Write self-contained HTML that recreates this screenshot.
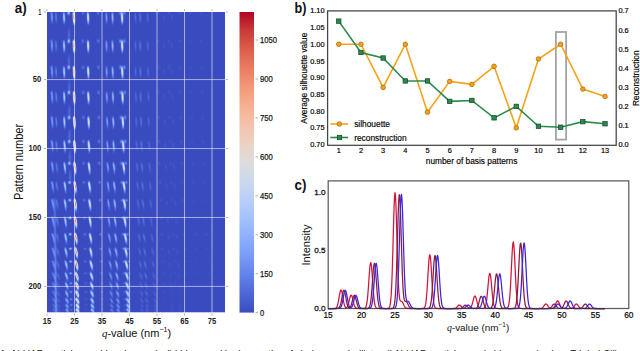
<!DOCTYPE html>
<html><head><meta charset="utf-8"><style>
html,body{margin:0;padding:0;background:#fff;width:640px;height:351px;overflow:hidden}
</style></head><body>
<svg width="640" height="351" viewBox="0 0 640 351" style="position:absolute;left:0;top:0;font-family:'Liberation Sans', sans-serif">
<rect width="640" height="351" fill="#fff"/>
<defs><filter id="cm" x="0" y="0" width="1" height="1" filterUnits="objectBoundingBox" color-interpolation-filters="sRGB"><feComponentTransfer><feFuncR type="table" tableValues="0.2275 0.3020 0.3804 0.4667 0.5529 0.6392 0.7216 0.8000 0.8667 0.9255 0.9569 0.9686 0.9529 0.9176 0.8627 0.7882 0.7020"/><feFuncG type="table" tableValues="0.2980 0.4039 0.5098 0.6039 0.6863 0.7569 0.8118 0.8471 0.8627 0.8235 0.7647 0.6902 0.5961 0.4902 0.3686 0.2314 0.0118"/><feFuncB type="table" tableValues="0.7529 0.8431 0.9176 0.9647 0.9922 0.9961 0.9725 0.9294 0.8588 0.7686 0.6706 0.5725 0.4745 0.3804 0.2941 0.2157 0.1490"/></feComponentTransfer></filter>
<radialGradient id="gb"><stop offset="0.000" stop-color="#fff" stop-opacity="1.000"/><stop offset="0.167" stop-color="#fff" stop-opacity="0.882"/><stop offset="0.333" stop-color="#fff" stop-opacity="0.607"/><stop offset="0.500" stop-color="#fff" stop-opacity="0.325"/><stop offset="0.667" stop-color="#fff" stop-opacity="0.135"/><stop offset="0.833" stop-color="#fff" stop-opacity="0.044"/><stop offset="1.000" stop-color="#fff" stop-opacity="0.011"/></radialGradient>
<clipPath id="hc"><rect x="47.0" y="12.0" width="178.0" height="300.6"/></clipPath></defs>
<g filter="url(#cm)" clip-path="url(#hc)" fill="url(#gb)"><rect x="47.0" y="12.0" width="178.0" height="300.6" fill="#000"/>
<ellipse cx="51.6" cy="13" rx="2.04" ry="3.2" opacity=".052"/>
<ellipse cx="51.7" cy="14.3" rx="2.04" ry="3.2" opacity=".077"/>
<ellipse cx="51.8" cy="15.6" rx="2.04" ry="3.2" opacity=".098"/>
<ellipse cx="51.9" cy="17" rx="2.04" ry="3.2" opacity=".11"/>
<ellipse cx="52" cy="18.3" rx="2.04" ry="3.2" opacity=".106"/>
<ellipse cx="52" cy="19.6" rx="2.04" ry="3.2" opacity=".088"/>
<ellipse cx="52.1" cy="21" rx="2.04" ry="3.2" opacity=".064"/>
<ellipse cx="52.1" cy="22.3" rx="2.04" ry="3.2" opacity=".04"/>
<ellipse cx="52.1" cy="23.6" rx="2.04" ry="3.2" opacity=".022"/>
<ellipse cx="55.8" cy="13" rx="2.04" ry="3.2" opacity=".028"/>
<ellipse cx="55.9" cy="14.3" rx="2.04" ry="3.2" opacity=".042"/>
<ellipse cx="56" cy="15.6" rx="2.04" ry="3.2" opacity=".054"/>
<ellipse cx="56" cy="17" rx="2.04" ry="3.2" opacity=".06"/>
<ellipse cx="56.1" cy="18.3" rx="2.04" ry="3.2" opacity=".058"/>
<ellipse cx="56.2" cy="19.6" rx="2.04" ry="3.2" opacity=".048"/>
<ellipse cx="56.2" cy="21" rx="2.04" ry="3.2" opacity=".035"/>
<ellipse cx="56.2" cy="22.3" rx="2.04" ry="3.2" opacity=".022"/>
<ellipse cx="63.8" cy="13" rx="2.04" ry="3.2" opacity=".099"/>
<ellipse cx="63.9" cy="14.3" rx="2.04" ry="3.2" opacity=".146"/>
<ellipse cx="63.9" cy="15.6" rx="2.04" ry="3.2" opacity=".188"/>
<ellipse cx="64" cy="17" rx="2.04" ry="3.2" opacity=".209"/>
<ellipse cx="64.1" cy="18.3" rx="2.04" ry="3.2" opacity=".202"/>
<ellipse cx="64.1" cy="19.6" rx="2.04" ry="3.2" opacity=".169"/>
<ellipse cx="64.2" cy="21" rx="2.04" ry="3.2" opacity=".122"/>
<ellipse cx="64.2" cy="22.3" rx="2.04" ry="3.2" opacity=".077"/>
<ellipse cx="64.2" cy="23.6" rx="2.04" ry="3.2" opacity=".042"/>
<ellipse cx="73.7" cy="13" rx="1.98" ry="3.2" opacity=".32"/>
<ellipse cx="73.8" cy="14.3" rx="1.98" ry="3.2" opacity=".474"/>
<ellipse cx="73.9" cy="15.6" rx="1.98" ry="3.2" opacity=".608"/>
<ellipse cx="73.9" cy="17" rx="1.98" ry="3.2" opacity=".677"/>
<ellipse cx="74" cy="18.3" rx="1.98" ry="3.2" opacity=".653"/>
<ellipse cx="74" cy="19.6" rx="1.98" ry="3.2" opacity=".547"/>
<ellipse cx="74.1" cy="21" rx="1.98" ry="3.2" opacity=".396"/>
<ellipse cx="74.1" cy="22.3" rx="1.98" ry="3.2" opacity=".249"/>
<ellipse cx="74.1" cy="23.6" rx="1.98" ry="3.2" opacity=".136"/>
<ellipse cx="87.8" cy="13" rx="2.04" ry="3.2" opacity=".155"/>
<ellipse cx="87.9" cy="14.3" rx="2.04" ry="3.2" opacity=".23"/>
<ellipse cx="88" cy="15.6" rx="2.04" ry="3.2" opacity=".295"/>
<ellipse cx="88.1" cy="17" rx="2.04" ry="3.2" opacity=".329"/>
<ellipse cx="88.1" cy="18.3" rx="2.04" ry="3.2" opacity=".317"/>
<ellipse cx="88.2" cy="19.6" rx="2.04" ry="3.2" opacity=".265"/>
<ellipse cx="88.2" cy="21" rx="2.04" ry="3.2" opacity=".192"/>
<ellipse cx="88.3" cy="22.3" rx="2.04" ry="3.2" opacity=".121"/>
<ellipse cx="88.3" cy="23.6" rx="2.04" ry="3.2" opacity=".066"/>
<ellipse cx="106.2" cy="13" rx="2.04" ry="3.2" opacity=".052"/>
<ellipse cx="106.3" cy="14.3" rx="2.04" ry="3.2" opacity=".077"/>
<ellipse cx="106.4" cy="15.6" rx="2.04" ry="3.2" opacity=".098"/>
<ellipse cx="106.5" cy="17" rx="2.04" ry="3.2" opacity=".11"/>
<ellipse cx="106.5" cy="18.3" rx="2.04" ry="3.2" opacity=".106"/>
<ellipse cx="106.6" cy="19.6" rx="2.04" ry="3.2" opacity=".088"/>
<ellipse cx="106.6" cy="21" rx="2.04" ry="3.2" opacity=".064"/>
<ellipse cx="106.6" cy="22.3" rx="2.04" ry="3.2" opacity=".04"/>
<ellipse cx="106.6" cy="23.6" rx="2.04" ry="3.2" opacity=".022"/>
<ellipse cx="112.3" cy="13" rx="2.04" ry="3.2" opacity=".075"/>
<ellipse cx="112.4" cy="14.3" rx="2.04" ry="3.2" opacity=".111"/>
<ellipse cx="112.5" cy="15.6" rx="2.04" ry="3.2" opacity=".143"/>
<ellipse cx="112.5" cy="17" rx="2.04" ry="3.2" opacity=".159"/>
<ellipse cx="112.6" cy="18.3" rx="2.04" ry="3.2" opacity=".154"/>
<ellipse cx="112.6" cy="19.6" rx="2.04" ry="3.2" opacity=".129"/>
<ellipse cx="112.7" cy="21" rx="2.04" ry="3.2" opacity=".093"/>
<ellipse cx="112.7" cy="22.3" rx="2.04" ry="3.2" opacity=".059"/>
<ellipse cx="112.7" cy="23.6" rx="2.04" ry="3.2" opacity=".032"/>
<ellipse cx="121.8" cy="13" rx="2.04" ry="3.2" opacity=".16"/>
<ellipse cx="121.9" cy="14.3" rx="2.04" ry="3.2" opacity=".237"/>
<ellipse cx="122" cy="15.6" rx="2.04" ry="3.2" opacity=".304"/>
<ellipse cx="122.1" cy="17" rx="2.04" ry="3.2" opacity=".338"/>
<ellipse cx="122.2" cy="18.3" rx="2.04" ry="3.2" opacity=".327"/>
<ellipse cx="122.2" cy="19.6" rx="2.04" ry="3.2" opacity=".273"/>
<ellipse cx="122.2" cy="21" rx="2.04" ry="3.2" opacity=".198"/>
<ellipse cx="122.3" cy="22.3" rx="2.04" ry="3.2" opacity=".125"/>
<ellipse cx="122.3" cy="23.6" rx="2.04" ry="3.2" opacity=".068"/>
<ellipse cx="135.1" cy="13" rx="2.04" ry="3.2" opacity=".019"/>
<ellipse cx="135.2" cy="14.3" rx="2.04" ry="3.2" opacity=".028"/>
<ellipse cx="135.3" cy="15.6" rx="2.04" ry="3.2" opacity=".036"/>
<ellipse cx="135.4" cy="17" rx="2.04" ry="3.2" opacity=".04"/>
<ellipse cx="135.5" cy="18.3" rx="2.04" ry="3.2" opacity=".038"/>
<ellipse cx="135.5" cy="19.6" rx="2.04" ry="3.2" opacity=".032"/>
<ellipse cx="135.6" cy="21" rx="2.04" ry="3.2" opacity=".023"/>
<ellipse cx="135.6" cy="22.3" rx="2.04" ry="3.2" opacity=".015"/>
<ellipse cx="139.9" cy="13" rx="2.04" ry="3.2" opacity=".024"/>
<ellipse cx="140" cy="14.3" rx="2.04" ry="3.2" opacity=".035"/>
<ellipse cx="140.1" cy="15.6" rx="2.04" ry="3.2" opacity=".045"/>
<ellipse cx="140.2" cy="17" rx="2.04" ry="3.2" opacity=".05"/>
<ellipse cx="140.2" cy="18.3" rx="2.04" ry="3.2" opacity=".048"/>
<ellipse cx="140.3" cy="19.6" rx="2.04" ry="3.2" opacity=".04"/>
<ellipse cx="140.3" cy="21" rx="2.04" ry="3.2" opacity=".029"/>
<ellipse cx="140.3" cy="22.3" rx="2.04" ry="3.2" opacity=".018"/>
<ellipse cx="147.5" cy="13" rx="2.04" ry="3.2" opacity=".016"/>
<ellipse cx="147.6" cy="14.3" rx="2.04" ry="3.2" opacity=".024"/>
<ellipse cx="147.7" cy="15.6" rx="2.04" ry="3.2" opacity=".031"/>
<ellipse cx="147.8" cy="17" rx="2.04" ry="3.2" opacity=".035"/>
<ellipse cx="147.9" cy="18.3" rx="2.04" ry="3.2" opacity=".034"/>
<ellipse cx="147.9" cy="19.6" rx="2.04" ry="3.2" opacity=".028"/>
<ellipse cx="147.9" cy="21" rx="2.04" ry="3.2" opacity=".02"/>
<ellipse cx="148" cy="22.3" rx="2.04" ry="3.2" opacity=".013"/>
<ellipse cx="163.6" cy="15.6" rx="2.04" ry="3.2" opacity=".013"/>
<ellipse cx="163.7" cy="17" rx="2.04" ry="3.2" opacity=".015"/>
<ellipse cx="163.8" cy="18.3" rx="2.04" ry="3.2" opacity=".014"/>
<ellipse cx="163.8" cy="19.6" rx="2.04" ry="3.2" opacity=".012"/>
<ellipse cx="171.8" cy="15.6" rx="2.04" ry="3.2" opacity=".013"/>
<ellipse cx="171.9" cy="17" rx="2.04" ry="3.2" opacity=".015"/>
<ellipse cx="171.9" cy="18.3" rx="2.04" ry="3.2" opacity=".014"/>
<ellipse cx="172" cy="19.6" rx="2.04" ry="3.2" opacity=".012"/>
<ellipse cx="68.7" cy="12.8" rx="2.7" ry="3.9" opacity=".3"/>
<ellipse cx="82.9" cy="12.8" rx="2.7" ry="3.9" opacity=".09"/>
<ellipse cx="98.1" cy="12.8" rx="2.7" ry="3.9" opacity=".1"/>
<ellipse cx="120.2" cy="12.8" rx="2.7" ry="3.9" opacity=".14"/>
<ellipse cx="124.3" cy="12.8" rx="2.7" ry="3.9" opacity=".14"/>
<ellipse cx="51.3" cy="12.8" rx="2.7" ry="3.9" opacity=".06"/>
<ellipse cx="157.8" cy="12.8" rx="2.7" ry="3.9" opacity=".03"/>
<ellipse cx="168.7" cy="12.8" rx="2.7" ry="3.9" opacity=".025"/>
<ellipse cx="179.5" cy="12.8" rx="2.7" ry="3.9" opacity=".025"/>
<ellipse cx="190.4" cy="12.8" rx="2.7" ry="3.9" opacity=".02"/>
<ellipse cx="201.3" cy="12.8" rx="2.7" ry="3.9" opacity=".02"/>
<ellipse cx="51.7" cy="41.3" rx="2.04" ry="3.2" opacity=".052"/>
<ellipse cx="51.8" cy="42.6" rx="2.04" ry="3.2" opacity=".077"/>
<ellipse cx="51.9" cy="43.9" rx="2.04" ry="3.2" opacity=".098"/>
<ellipse cx="51.9" cy="45.3" rx="2.04" ry="3.2" opacity=".11"/>
<ellipse cx="52" cy="46.6" rx="2.04" ry="3.2" opacity=".106"/>
<ellipse cx="52" cy="47.9" rx="2.04" ry="3.2" opacity=".088"/>
<ellipse cx="52.1" cy="49.3" rx="2.04" ry="3.2" opacity=".064"/>
<ellipse cx="52.1" cy="50.6" rx="2.04" ry="3.2" opacity=".04"/>
<ellipse cx="52.1" cy="51.9" rx="2.04" ry="3.2" opacity=".022"/>
<ellipse cx="55.8" cy="41.3" rx="2.04" ry="3.2" opacity=".028"/>
<ellipse cx="55.9" cy="42.6" rx="2.04" ry="3.2" opacity=".042"/>
<ellipse cx="56" cy="43.9" rx="2.04" ry="3.2" opacity=".054"/>
<ellipse cx="56.1" cy="45.3" rx="2.04" ry="3.2" opacity=".06"/>
<ellipse cx="56.1" cy="46.6" rx="2.04" ry="3.2" opacity=".058"/>
<ellipse cx="56.2" cy="47.9" rx="2.04" ry="3.2" opacity=".048"/>
<ellipse cx="56.2" cy="49.3" rx="2.04" ry="3.2" opacity=".035"/>
<ellipse cx="56.2" cy="50.6" rx="2.04" ry="3.2" opacity=".022"/>
<ellipse cx="63.8" cy="41.3" rx="2.04" ry="3.2" opacity=".099"/>
<ellipse cx="63.9" cy="42.6" rx="2.04" ry="3.2" opacity=".146"/>
<ellipse cx="64" cy="43.9" rx="2.04" ry="3.2" opacity=".188"/>
<ellipse cx="64" cy="45.3" rx="2.04" ry="3.2" opacity=".209"/>
<ellipse cx="64.1" cy="46.6" rx="2.04" ry="3.2" opacity=".202"/>
<ellipse cx="64.2" cy="47.9" rx="2.04" ry="3.2" opacity=".169"/>
<ellipse cx="64.2" cy="49.3" rx="2.04" ry="3.2" opacity=".122"/>
<ellipse cx="64.2" cy="50.6" rx="2.04" ry="3.2" opacity=".077"/>
<ellipse cx="64.2" cy="51.9" rx="2.04" ry="3.2" opacity=".042"/>
<ellipse cx="73.7" cy="41.3" rx="1.98" ry="3.2" opacity=".32"/>
<ellipse cx="73.8" cy="42.6" rx="1.98" ry="3.2" opacity=".474"/>
<ellipse cx="73.9" cy="43.9" rx="1.98" ry="3.2" opacity=".608"/>
<ellipse cx="74" cy="45.3" rx="1.98" ry="3.2" opacity=".677"/>
<ellipse cx="74" cy="46.6" rx="1.98" ry="3.2" opacity=".653"/>
<ellipse cx="74.1" cy="47.9" rx="1.98" ry="3.2" opacity=".547"/>
<ellipse cx="74.1" cy="49.3" rx="1.98" ry="3.2" opacity=".396"/>
<ellipse cx="74.1" cy="50.6" rx="1.98" ry="3.2" opacity=".249"/>
<ellipse cx="74.1" cy="51.9" rx="1.98" ry="3.2" opacity=".136"/>
<ellipse cx="87.9" cy="41.3" rx="2.04" ry="3.2" opacity=".155"/>
<ellipse cx="88" cy="42.6" rx="2.04" ry="3.2" opacity=".23"/>
<ellipse cx="88.1" cy="43.9" rx="2.04" ry="3.2" opacity=".295"/>
<ellipse cx="88.1" cy="45.3" rx="2.04" ry="3.2" opacity=".329"/>
<ellipse cx="88.2" cy="46.6" rx="2.04" ry="3.2" opacity=".317"/>
<ellipse cx="88.2" cy="47.9" rx="2.04" ry="3.2" opacity=".265"/>
<ellipse cx="88.3" cy="49.3" rx="2.04" ry="3.2" opacity=".192"/>
<ellipse cx="88.3" cy="50.6" rx="2.04" ry="3.2" opacity=".121"/>
<ellipse cx="88.3" cy="51.9" rx="2.04" ry="3.2" opacity=".066"/>
<ellipse cx="106.3" cy="41.3" rx="2.04" ry="3.2" opacity=".052"/>
<ellipse cx="106.4" cy="42.6" rx="2.04" ry="3.2" opacity=".077"/>
<ellipse cx="106.4" cy="43.9" rx="2.04" ry="3.2" opacity=".098"/>
<ellipse cx="106.5" cy="45.3" rx="2.04" ry="3.2" opacity=".11"/>
<ellipse cx="106.6" cy="46.6" rx="2.04" ry="3.2" opacity=".106"/>
<ellipse cx="106.6" cy="47.9" rx="2.04" ry="3.2" opacity=".088"/>
<ellipse cx="106.7" cy="49.3" rx="2.04" ry="3.2" opacity=".064"/>
<ellipse cx="106.7" cy="50.6" rx="2.04" ry="3.2" opacity=".04"/>
<ellipse cx="106.7" cy="51.9" rx="2.04" ry="3.2" opacity=".022"/>
<ellipse cx="112.3" cy="41.3" rx="2.04" ry="3.2" opacity=".075"/>
<ellipse cx="112.4" cy="42.6" rx="2.04" ry="3.2" opacity=".111"/>
<ellipse cx="112.5" cy="43.9" rx="2.04" ry="3.2" opacity=".143"/>
<ellipse cx="112.6" cy="45.3" rx="2.04" ry="3.2" opacity=".159"/>
<ellipse cx="112.6" cy="46.6" rx="2.04" ry="3.2" opacity=".154"/>
<ellipse cx="112.7" cy="47.9" rx="2.04" ry="3.2" opacity=".129"/>
<ellipse cx="112.7" cy="49.3" rx="2.04" ry="3.2" opacity=".093"/>
<ellipse cx="112.8" cy="50.6" rx="2.04" ry="3.2" opacity=".059"/>
<ellipse cx="112.8" cy="51.9" rx="2.04" ry="3.2" opacity=".032"/>
<ellipse cx="121.9" cy="41.3" rx="2.04" ry="3.2" opacity=".16"/>
<ellipse cx="122" cy="42.6" rx="2.04" ry="3.2" opacity=".237"/>
<ellipse cx="122.1" cy="43.9" rx="2.04" ry="3.2" opacity=".304"/>
<ellipse cx="122.1" cy="45.3" rx="2.04" ry="3.2" opacity=".338"/>
<ellipse cx="122.2" cy="46.6" rx="2.04" ry="3.2" opacity=".327"/>
<ellipse cx="122.3" cy="47.9" rx="2.04" ry="3.2" opacity=".273"/>
<ellipse cx="122.3" cy="49.3" rx="2.04" ry="3.2" opacity=".198"/>
<ellipse cx="122.3" cy="50.6" rx="2.04" ry="3.2" opacity=".125"/>
<ellipse cx="122.3" cy="51.9" rx="2.04" ry="3.2" opacity=".068"/>
<ellipse cx="135.2" cy="41.3" rx="2.04" ry="3.2" opacity=".019"/>
<ellipse cx="135.3" cy="42.6" rx="2.04" ry="3.2" opacity=".028"/>
<ellipse cx="135.4" cy="43.9" rx="2.04" ry="3.2" opacity=".036"/>
<ellipse cx="135.5" cy="45.3" rx="2.04" ry="3.2" opacity=".04"/>
<ellipse cx="135.5" cy="46.6" rx="2.04" ry="3.2" opacity=".038"/>
<ellipse cx="135.6" cy="47.9" rx="2.04" ry="3.2" opacity=".032"/>
<ellipse cx="135.6" cy="49.3" rx="2.04" ry="3.2" opacity=".023"/>
<ellipse cx="135.6" cy="50.6" rx="2.04" ry="3.2" opacity=".015"/>
<ellipse cx="140" cy="41.3" rx="2.04" ry="3.2" opacity=".024"/>
<ellipse cx="140.1" cy="42.6" rx="2.04" ry="3.2" opacity=".035"/>
<ellipse cx="140.2" cy="43.9" rx="2.04" ry="3.2" opacity=".045"/>
<ellipse cx="140.2" cy="45.3" rx="2.04" ry="3.2" opacity=".05"/>
<ellipse cx="140.3" cy="46.6" rx="2.04" ry="3.2" opacity=".048"/>
<ellipse cx="140.3" cy="47.9" rx="2.04" ry="3.2" opacity=".04"/>
<ellipse cx="140.4" cy="49.3" rx="2.04" ry="3.2" opacity=".029"/>
<ellipse cx="140.4" cy="50.6" rx="2.04" ry="3.2" opacity=".018"/>
<ellipse cx="147.6" cy="41.3" rx="2.04" ry="3.2" opacity=".016"/>
<ellipse cx="147.7" cy="42.6" rx="2.04" ry="3.2" opacity=".024"/>
<ellipse cx="147.8" cy="43.9" rx="2.04" ry="3.2" opacity=".031"/>
<ellipse cx="147.9" cy="45.3" rx="2.04" ry="3.2" opacity=".035"/>
<ellipse cx="147.9" cy="46.6" rx="2.04" ry="3.2" opacity=".034"/>
<ellipse cx="148" cy="47.9" rx="2.04" ry="3.2" opacity=".028"/>
<ellipse cx="148" cy="49.3" rx="2.04" ry="3.2" opacity=".02"/>
<ellipse cx="148" cy="50.6" rx="2.04" ry="3.2" opacity=".013"/>
<ellipse cx="163.7" cy="43.9" rx="2.04" ry="3.2" opacity=".013"/>
<ellipse cx="163.8" cy="45.3" rx="2.04" ry="3.2" opacity=".015"/>
<ellipse cx="163.9" cy="46.6" rx="2.04" ry="3.2" opacity=".014"/>
<ellipse cx="163.9" cy="47.9" rx="2.04" ry="3.2" opacity=".012"/>
<ellipse cx="171.9" cy="43.9" rx="2.04" ry="3.2" opacity=".013"/>
<ellipse cx="172" cy="45.3" rx="2.04" ry="3.2" opacity=".015"/>
<ellipse cx="172" cy="46.6" rx="2.04" ry="3.2" opacity=".014"/>
<ellipse cx="172.1" cy="47.9" rx="2.04" ry="3.2" opacity=".012"/>
<ellipse cx="69" cy="36.1" rx="2.7" ry="6.6" opacity=".07"/>
<ellipse cx="69" cy="31.6" rx="2.7" ry="6.6" opacity=".04"/>
<ellipse cx="68.8" cy="41.1" rx="2.7" ry="3.9" opacity=".3"/>
<ellipse cx="82.9" cy="41.1" rx="2.7" ry="3.9" opacity=".09"/>
<ellipse cx="98.2" cy="41.1" rx="2.7" ry="3.9" opacity=".1"/>
<ellipse cx="120.2" cy="41.1" rx="2.7" ry="3.9" opacity=".14"/>
<ellipse cx="124.3" cy="41.1" rx="2.7" ry="3.9" opacity=".14"/>
<ellipse cx="51.3" cy="41.1" rx="2.7" ry="3.9" opacity=".06"/>
<ellipse cx="157.8" cy="41.1" rx="2.7" ry="3.9" opacity=".03"/>
<ellipse cx="168.7" cy="41.1" rx="2.7" ry="3.9" opacity=".025"/>
<ellipse cx="179.6" cy="41.1" rx="2.7" ry="3.9" opacity=".025"/>
<ellipse cx="190.5" cy="41.1" rx="2.7" ry="3.9" opacity=".02"/>
<ellipse cx="201.4" cy="41.1" rx="2.7" ry="3.9" opacity=".02"/>
<ellipse cx="51.7" cy="67.5" rx="2.04" ry="3.2" opacity=".054"/>
<ellipse cx="51.8" cy="68.8" rx="2.04" ry="3.2" opacity=".079"/>
<ellipse cx="51.9" cy="70.1" rx="2.04" ry="3.2" opacity=".1"/>
<ellipse cx="52" cy="71.5" rx="2.04" ry="3.2" opacity=".11"/>
<ellipse cx="52.1" cy="72.8" rx="2.04" ry="3.2" opacity=".104"/>
<ellipse cx="52.1" cy="74.1" rx="2.04" ry="3.2" opacity=".086"/>
<ellipse cx="52.2" cy="75.5" rx="2.04" ry="3.2" opacity=".061"/>
<ellipse cx="52.2" cy="76.8" rx="2.04" ry="3.2" opacity=".038"/>
<ellipse cx="52.2" cy="78.1" rx="2.04" ry="3.2" opacity=".02"/>
<ellipse cx="55.8" cy="67.5" rx="2.04" ry="3.2" opacity=".03"/>
<ellipse cx="56" cy="68.8" rx="2.04" ry="3.2" opacity=".043"/>
<ellipse cx="56.1" cy="70.1" rx="2.04" ry="3.2" opacity=".055"/>
<ellipse cx="56.1" cy="71.5" rx="2.04" ry="3.2" opacity=".06"/>
<ellipse cx="56.2" cy="72.8" rx="2.04" ry="3.2" opacity=".057"/>
<ellipse cx="56.3" cy="74.1" rx="2.04" ry="3.2" opacity=".047"/>
<ellipse cx="56.3" cy="75.5" rx="2.04" ry="3.2" opacity=".034"/>
<ellipse cx="56.3" cy="76.8" rx="2.04" ry="3.2" opacity=".021"/>
<ellipse cx="63.8" cy="67.5" rx="2.04" ry="3.2" opacity=".104"/>
<ellipse cx="64" cy="68.8" rx="2.04" ry="3.2" opacity=".151"/>
<ellipse cx="64.1" cy="70.1" rx="2.04" ry="3.2" opacity=".191"/>
<ellipse cx="64.1" cy="71.5" rx="2.04" ry="3.2" opacity=".21"/>
<ellipse cx="64.2" cy="72.8" rx="2.04" ry="3.2" opacity=".199"/>
<ellipse cx="64.3" cy="74.1" rx="2.04" ry="3.2" opacity=".164"/>
<ellipse cx="64.3" cy="75.5" rx="2.04" ry="3.2" opacity=".117"/>
<ellipse cx="64.3" cy="76.8" rx="2.04" ry="3.2" opacity=".073"/>
<ellipse cx="64.3" cy="78.1" rx="2.04" ry="3.2" opacity=".039"/>
<ellipse cx="73.8" cy="67.5" rx="1.98" ry="3.2" opacity=".336"/>
<ellipse cx="73.9" cy="68.8" rx="1.98" ry="3.2" opacity=".49"/>
<ellipse cx="74" cy="70.1" rx="1.98" ry="3.2" opacity=".619"/>
<ellipse cx="74.1" cy="71.5" rx="1.98" ry="3.2" opacity=".679"/>
<ellipse cx="74.1" cy="72.8" rx="1.98" ry="3.2" opacity=".645"/>
<ellipse cx="74.2" cy="74.1" rx="1.98" ry="3.2" opacity=".532"/>
<ellipse cx="74.2" cy="75.5" rx="1.98" ry="3.2" opacity=".38"/>
<ellipse cx="74.3" cy="76.8" rx="1.98" ry="3.2" opacity=".235"/>
<ellipse cx="74.3" cy="78.1" rx="1.98" ry="3.2" opacity=".126"/>
<ellipse cx="87.9" cy="67.5" rx="2.04" ry="3.2" opacity=".163"/>
<ellipse cx="88.1" cy="68.8" rx="2.04" ry="3.2" opacity=".238"/>
<ellipse cx="88.2" cy="70.1" rx="2.04" ry="3.2" opacity=".301"/>
<ellipse cx="88.2" cy="71.5" rx="2.04" ry="3.2" opacity=".33"/>
<ellipse cx="88.3" cy="72.8" rx="2.04" ry="3.2" opacity=".313"/>
<ellipse cx="88.4" cy="74.1" rx="2.04" ry="3.2" opacity=".258"/>
<ellipse cx="88.4" cy="75.5" rx="2.04" ry="3.2" opacity=".184"/>
<ellipse cx="88.4" cy="76.8" rx="2.04" ry="3.2" opacity=".114"/>
<ellipse cx="88.5" cy="78.1" rx="2.04" ry="3.2" opacity=".061"/>
<ellipse cx="106.4" cy="67.5" rx="2.04" ry="3.2" opacity=".054"/>
<ellipse cx="106.5" cy="68.8" rx="2.04" ry="3.2" opacity=".079"/>
<ellipse cx="106.6" cy="70.1" rx="2.04" ry="3.2" opacity=".1"/>
<ellipse cx="106.7" cy="71.5" rx="2.04" ry="3.2" opacity=".11"/>
<ellipse cx="106.7" cy="72.8" rx="2.04" ry="3.2" opacity=".104"/>
<ellipse cx="106.8" cy="74.1" rx="2.04" ry="3.2" opacity=".086"/>
<ellipse cx="106.8" cy="75.5" rx="2.04" ry="3.2" opacity=".061"/>
<ellipse cx="106.9" cy="76.8" rx="2.04" ry="3.2" opacity=".038"/>
<ellipse cx="106.9" cy="78.1" rx="2.04" ry="3.2" opacity=".02"/>
<ellipse cx="112.4" cy="67.5" rx="2.04" ry="3.2" opacity=".079"/>
<ellipse cx="112.6" cy="68.8" rx="2.04" ry="3.2" opacity=".115"/>
<ellipse cx="112.7" cy="70.1" rx="2.04" ry="3.2" opacity=".146"/>
<ellipse cx="112.7" cy="71.5" rx="2.04" ry="3.2" opacity=".16"/>
<ellipse cx="112.8" cy="72.8" rx="2.04" ry="3.2" opacity=".152"/>
<ellipse cx="112.9" cy="74.1" rx="2.04" ry="3.2" opacity=".125"/>
<ellipse cx="112.9" cy="75.5" rx="2.04" ry="3.2" opacity=".089"/>
<ellipse cx="112.9" cy="76.8" rx="2.04" ry="3.2" opacity=".055"/>
<ellipse cx="113" cy="78.1" rx="2.04" ry="3.2" opacity=".03"/>
<ellipse cx="122" cy="67.5" rx="2.04" ry="3.2" opacity=".168"/>
<ellipse cx="122.1" cy="68.8" rx="2.04" ry="3.2" opacity=".245"/>
<ellipse cx="122.2" cy="70.1" rx="2.04" ry="3.2" opacity=".31"/>
<ellipse cx="122.3" cy="71.5" rx="2.04" ry="3.2" opacity=".339"/>
<ellipse cx="122.4" cy="72.8" rx="2.04" ry="3.2" opacity=".323"/>
<ellipse cx="122.4" cy="74.1" rx="2.04" ry="3.2" opacity=".266"/>
<ellipse cx="122.5" cy="75.5" rx="2.04" ry="3.2" opacity=".19"/>
<ellipse cx="122.5" cy="76.8" rx="2.04" ry="3.2" opacity=".118"/>
<ellipse cx="122.5" cy="78.1" rx="2.04" ry="3.2" opacity=".063"/>
<ellipse cx="135.4" cy="67.5" rx="2.04" ry="3.2" opacity=".02"/>
<ellipse cx="135.5" cy="68.8" rx="2.04" ry="3.2" opacity=".029"/>
<ellipse cx="135.6" cy="70.1" rx="2.04" ry="3.2" opacity=".036"/>
<ellipse cx="135.6" cy="71.5" rx="2.04" ry="3.2" opacity=".04"/>
<ellipse cx="135.7" cy="72.8" rx="2.04" ry="3.2" opacity=".038"/>
<ellipse cx="135.8" cy="74.1" rx="2.04" ry="3.2" opacity=".031"/>
<ellipse cx="135.8" cy="75.5" rx="2.04" ry="3.2" opacity=".022"/>
<ellipse cx="135.8" cy="76.8" rx="2.04" ry="3.2" opacity=".014"/>
<ellipse cx="140.1" cy="67.5" rx="2.04" ry="3.2" opacity=".025"/>
<ellipse cx="140.2" cy="68.8" rx="2.04" ry="3.2" opacity=".036"/>
<ellipse cx="140.3" cy="70.1" rx="2.04" ry="3.2" opacity=".046"/>
<ellipse cx="140.4" cy="71.5" rx="2.04" ry="3.2" opacity=".05"/>
<ellipse cx="140.5" cy="72.8" rx="2.04" ry="3.2" opacity=".047"/>
<ellipse cx="140.6" cy="74.1" rx="2.04" ry="3.2" opacity=".039"/>
<ellipse cx="140.6" cy="75.5" rx="2.04" ry="3.2" opacity=".028"/>
<ellipse cx="140.6" cy="76.8" rx="2.04" ry="3.2" opacity=".017"/>
<ellipse cx="147.8" cy="67.5" rx="2.04" ry="3.2" opacity=".017"/>
<ellipse cx="147.9" cy="68.8" rx="2.04" ry="3.2" opacity=".025"/>
<ellipse cx="148" cy="70.1" rx="2.04" ry="3.2" opacity=".032"/>
<ellipse cx="148.1" cy="71.5" rx="2.04" ry="3.2" opacity=".035"/>
<ellipse cx="148.1" cy="72.8" rx="2.04" ry="3.2" opacity=".033"/>
<ellipse cx="148.2" cy="74.1" rx="2.04" ry="3.2" opacity=".027"/>
<ellipse cx="148.2" cy="75.5" rx="2.04" ry="3.2" opacity=".02"/>
<ellipse cx="148.3" cy="76.8" rx="2.04" ry="3.2" opacity=".012"/>
<ellipse cx="163.9" cy="70.1" rx="2.04" ry="3.2" opacity=".014"/>
<ellipse cx="164" cy="71.5" rx="2.04" ry="3.2" opacity=".015"/>
<ellipse cx="164.1" cy="72.8" rx="2.04" ry="3.2" opacity=".014"/>
<ellipse cx="172.1" cy="70.1" rx="2.04" ry="3.2" opacity=".014"/>
<ellipse cx="172.2" cy="71.5" rx="2.04" ry="3.2" opacity=".015"/>
<ellipse cx="172.3" cy="72.8" rx="2.04" ry="3.2" opacity=".014"/>
<ellipse cx="69.1" cy="62.3" rx="2.7" ry="6.6" opacity=".07"/>
<ellipse cx="69.1" cy="57.8" rx="2.7" ry="6.6" opacity=".04"/>
<ellipse cx="68.8" cy="67.3" rx="2.7" ry="3.9" opacity=".3"/>
<ellipse cx="83" cy="67.3" rx="2.7" ry="3.9" opacity=".09"/>
<ellipse cx="98.3" cy="67.3" rx="2.7" ry="3.9" opacity=".1"/>
<ellipse cx="120.4" cy="67.3" rx="2.7" ry="3.9" opacity=".14"/>
<ellipse cx="124.5" cy="67.3" rx="2.7" ry="3.9" opacity=".14"/>
<ellipse cx="51.4" cy="67.3" rx="2.7" ry="3.9" opacity=".06"/>
<ellipse cx="158" cy="67.3" rx="2.7" ry="3.9" opacity=".03"/>
<ellipse cx="168.9" cy="67.3" rx="2.7" ry="3.9" opacity=".025"/>
<ellipse cx="179.8" cy="67.3" rx="2.7" ry="3.9" opacity=".025"/>
<ellipse cx="190.7" cy="67.3" rx="2.7" ry="3.9" opacity=".02"/>
<ellipse cx="201.7" cy="67.3" rx="2.7" ry="3.9" opacity=".02"/>
<ellipse cx="51.8" cy="92.7" rx="2.04" ry="3.2" opacity=".055"/>
<ellipse cx="51.9" cy="94" rx="2.04" ry="3.2" opacity=".08"/>
<ellipse cx="52" cy="95.3" rx="2.04" ry="3.2" opacity=".101"/>
<ellipse cx="52.1" cy="96.7" rx="2.04" ry="3.2" opacity=".11"/>
<ellipse cx="52.2" cy="98" rx="2.04" ry="3.2" opacity=".104"/>
<ellipse cx="52.2" cy="99.3" rx="2.04" ry="3.2" opacity=".085"/>
<ellipse cx="52.3" cy="100.7" rx="2.04" ry="3.2" opacity=".061"/>
<ellipse cx="52.3" cy="102" rx="2.04" ry="3.2" opacity=".038"/>
<ellipse cx="52.3" cy="103.3" rx="2.04" ry="3.2" opacity=".02"/>
<ellipse cx="55.9" cy="92.7" rx="2.04" ry="3.2" opacity=".03"/>
<ellipse cx="56.1" cy="94" rx="2.04" ry="3.2" opacity=".044"/>
<ellipse cx="56.2" cy="95.3" rx="2.04" ry="3.2" opacity=".055"/>
<ellipse cx="56.3" cy="96.7" rx="2.04" ry="3.2" opacity=".06"/>
<ellipse cx="56.3" cy="98" rx="2.04" ry="3.2" opacity=".057"/>
<ellipse cx="56.4" cy="99.3" rx="2.04" ry="3.2" opacity=".047"/>
<ellipse cx="56.4" cy="100.7" rx="2.04" ry="3.2" opacity=".033"/>
<ellipse cx="56.5" cy="102" rx="2.04" ry="3.2" opacity=".02"/>
<ellipse cx="63.9" cy="92.7" rx="2.04" ry="3.2" opacity=".105"/>
<ellipse cx="64.1" cy="94" rx="2.04" ry="3.2" opacity=".152"/>
<ellipse cx="64.2" cy="95.3" rx="2.04" ry="3.2" opacity=".192"/>
<ellipse cx="64.3" cy="96.7" rx="2.04" ry="3.2" opacity=".21"/>
<ellipse cx="64.3" cy="98" rx="2.04" ry="3.2" opacity=".199"/>
<ellipse cx="64.4" cy="99.3" rx="2.04" ry="3.2" opacity=".163"/>
<ellipse cx="64.4" cy="100.7" rx="2.04" ry="3.2" opacity=".116"/>
<ellipse cx="64.5" cy="102" rx="2.04" ry="3.2" opacity=".072"/>
<ellipse cx="64.5" cy="103.3" rx="2.04" ry="3.2" opacity=".038"/>
<ellipse cx="73.9" cy="92.7" rx="1.98" ry="3.2" opacity=".34"/>
<ellipse cx="74" cy="94" rx="1.98" ry="3.2" opacity=".494"/>
<ellipse cx="74.1" cy="95.3" rx="1.98" ry="3.2" opacity=".622"/>
<ellipse cx="74.2" cy="96.7" rx="1.98" ry="3.2" opacity=".679"/>
<ellipse cx="74.3" cy="98" rx="1.98" ry="3.2" opacity=".643"/>
<ellipse cx="74.3" cy="99.3" rx="1.98" ry="3.2" opacity=".528"/>
<ellipse cx="74.4" cy="100.7" rx="1.98" ry="3.2" opacity=".376"/>
<ellipse cx="74.4" cy="102" rx="1.98" ry="3.2" opacity=".232"/>
<ellipse cx="74.4" cy="103.3" rx="1.98" ry="3.2" opacity=".124"/>
<ellipse cx="88.1" cy="92.7" rx="2.04" ry="3.2" opacity=".165"/>
<ellipse cx="88.2" cy="94" rx="2.04" ry="3.2" opacity=".24"/>
<ellipse cx="88.3" cy="95.3" rx="2.04" ry="3.2" opacity=".302"/>
<ellipse cx="88.4" cy="96.7" rx="2.04" ry="3.2" opacity=".33"/>
<ellipse cx="88.5" cy="98" rx="2.04" ry="3.2" opacity=".312"/>
<ellipse cx="88.6" cy="99.3" rx="2.04" ry="3.2" opacity=".256"/>
<ellipse cx="88.6" cy="100.7" rx="2.04" ry="3.2" opacity=".182"/>
<ellipse cx="88.6" cy="102" rx="2.04" ry="3.2" opacity=".113"/>
<ellipse cx="88.6" cy="103.3" rx="2.04" ry="3.2" opacity=".06"/>
<ellipse cx="106.6" cy="92.7" rx="2.04" ry="3.2" opacity=".055"/>
<ellipse cx="106.7" cy="94" rx="2.04" ry="3.2" opacity=".08"/>
<ellipse cx="106.8" cy="95.3" rx="2.04" ry="3.2" opacity=".101"/>
<ellipse cx="106.9" cy="96.7" rx="2.04" ry="3.2" opacity=".11"/>
<ellipse cx="106.9" cy="98" rx="2.04" ry="3.2" opacity=".104"/>
<ellipse cx="107" cy="99.3" rx="2.04" ry="3.2" opacity=".085"/>
<ellipse cx="107" cy="100.7" rx="2.04" ry="3.2" opacity=".061"/>
<ellipse cx="107.1" cy="102" rx="2.04" ry="3.2" opacity=".038"/>
<ellipse cx="107.1" cy="103.3" rx="2.04" ry="3.2" opacity=".02"/>
<ellipse cx="112.7" cy="92.7" rx="2.04" ry="3.2" opacity=".08"/>
<ellipse cx="112.8" cy="94" rx="2.04" ry="3.2" opacity=".116"/>
<ellipse cx="112.9" cy="95.3" rx="2.04" ry="3.2" opacity=".146"/>
<ellipse cx="113" cy="96.7" rx="2.04" ry="3.2" opacity=".16"/>
<ellipse cx="113" cy="98" rx="2.04" ry="3.2" opacity=".151"/>
<ellipse cx="113.1" cy="99.3" rx="2.04" ry="3.2" opacity=".124"/>
<ellipse cx="113.1" cy="100.7" rx="2.04" ry="3.2" opacity=".088"/>
<ellipse cx="113.2" cy="102" rx="2.04" ry="3.2" opacity=".055"/>
<ellipse cx="113.2" cy="103.3" rx="2.04" ry="3.2" opacity=".029"/>
<ellipse cx="122.2" cy="92.7" rx="2.04" ry="3.2" opacity=".17"/>
<ellipse cx="122.4" cy="94" rx="2.04" ry="3.2" opacity=".247"/>
<ellipse cx="122.5" cy="95.3" rx="2.04" ry="3.2" opacity=".311"/>
<ellipse cx="122.6" cy="96.7" rx="2.04" ry="3.2" opacity=".34"/>
<ellipse cx="122.6" cy="98" rx="2.04" ry="3.2" opacity=".322"/>
<ellipse cx="122.7" cy="99.3" rx="2.04" ry="3.2" opacity=".264"/>
<ellipse cx="122.7" cy="100.7" rx="2.04" ry="3.2" opacity=".188"/>
<ellipse cx="122.8" cy="102" rx="2.04" ry="3.2" opacity=".116"/>
<ellipse cx="122.8" cy="103.3" rx="2.04" ry="3.2" opacity=".062"/>
<ellipse cx="135.6" cy="92.7" rx="2.04" ry="3.2" opacity=".02"/>
<ellipse cx="135.7" cy="94" rx="2.04" ry="3.2" opacity=".029"/>
<ellipse cx="135.8" cy="95.3" rx="2.04" ry="3.2" opacity=".037"/>
<ellipse cx="135.9" cy="96.7" rx="2.04" ry="3.2" opacity=".04"/>
<ellipse cx="136" cy="98" rx="2.04" ry="3.2" opacity=".038"/>
<ellipse cx="136.1" cy="99.3" rx="2.04" ry="3.2" opacity=".031"/>
<ellipse cx="136.1" cy="100.7" rx="2.04" ry="3.2" opacity=".022"/>
<ellipse cx="136.1" cy="102" rx="2.04" ry="3.2" opacity=".014"/>
<ellipse cx="140.4" cy="92.7" rx="2.04" ry="3.2" opacity=".025"/>
<ellipse cx="140.5" cy="94" rx="2.04" ry="3.2" opacity=".036"/>
<ellipse cx="140.6" cy="95.3" rx="2.04" ry="3.2" opacity=".046"/>
<ellipse cx="140.7" cy="96.7" rx="2.04" ry="3.2" opacity=".05"/>
<ellipse cx="140.8" cy="98" rx="2.04" ry="3.2" opacity=".047"/>
<ellipse cx="140.8" cy="99.3" rx="2.04" ry="3.2" opacity=".039"/>
<ellipse cx="140.9" cy="100.7" rx="2.04" ry="3.2" opacity=".028"/>
<ellipse cx="140.9" cy="102" rx="2.04" ry="3.2" opacity=".017"/>
<ellipse cx="148" cy="92.7" rx="2.04" ry="3.2" opacity=".017"/>
<ellipse cx="148.2" cy="94" rx="2.04" ry="3.2" opacity=".025"/>
<ellipse cx="148.3" cy="95.3" rx="2.04" ry="3.2" opacity=".032"/>
<ellipse cx="148.4" cy="96.7" rx="2.04" ry="3.2" opacity=".035"/>
<ellipse cx="148.4" cy="98" rx="2.04" ry="3.2" opacity=".033"/>
<ellipse cx="148.5" cy="99.3" rx="2.04" ry="3.2" opacity=".027"/>
<ellipse cx="148.5" cy="100.7" rx="2.04" ry="3.2" opacity=".019"/>
<ellipse cx="164.3" cy="95.3" rx="2.04" ry="3.2" opacity=".014"/>
<ellipse cx="164.3" cy="96.7" rx="2.04" ry="3.2" opacity=".015"/>
<ellipse cx="164.4" cy="98" rx="2.04" ry="3.2" opacity=".014"/>
<ellipse cx="172.5" cy="95.3" rx="2.04" ry="3.2" opacity=".014"/>
<ellipse cx="172.5" cy="96.7" rx="2.04" ry="3.2" opacity=".015"/>
<ellipse cx="172.6" cy="98" rx="2.04" ry="3.2" opacity=".014"/>
<ellipse cx="69.2" cy="87.5" rx="2.7" ry="6.6" opacity=".07"/>
<ellipse cx="69.2" cy="83" rx="2.7" ry="6.6" opacity=".04"/>
<ellipse cx="69" cy="92.5" rx="2.7" ry="3.78" opacity=".3"/>
<ellipse cx="83.2" cy="92.5" rx="2.7" ry="3.78" opacity=".09"/>
<ellipse cx="98.5" cy="92.5" rx="2.7" ry="3.78" opacity=".1"/>
<ellipse cx="120.6" cy="92.5" rx="2.7" ry="3.78" opacity=".14"/>
<ellipse cx="124.7" cy="92.5" rx="2.7" ry="3.78" opacity=".14"/>
<ellipse cx="51.5" cy="92.5" rx="2.7" ry="3.78" opacity=".06"/>
<ellipse cx="158.3" cy="92.5" rx="2.7" ry="3.78" opacity=".03"/>
<ellipse cx="169.3" cy="92.5" rx="2.7" ry="3.78" opacity=".025"/>
<ellipse cx="180.2" cy="92.5" rx="2.7" ry="3.78" opacity=".025"/>
<ellipse cx="191.1" cy="92.5" rx="2.7" ry="3.78" opacity=".02"/>
<ellipse cx="202.1" cy="92.5" rx="2.7" ry="3.78" opacity=".02"/>
<ellipse cx="51.9" cy="117.7" rx="2.04" ry="3.2" opacity=".058"/>
<ellipse cx="52" cy="119" rx="2.04" ry="3.2" opacity=".083"/>
<ellipse cx="52.1" cy="120.3" rx="2.04" ry="3.2" opacity=".103"/>
<ellipse cx="52.2" cy="121.7" rx="2.04" ry="3.2" opacity=".11"/>
<ellipse cx="52.3" cy="123" rx="2.04" ry="3.2" opacity=".102"/>
<ellipse cx="52.4" cy="124.3" rx="2.04" ry="3.2" opacity=".082"/>
<ellipse cx="52.5" cy="125.7" rx="2.04" ry="3.2" opacity=".058"/>
<ellipse cx="52.5" cy="127" rx="2.04" ry="3.2" opacity=".035"/>
<ellipse cx="52.5" cy="128.3" rx="2.04" ry="3.2" opacity=".018"/>
<ellipse cx="56" cy="117.7" rx="2.04" ry="3.2" opacity=".032"/>
<ellipse cx="56.2" cy="119" rx="2.04" ry="3.2" opacity=".045"/>
<ellipse cx="56.3" cy="120.3" rx="2.04" ry="3.2" opacity=".056"/>
<ellipse cx="56.4" cy="121.7" rx="2.04" ry="3.2" opacity=".06"/>
<ellipse cx="56.5" cy="123" rx="2.04" ry="3.2" opacity=".056"/>
<ellipse cx="56.6" cy="124.3" rx="2.04" ry="3.2" opacity=".045"/>
<ellipse cx="56.6" cy="125.7" rx="2.04" ry="3.2" opacity=".031"/>
<ellipse cx="56.7" cy="127" rx="2.04" ry="3.2" opacity=".019"/>
<ellipse cx="64.1" cy="117.7" rx="2.04" ry="3.2" opacity=".111"/>
<ellipse cx="64.2" cy="119" rx="2.04" ry="3.2" opacity=".158"/>
<ellipse cx="64.3" cy="120.3" rx="2.04" ry="3.2" opacity=".196"/>
<ellipse cx="64.4" cy="121.7" rx="2.04" ry="3.2" opacity=".21"/>
<ellipse cx="64.5" cy="123" rx="2.04" ry="3.2" opacity=".195"/>
<ellipse cx="64.6" cy="124.3" rx="2.04" ry="3.2" opacity=".157"/>
<ellipse cx="64.7" cy="125.7" rx="2.04" ry="3.2" opacity=".11"/>
<ellipse cx="64.7" cy="127" rx="2.04" ry="3.2" opacity=".067"/>
<ellipse cx="64.7" cy="128.3" rx="2.04" ry="3.2" opacity=".035"/>
<ellipse cx="74" cy="117.7" rx="1.98" ry="3.2" opacity=".36"/>
<ellipse cx="74.2" cy="119" rx="1.98" ry="3.2" opacity=".513"/>
<ellipse cx="74.3" cy="120.3" rx="1.98" ry="3.2" opacity=".634"/>
<ellipse cx="74.4" cy="121.7" rx="1.98" ry="3.2" opacity=".68"/>
<ellipse cx="74.5" cy="123" rx="1.98" ry="3.2" opacity=".632"/>
<ellipse cx="74.6" cy="124.3" rx="1.98" ry="3.2" opacity=".509"/>
<ellipse cx="74.6" cy="125.7" rx="1.98" ry="3.2" opacity=".356"/>
<ellipse cx="74.7" cy="127" rx="1.98" ry="3.2" opacity=".216"/>
<ellipse cx="74.7" cy="128.3" rx="1.98" ry="3.2" opacity=".113"/>
<ellipse cx="88.3" cy="117.7" rx="2.04" ry="3.2" opacity=".175"/>
<ellipse cx="88.4" cy="119" rx="2.04" ry="3.2" opacity=".249"/>
<ellipse cx="88.6" cy="120.3" rx="2.04" ry="3.2" opacity=".308"/>
<ellipse cx="88.7" cy="121.7" rx="2.04" ry="3.2" opacity=".33"/>
<ellipse cx="88.8" cy="123" rx="2.04" ry="3.2" opacity=".307"/>
<ellipse cx="88.8" cy="124.3" rx="2.04" ry="3.2" opacity=".247"/>
<ellipse cx="88.9" cy="125.7" rx="2.04" ry="3.2" opacity=".173"/>
<ellipse cx="88.9" cy="127" rx="2.04" ry="3.2" opacity=".105"/>
<ellipse cx="88.9" cy="128.3" rx="2.04" ry="3.2" opacity=".055"/>
<ellipse cx="106.8" cy="117.7" rx="2.04" ry="3.2" opacity=".058"/>
<ellipse cx="106.9" cy="119" rx="2.04" ry="3.2" opacity=".083"/>
<ellipse cx="107.1" cy="120.3" rx="2.04" ry="3.2" opacity=".103"/>
<ellipse cx="107.2" cy="121.7" rx="2.04" ry="3.2" opacity=".11"/>
<ellipse cx="107.3" cy="123" rx="2.04" ry="3.2" opacity=".102"/>
<ellipse cx="107.3" cy="124.3" rx="2.04" ry="3.2" opacity=".082"/>
<ellipse cx="107.4" cy="125.7" rx="2.04" ry="3.2" opacity=".058"/>
<ellipse cx="107.4" cy="127" rx="2.04" ry="3.2" opacity=".035"/>
<ellipse cx="107.4" cy="128.3" rx="2.04" ry="3.2" opacity=".018"/>
<ellipse cx="112.9" cy="117.7" rx="2.04" ry="3.2" opacity=".085"/>
<ellipse cx="113" cy="119" rx="2.04" ry="3.2" opacity=".121"/>
<ellipse cx="113.2" cy="120.3" rx="2.04" ry="3.2" opacity=".149"/>
<ellipse cx="113.3" cy="121.7" rx="2.04" ry="3.2" opacity=".16"/>
<ellipse cx="113.4" cy="123" rx="2.04" ry="3.2" opacity=".149"/>
<ellipse cx="113.4" cy="124.3" rx="2.04" ry="3.2" opacity=".12"/>
<ellipse cx="113.5" cy="125.7" rx="2.04" ry="3.2" opacity=".084"/>
<ellipse cx="113.5" cy="127" rx="2.04" ry="3.2" opacity=".051"/>
<ellipse cx="113.5" cy="128.3" rx="2.04" ry="3.2" opacity=".027"/>
<ellipse cx="122.5" cy="117.7" rx="2.04" ry="3.2" opacity=".18"/>
<ellipse cx="122.7" cy="119" rx="2.04" ry="3.2" opacity=".256"/>
<ellipse cx="122.8" cy="120.3" rx="2.04" ry="3.2" opacity=".317"/>
<ellipse cx="122.9" cy="121.7" rx="2.04" ry="3.2" opacity=".34"/>
<ellipse cx="123" cy="123" rx="2.04" ry="3.2" opacity=".316"/>
<ellipse cx="123.1" cy="124.3" rx="2.04" ry="3.2" opacity=".255"/>
<ellipse cx="123.1" cy="125.7" rx="2.04" ry="3.2" opacity=".178"/>
<ellipse cx="123.1" cy="127" rx="2.04" ry="3.2" opacity=".108"/>
<ellipse cx="123.2" cy="128.3" rx="2.04" ry="3.2" opacity=".057"/>
<ellipse cx="135.9" cy="117.7" rx="2.04" ry="3.2" opacity=".021"/>
<ellipse cx="136.1" cy="119" rx="2.04" ry="3.2" opacity=".03"/>
<ellipse cx="136.2" cy="120.3" rx="2.04" ry="3.2" opacity=".037"/>
<ellipse cx="136.3" cy="121.7" rx="2.04" ry="3.2" opacity=".04"/>
<ellipse cx="136.4" cy="123" rx="2.04" ry="3.2" opacity=".037"/>
<ellipse cx="136.5" cy="124.3" rx="2.04" ry="3.2" opacity=".03"/>
<ellipse cx="136.5" cy="125.7" rx="2.04" ry="3.2" opacity=".021"/>
<ellipse cx="136.5" cy="127" rx="2.04" ry="3.2" opacity=".013"/>
<ellipse cx="140.7" cy="117.7" rx="2.04" ry="3.2" opacity=".026"/>
<ellipse cx="140.9" cy="119" rx="2.04" ry="3.2" opacity=".038"/>
<ellipse cx="141" cy="120.3" rx="2.04" ry="3.2" opacity=".047"/>
<ellipse cx="141.1" cy="121.7" rx="2.04" ry="3.2" opacity=".05"/>
<ellipse cx="141.2" cy="123" rx="2.04" ry="3.2" opacity=".046"/>
<ellipse cx="141.3" cy="124.3" rx="2.04" ry="3.2" opacity=".037"/>
<ellipse cx="141.3" cy="125.7" rx="2.04" ry="3.2" opacity=".026"/>
<ellipse cx="141.3" cy="127" rx="2.04" ry="3.2" opacity=".016"/>
<ellipse cx="148.4" cy="117.7" rx="2.04" ry="3.2" opacity=".019"/>
<ellipse cx="148.5" cy="119" rx="2.04" ry="3.2" opacity=".026"/>
<ellipse cx="148.7" cy="120.3" rx="2.04" ry="3.2" opacity=".033"/>
<ellipse cx="148.8" cy="121.7" rx="2.04" ry="3.2" opacity=".035"/>
<ellipse cx="148.9" cy="123" rx="2.04" ry="3.2" opacity=".033"/>
<ellipse cx="148.9" cy="124.3" rx="2.04" ry="3.2" opacity=".026"/>
<ellipse cx="149" cy="125.7" rx="2.04" ry="3.2" opacity=".018"/>
<ellipse cx="164.7" cy="120.3" rx="2.04" ry="3.2" opacity=".014"/>
<ellipse cx="164.8" cy="121.7" rx="2.04" ry="3.2" opacity=".015"/>
<ellipse cx="164.9" cy="123" rx="2.04" ry="3.2" opacity=".014"/>
<ellipse cx="172.9" cy="120.3" rx="2.04" ry="3.2" opacity=".014"/>
<ellipse cx="173" cy="121.7" rx="2.04" ry="3.2" opacity=".015"/>
<ellipse cx="173.1" cy="123" rx="2.04" ry="3.2" opacity=".014"/>
<ellipse cx="69.4" cy="112.5" rx="2.7" ry="6.6" opacity=".07"/>
<ellipse cx="69.4" cy="108" rx="2.7" ry="6.6" opacity=".04"/>
<ellipse cx="69.1" cy="117.5" rx="2.7" ry="3.75" opacity=".3"/>
<ellipse cx="83.3" cy="117.5" rx="2.7" ry="3.75" opacity=".09"/>
<ellipse cx="98.7" cy="117.5" rx="2.7" ry="3.75" opacity=".1"/>
<ellipse cx="120.9" cy="117.5" rx="2.7" ry="3.75" opacity=".14"/>
<ellipse cx="125" cy="117.5" rx="2.7" ry="3.75" opacity=".14"/>
<ellipse cx="51.6" cy="117.5" rx="2.7" ry="3.75" opacity=".06"/>
<ellipse cx="158.7" cy="117.5" rx="2.7" ry="3.75" opacity=".03"/>
<ellipse cx="169.7" cy="117.5" rx="2.7" ry="3.75" opacity=".025"/>
<ellipse cx="180.6" cy="117.5" rx="2.7" ry="3.75" opacity=".025"/>
<ellipse cx="191.6" cy="117.5" rx="2.7" ry="3.75" opacity=".02"/>
<ellipse cx="202.6" cy="117.5" rx="2.7" ry="3.75" opacity=".02"/>
<ellipse cx="51.9" cy="141.7" rx="2.04" ry="3.2" opacity=".065"/>
<ellipse cx="52.1" cy="143" rx="2.04" ry="3.2" opacity=".09"/>
<ellipse cx="52.3" cy="144.3" rx="2.04" ry="3.2" opacity=".106"/>
<ellipse cx="52.4" cy="145.7" rx="2.04" ry="3.2" opacity=".109"/>
<ellipse cx="52.6" cy="147" rx="2.04" ry="3.2" opacity=".097"/>
<ellipse cx="52.6" cy="148.3" rx="2.04" ry="3.2" opacity=".075"/>
<ellipse cx="52.7" cy="149.7" rx="2.04" ry="3.2" opacity=".051"/>
<ellipse cx="52.8" cy="151" rx="2.04" ry="3.2" opacity=".029"/>
<ellipse cx="52.8" cy="152.3" rx="2.04" ry="3.2" opacity=".015"/>
<ellipse cx="56.1" cy="141.7" rx="2.04" ry="3.2" opacity=".036"/>
<ellipse cx="56.3" cy="143" rx="2.04" ry="3.2" opacity=".049"/>
<ellipse cx="56.5" cy="144.3" rx="2.04" ry="3.2" opacity=".058"/>
<ellipse cx="56.6" cy="145.7" rx="2.04" ry="3.2" opacity=".06"/>
<ellipse cx="56.7" cy="147" rx="2.04" ry="3.2" opacity=".053"/>
<ellipse cx="56.8" cy="148.3" rx="2.04" ry="3.2" opacity=".041"/>
<ellipse cx="56.9" cy="149.7" rx="2.04" ry="3.2" opacity=".028"/>
<ellipse cx="57" cy="151" rx="2.04" ry="3.2" opacity=".016"/>
<ellipse cx="64.2" cy="141.7" rx="2.04" ry="3.2" opacity=".125"/>
<ellipse cx="64.4" cy="143" rx="2.04" ry="3.2" opacity=".171"/>
<ellipse cx="64.5" cy="144.3" rx="2.04" ry="3.2" opacity=".203"/>
<ellipse cx="64.7" cy="145.7" rx="2.04" ry="3.2" opacity=".209"/>
<ellipse cx="64.8" cy="147" rx="2.04" ry="3.2" opacity=".186"/>
<ellipse cx="64.9" cy="148.3" rx="2.04" ry="3.2" opacity=".144"/>
<ellipse cx="65" cy="149.7" rx="2.04" ry="3.2" opacity=".096"/>
<ellipse cx="65" cy="151" rx="2.04" ry="3.2" opacity=".056"/>
<ellipse cx="65" cy="152.3" rx="2.04" ry="3.2" opacity=".028"/>
<ellipse cx="74.2" cy="141.7" rx="1.98" ry="3.2" opacity=".404"/>
<ellipse cx="74.4" cy="143" rx="1.98" ry="3.2" opacity=".553"/>
<ellipse cx="74.5" cy="144.3" rx="1.98" ry="3.2" opacity=".657"/>
<ellipse cx="74.7" cy="145.7" rx="1.98" ry="3.2" opacity=".676"/>
<ellipse cx="74.8" cy="147" rx="1.98" ry="3.2" opacity=".603"/>
<ellipse cx="74.9" cy="148.3" rx="1.98" ry="3.2" opacity=".466"/>
<ellipse cx="75" cy="149.7" rx="1.98" ry="3.2" opacity=".312"/>
<ellipse cx="75" cy="151" rx="1.98" ry="3.2" opacity=".182"/>
<ellipse cx="75" cy="152.3" rx="1.98" ry="3.2" opacity=".092"/>
<ellipse cx="88.5" cy="141.7" rx="2.04" ry="3.2" opacity=".196"/>
<ellipse cx="88.7" cy="143" rx="2.04" ry="3.2" opacity=".269"/>
<ellipse cx="88.8" cy="144.3" rx="2.04" ry="3.2" opacity=".319"/>
<ellipse cx="89" cy="145.7" rx="2.04" ry="3.2" opacity=".328"/>
<ellipse cx="89.1" cy="147" rx="2.04" ry="3.2" opacity=".292"/>
<ellipse cx="89.2" cy="148.3" rx="2.04" ry="3.2" opacity=".226"/>
<ellipse cx="89.3" cy="149.7" rx="2.04" ry="3.2" opacity=".152"/>
<ellipse cx="89.3" cy="151" rx="2.04" ry="3.2" opacity=".088"/>
<ellipse cx="89.3" cy="152.3" rx="2.04" ry="3.2" opacity=".044"/>
<ellipse cx="107" cy="141.7" rx="2.04" ry="3.2" opacity=".065"/>
<ellipse cx="107.2" cy="143" rx="2.04" ry="3.2" opacity=".09"/>
<ellipse cx="107.4" cy="144.3" rx="2.04" ry="3.2" opacity=".106"/>
<ellipse cx="107.5" cy="145.7" rx="2.04" ry="3.2" opacity=".109"/>
<ellipse cx="107.7" cy="147" rx="2.04" ry="3.2" opacity=".097"/>
<ellipse cx="107.8" cy="148.3" rx="2.04" ry="3.2" opacity=".075"/>
<ellipse cx="107.8" cy="149.7" rx="2.04" ry="3.2" opacity=".051"/>
<ellipse cx="107.9" cy="151" rx="2.04" ry="3.2" opacity=".029"/>
<ellipse cx="107.9" cy="152.3" rx="2.04" ry="3.2" opacity=".015"/>
<ellipse cx="113.2" cy="141.7" rx="2.04" ry="3.2" opacity=".095"/>
<ellipse cx="113.4" cy="143" rx="2.04" ry="3.2" opacity=".13"/>
<ellipse cx="113.5" cy="144.3" rx="2.04" ry="3.2" opacity=".155"/>
<ellipse cx="113.7" cy="145.7" rx="2.04" ry="3.2" opacity=".159"/>
<ellipse cx="113.8" cy="147" rx="2.04" ry="3.2" opacity=".142"/>
<ellipse cx="113.9" cy="148.3" rx="2.04" ry="3.2" opacity=".11"/>
<ellipse cx="114" cy="149.7" rx="2.04" ry="3.2" opacity=".074"/>
<ellipse cx="114" cy="151" rx="2.04" ry="3.2" opacity=".043"/>
<ellipse cx="114" cy="152.3" rx="2.04" ry="3.2" opacity=".022"/>
<ellipse cx="122.8" cy="141.7" rx="2.04" ry="3.2" opacity=".202"/>
<ellipse cx="123" cy="143" rx="2.04" ry="3.2" opacity=".277"/>
<ellipse cx="123.2" cy="144.3" rx="2.04" ry="3.2" opacity=".328"/>
<ellipse cx="123.3" cy="145.7" rx="2.04" ry="3.2" opacity=".338"/>
<ellipse cx="123.4" cy="147" rx="2.04" ry="3.2" opacity=".301"/>
<ellipse cx="123.5" cy="148.3" rx="2.04" ry="3.2" opacity=".233"/>
<ellipse cx="123.6" cy="149.7" rx="2.04" ry="3.2" opacity=".156"/>
<ellipse cx="123.7" cy="151" rx="2.04" ry="3.2" opacity=".091"/>
<ellipse cx="123.7" cy="152.3" rx="2.04" ry="3.2" opacity=".046"/>
<ellipse cx="136.3" cy="141.7" rx="2.04" ry="3.2" opacity=".024"/>
<ellipse cx="136.5" cy="143" rx="2.04" ry="3.2" opacity=".033"/>
<ellipse cx="136.6" cy="144.3" rx="2.04" ry="3.2" opacity=".039"/>
<ellipse cx="136.8" cy="145.7" rx="2.04" ry="3.2" opacity=".04"/>
<ellipse cx="136.9" cy="147" rx="2.04" ry="3.2" opacity=".035"/>
<ellipse cx="137" cy="148.3" rx="2.04" ry="3.2" opacity=".027"/>
<ellipse cx="137.1" cy="149.7" rx="2.04" ry="3.2" opacity=".018"/>
<ellipse cx="141.1" cy="141.7" rx="2.04" ry="3.2" opacity=".03"/>
<ellipse cx="141.3" cy="143" rx="2.04" ry="3.2" opacity=".041"/>
<ellipse cx="141.4" cy="144.3" rx="2.04" ry="3.2" opacity=".048"/>
<ellipse cx="141.6" cy="145.7" rx="2.04" ry="3.2" opacity=".05"/>
<ellipse cx="141.7" cy="147" rx="2.04" ry="3.2" opacity=".044"/>
<ellipse cx="141.8" cy="148.3" rx="2.04" ry="3.2" opacity=".034"/>
<ellipse cx="141.9" cy="149.7" rx="2.04" ry="3.2" opacity=".023"/>
<ellipse cx="141.9" cy="151" rx="2.04" ry="3.2" opacity=".013"/>
<ellipse cx="148.8" cy="141.7" rx="2.04" ry="3.2" opacity=".021"/>
<ellipse cx="149" cy="143" rx="2.04" ry="3.2" opacity=".028"/>
<ellipse cx="149.1" cy="144.3" rx="2.04" ry="3.2" opacity=".034"/>
<ellipse cx="149.3" cy="145.7" rx="2.04" ry="3.2" opacity=".035"/>
<ellipse cx="149.4" cy="147" rx="2.04" ry="3.2" opacity=".031"/>
<ellipse cx="149.5" cy="148.3" rx="2.04" ry="3.2" opacity=".024"/>
<ellipse cx="149.6" cy="149.7" rx="2.04" ry="3.2" opacity=".016"/>
<ellipse cx="165.1" cy="143" rx="2.04" ry="3.2" opacity=".012"/>
<ellipse cx="165.2" cy="144.3" rx="2.04" ry="3.2" opacity=".014"/>
<ellipse cx="165.4" cy="145.7" rx="2.04" ry="3.2" opacity=".015"/>
<ellipse cx="165.5" cy="147" rx="2.04" ry="3.2" opacity=".013"/>
<ellipse cx="173.3" cy="143" rx="2.04" ry="3.2" opacity=".012"/>
<ellipse cx="173.5" cy="144.3" rx="2.04" ry="3.2" opacity=".014"/>
<ellipse cx="173.6" cy="145.7" rx="2.04" ry="3.2" opacity=".015"/>
<ellipse cx="173.7" cy="147" rx="2.04" ry="3.2" opacity=".013"/>
<ellipse cx="69.6" cy="136.5" rx="2.7" ry="6.6" opacity=".07"/>
<ellipse cx="69.6" cy="132" rx="2.7" ry="6.6" opacity=".04"/>
<ellipse cx="69.2" cy="141.5" rx="2.7" ry="3.6" opacity=".3"/>
<ellipse cx="83.5" cy="141.5" rx="2.7" ry="3.6" opacity=".09"/>
<ellipse cx="98.9" cy="141.5" rx="2.7" ry="3.6" opacity=".1"/>
<ellipse cx="121.2" cy="141.5" rx="2.7" ry="3.6" opacity=".14"/>
<ellipse cx="125.3" cy="141.5" rx="2.7" ry="3.6" opacity=".14"/>
<ellipse cx="51.6" cy="141.5" rx="2.7" ry="3.6" opacity=".06"/>
<ellipse cx="159.2" cy="141.5" rx="2.7" ry="3.6" opacity=".03"/>
<ellipse cx="170.2" cy="141.5" rx="2.7" ry="3.6" opacity=".025"/>
<ellipse cx="181.2" cy="141.5" rx="2.7" ry="3.6" opacity=".025"/>
<ellipse cx="192.2" cy="141.5" rx="2.7" ry="3.6" opacity=".02"/>
<ellipse cx="203.2" cy="141.5" rx="2.7" ry="3.6" opacity=".02"/>
<ellipse cx="52" cy="163.5" rx="2.04" ry="3.2" opacity=".073"/>
<ellipse cx="52.2" cy="164.8" rx="2.04" ry="3.2" opacity=".095"/>
<ellipse cx="52.4" cy="166.1" rx="2.04" ry="3.2" opacity=".107"/>
<ellipse cx="52.6" cy="167.5" rx="2.04" ry="3.2" opacity=".105"/>
<ellipse cx="52.8" cy="168.8" rx="2.04" ry="3.2" opacity=".089"/>
<ellipse cx="52.9" cy="170.1" rx="2.04" ry="3.2" opacity=".066"/>
<ellipse cx="53" cy="171.5" rx="2.04" ry="3.2" opacity=".042"/>
<ellipse cx="53.1" cy="172.8" rx="2.04" ry="3.2" opacity=".023"/>
<ellipse cx="56.2" cy="163.5" rx="2.04" ry="3.2" opacity=".04"/>
<ellipse cx="56.4" cy="164.8" rx="2.04" ry="3.2" opacity=".052"/>
<ellipse cx="56.6" cy="166.1" rx="2.04" ry="3.2" opacity=".058"/>
<ellipse cx="56.8" cy="167.5" rx="2.04" ry="3.2" opacity=".057"/>
<ellipse cx="57" cy="168.8" rx="2.04" ry="3.2" opacity=".049"/>
<ellipse cx="57.1" cy="170.1" rx="2.04" ry="3.2" opacity=".036"/>
<ellipse cx="57.2" cy="171.5" rx="2.04" ry="3.2" opacity=".023"/>
<ellipse cx="57.3" cy="172.8" rx="2.04" ry="3.2" opacity=".013"/>
<ellipse cx="64.3" cy="163.5" rx="2.04" ry="3.2" opacity=".141"/>
<ellipse cx="64.5" cy="164.8" rx="2.04" ry="3.2" opacity=".184"/>
<ellipse cx="64.7" cy="166.1" rx="2.04" ry="3.2" opacity=".208"/>
<ellipse cx="64.9" cy="167.5" rx="2.04" ry="3.2" opacity=".204"/>
<ellipse cx="65.1" cy="168.8" rx="2.04" ry="3.2" opacity=".173"/>
<ellipse cx="65.2" cy="170.1" rx="2.04" ry="3.2" opacity=".128"/>
<ellipse cx="65.3" cy="171.5" rx="2.04" ry="3.2" opacity=".081"/>
<ellipse cx="65.4" cy="172.8" rx="2.04" ry="3.2" opacity=".045"/>
<ellipse cx="65.4" cy="174.1" rx="2.04" ry="3.2" opacity=".022"/>
<ellipse cx="74.3" cy="163.5" rx="1.98" ry="3.2" opacity=".457"/>
<ellipse cx="74.6" cy="164.8" rx="1.98" ry="3.2" opacity=".596"/>
<ellipse cx="74.8" cy="166.1" rx="1.98" ry="3.2" opacity=".674"/>
<ellipse cx="75" cy="167.5" rx="1.98" ry="3.2" opacity=".66"/>
<ellipse cx="75.1" cy="168.8" rx="1.98" ry="3.2" opacity=".561"/>
<ellipse cx="75.3" cy="170.1" rx="1.98" ry="3.2" opacity=".413"/>
<ellipse cx="75.4" cy="171.5" rx="1.98" ry="3.2" opacity=".264"/>
<ellipse cx="75.4" cy="172.8" rx="1.98" ry="3.2" opacity=".146"/>
<ellipse cx="75.4" cy="174.1" rx="1.98" ry="3.2" opacity=".07"/>
<ellipse cx="88.6" cy="163.5" rx="2.04" ry="3.2" opacity=".222"/>
<ellipse cx="88.9" cy="164.8" rx="2.04" ry="3.2" opacity=".289"/>
<ellipse cx="89.1" cy="166.1" rx="2.04" ry="3.2" opacity=".327"/>
<ellipse cx="89.3" cy="167.5" rx="2.04" ry="3.2" opacity=".32"/>
<ellipse cx="89.5" cy="168.8" rx="2.04" ry="3.2" opacity=".272"/>
<ellipse cx="89.6" cy="170.1" rx="2.04" ry="3.2" opacity=".2"/>
<ellipse cx="89.7" cy="171.5" rx="2.04" ry="3.2" opacity=".128"/>
<ellipse cx="89.8" cy="172.8" rx="2.04" ry="3.2" opacity=".071"/>
<ellipse cx="89.8" cy="174.1" rx="2.04" ry="3.2" opacity=".034"/>
<ellipse cx="107.3" cy="163.5" rx="2.04" ry="3.2" opacity=".074"/>
<ellipse cx="107.5" cy="164.8" rx="2.04" ry="3.2" opacity=".096"/>
<ellipse cx="107.8" cy="166.1" rx="2.04" ry="3.2" opacity=".109"/>
<ellipse cx="108" cy="167.5" rx="2.04" ry="3.2" opacity=".107"/>
<ellipse cx="108.1" cy="168.8" rx="2.04" ry="3.2" opacity=".091"/>
<ellipse cx="108.2" cy="170.1" rx="2.04" ry="3.2" opacity=".067"/>
<ellipse cx="108.3" cy="171.5" rx="2.04" ry="3.2" opacity=".043"/>
<ellipse cx="108.4" cy="172.8" rx="2.04" ry="3.2" opacity=".024"/>
<ellipse cx="113.4" cy="163.5" rx="2.04" ry="3.2" opacity=".108"/>
<ellipse cx="113.7" cy="164.8" rx="2.04" ry="3.2" opacity=".14"/>
<ellipse cx="113.9" cy="166.1" rx="2.04" ry="3.2" opacity=".159"/>
<ellipse cx="114.1" cy="167.5" rx="2.04" ry="3.2" opacity=".155"/>
<ellipse cx="114.3" cy="168.8" rx="2.04" ry="3.2" opacity=".132"/>
<ellipse cx="114.4" cy="170.1" rx="2.04" ry="3.2" opacity=".097"/>
<ellipse cx="114.5" cy="171.5" rx="2.04" ry="3.2" opacity=".062"/>
<ellipse cx="114.6" cy="172.8" rx="2.04" ry="3.2" opacity=".034"/>
<ellipse cx="114.6" cy="174.1" rx="2.04" ry="3.2" opacity=".016"/>
<ellipse cx="123.1" cy="163.5" rx="2.04" ry="3.2" opacity=".229"/>
<ellipse cx="123.4" cy="164.8" rx="2.04" ry="3.2" opacity=".298"/>
<ellipse cx="123.6" cy="166.1" rx="2.04" ry="3.2" opacity=".337"/>
<ellipse cx="123.8" cy="167.5" rx="2.04" ry="3.2" opacity=".33"/>
<ellipse cx="124" cy="168.8" rx="2.04" ry="3.2" opacity=".28"/>
<ellipse cx="124.1" cy="170.1" rx="2.04" ry="3.2" opacity=".207"/>
<ellipse cx="124.2" cy="171.5" rx="2.04" ry="3.2" opacity=".132"/>
<ellipse cx="124.2" cy="172.8" rx="2.04" ry="3.2" opacity=".073"/>
<ellipse cx="124.3" cy="174.1" rx="2.04" ry="3.2" opacity=".035"/>
<ellipse cx="136.6" cy="163.5" rx="2.04" ry="3.2" opacity=".027"/>
<ellipse cx="136.9" cy="164.8" rx="2.04" ry="3.2" opacity=".035"/>
<ellipse cx="137.1" cy="166.1" rx="2.04" ry="3.2" opacity=".04"/>
<ellipse cx="137.3" cy="167.5" rx="2.04" ry="3.2" opacity=".039"/>
<ellipse cx="137.5" cy="168.8" rx="2.04" ry="3.2" opacity=".033"/>
<ellipse cx="137.6" cy="170.1" rx="2.04" ry="3.2" opacity=".024"/>
<ellipse cx="137.7" cy="171.5" rx="2.04" ry="3.2" opacity=".016"/>
<ellipse cx="141.4" cy="163.5" rx="2.04" ry="3.2" opacity=".034"/>
<ellipse cx="141.7" cy="164.8" rx="2.04" ry="3.2" opacity=".044"/>
<ellipse cx="141.9" cy="166.1" rx="2.04" ry="3.2" opacity=".05"/>
<ellipse cx="142.1" cy="167.5" rx="2.04" ry="3.2" opacity=".049"/>
<ellipse cx="142.3" cy="168.8" rx="2.04" ry="3.2" opacity=".041"/>
<ellipse cx="142.4" cy="170.1" rx="2.04" ry="3.2" opacity=".03"/>
<ellipse cx="142.5" cy="171.5" rx="2.04" ry="3.2" opacity=".019"/>
<ellipse cx="149.2" cy="163.5" rx="2.04" ry="3.2" opacity=".024"/>
<ellipse cx="149.4" cy="164.8" rx="2.04" ry="3.2" opacity=".031"/>
<ellipse cx="149.7" cy="166.1" rx="2.04" ry="3.2" opacity=".035"/>
<ellipse cx="149.8" cy="167.5" rx="2.04" ry="3.2" opacity=".034"/>
<ellipse cx="150" cy="168.8" rx="2.04" ry="3.2" opacity=".029"/>
<ellipse cx="150.1" cy="170.1" rx="2.04" ry="3.2" opacity=".021"/>
<ellipse cx="150.2" cy="171.5" rx="2.04" ry="3.2" opacity=".014"/>
<ellipse cx="165.6" cy="164.8" rx="2.04" ry="3.2" opacity=".013"/>
<ellipse cx="165.8" cy="166.1" rx="2.04" ry="3.2" opacity=".015"/>
<ellipse cx="166" cy="167.5" rx="2.04" ry="3.2" opacity=".015"/>
<ellipse cx="166.2" cy="168.8" rx="2.04" ry="3.2" opacity=".012"/>
<ellipse cx="173.9" cy="164.8" rx="2.04" ry="3.2" opacity=".013"/>
<ellipse cx="174.1" cy="166.1" rx="2.04" ry="3.2" opacity=".015"/>
<ellipse cx="174.3" cy="167.5" rx="2.04" ry="3.2" opacity=".015"/>
<ellipse cx="174.4" cy="168.8" rx="2.04" ry="3.2" opacity=".012"/>
<ellipse cx="69.9" cy="158.3" rx="2.7" ry="6.6" opacity=".07"/>
<ellipse cx="69.9" cy="153.8" rx="2.7" ry="6.6" opacity=".04"/>
<ellipse cx="69.4" cy="163.3" rx="2.7" ry="3.27" opacity=".3"/>
<ellipse cx="83.7" cy="163.3" rx="2.7" ry="3.27" opacity=".09"/>
<ellipse cx="99.2" cy="163.3" rx="2.7" ry="3.27" opacity=".1"/>
<ellipse cx="121.5" cy="163.3" rx="2.7" ry="3.27" opacity=".14"/>
<ellipse cx="125.7" cy="163.3" rx="2.7" ry="3.27" opacity=".14"/>
<ellipse cx="51.7" cy="163.3" rx="2.7" ry="3.27" opacity=".06"/>
<ellipse cx="159.6" cy="163.3" rx="2.7" ry="3.27" opacity=".03"/>
<ellipse cx="170.7" cy="163.3" rx="2.7" ry="3.27" opacity=".025"/>
<ellipse cx="181.7" cy="163.3" rx="2.7" ry="3.27" opacity=".025"/>
<ellipse cx="192.7" cy="163.3" rx="2.7" ry="3.27" opacity=".02"/>
<ellipse cx="203.8" cy="163.3" rx="2.7" ry="3.27" opacity=".02"/>
<ellipse cx="52.1" cy="182.7" rx="2.04" ry="3.19" opacity=".075"/>
<ellipse cx="52.4" cy="184" rx="2.04" ry="3.19" opacity=".095"/>
<ellipse cx="52.6" cy="185.3" rx="2.04" ry="3.19" opacity=".104"/>
<ellipse cx="52.8" cy="186.7" rx="2.04" ry="3.19" opacity=".099"/>
<ellipse cx="53" cy="188" rx="2.04" ry="3.19" opacity=".082"/>
<ellipse cx="53.2" cy="189.3" rx="2.04" ry="3.19" opacity=".059"/>
<ellipse cx="53.3" cy="190.6" rx="2.04" ry="3.19" opacity=".037"/>
<ellipse cx="53.3" cy="192" rx="2.04" ry="3.19" opacity=".02"/>
<ellipse cx="56.3" cy="182.7" rx="2.04" ry="3.19" opacity=".041"/>
<ellipse cx="56.6" cy="184" rx="2.04" ry="3.19" opacity=".052"/>
<ellipse cx="56.8" cy="185.3" rx="2.04" ry="3.19" opacity=".057"/>
<ellipse cx="57" cy="186.7" rx="2.04" ry="3.19" opacity=".054"/>
<ellipse cx="57.2" cy="188" rx="2.04" ry="3.19" opacity=".045"/>
<ellipse cx="57.4" cy="189.3" rx="2.04" ry="3.19" opacity=".032"/>
<ellipse cx="57.5" cy="190.6" rx="2.04" ry="3.19" opacity=".02"/>
<ellipse cx="64.4" cy="182.7" rx="2.04" ry="3.19" opacity=".15"/>
<ellipse cx="64.7" cy="184" rx="2.04" ry="3.19" opacity=".191"/>
<ellipse cx="64.9" cy="185.3" rx="2.04" ry="3.19" opacity=".21"/>
<ellipse cx="65.2" cy="186.7" rx="2.04" ry="3.19" opacity=".2"/>
<ellipse cx="65.3" cy="188" rx="2.04" ry="3.19" opacity=".165"/>
<ellipse cx="65.5" cy="189.3" rx="2.04" ry="3.19" opacity=".118"/>
<ellipse cx="65.6" cy="190.6" rx="2.04" ry="3.19" opacity=".074"/>
<ellipse cx="65.7" cy="192" rx="2.04" ry="3.19" opacity=".04"/>
<ellipse cx="65.7" cy="193.3" rx="2.04" ry="3.19" opacity=".019"/>
<ellipse cx="74.5" cy="182.7" rx="1.98" ry="3.19" opacity=".486"/>
<ellipse cx="74.8" cy="184" rx="1.98" ry="3.19" opacity=".617"/>
<ellipse cx="75" cy="185.3" rx="1.98" ry="3.19" opacity=".679"/>
<ellipse cx="75.2" cy="186.7" rx="1.98" ry="3.19" opacity=".647"/>
<ellipse cx="75.4" cy="188" rx="1.98" ry="3.19" opacity=".535"/>
<ellipse cx="75.6" cy="189.3" rx="1.98" ry="3.19" opacity=".383"/>
<ellipse cx="75.7" cy="190.6" rx="1.98" ry="3.19" opacity=".238"/>
<ellipse cx="75.8" cy="192" rx="1.98" ry="3.19" opacity=".128"/>
<ellipse cx="75.8" cy="193.3" rx="1.98" ry="3.19" opacity=".06"/>
<ellipse cx="88.9" cy="182.7" rx="2.04" ry="3.19" opacity=".236"/>
<ellipse cx="89.2" cy="184" rx="2.04" ry="3.19" opacity=".299"/>
<ellipse cx="89.4" cy="185.3" rx="2.04" ry="3.19" opacity=".329"/>
<ellipse cx="89.7" cy="186.7" rx="2.04" ry="3.19" opacity=".314"/>
<ellipse cx="89.8" cy="188" rx="2.04" ry="3.19" opacity=".26"/>
<ellipse cx="90" cy="189.3" rx="2.04" ry="3.19" opacity=".186"/>
<ellipse cx="90.1" cy="190.6" rx="2.04" ry="3.19" opacity=".116"/>
<ellipse cx="90.2" cy="192" rx="2.04" ry="3.19" opacity=".062"/>
<ellipse cx="90.2" cy="193.3" rx="2.04" ry="3.19" opacity=".029"/>
<ellipse cx="107.6" cy="182.7" rx="2.04" ry="3.19" opacity=".079"/>
<ellipse cx="107.9" cy="184" rx="2.04" ry="3.19" opacity=".1"/>
<ellipse cx="108.1" cy="185.3" rx="2.04" ry="3.19" opacity=".11"/>
<ellipse cx="108.4" cy="186.7" rx="2.04" ry="3.19" opacity=".105"/>
<ellipse cx="108.5" cy="188" rx="2.04" ry="3.19" opacity=".087"/>
<ellipse cx="108.7" cy="189.3" rx="2.04" ry="3.19" opacity=".062"/>
<ellipse cx="108.8" cy="190.6" rx="2.04" ry="3.19" opacity=".039"/>
<ellipse cx="108.9" cy="192" rx="2.04" ry="3.19" opacity=".021"/>
<ellipse cx="113.8" cy="182.7" rx="2.04" ry="3.19" opacity=".114"/>
<ellipse cx="114.1" cy="184" rx="2.04" ry="3.19" opacity=".145"/>
<ellipse cx="114.3" cy="185.3" rx="2.04" ry="3.19" opacity=".16"/>
<ellipse cx="114.5" cy="186.7" rx="2.04" ry="3.19" opacity=".152"/>
<ellipse cx="114.7" cy="188" rx="2.04" ry="3.19" opacity=".126"/>
<ellipse cx="114.9" cy="189.3" rx="2.04" ry="3.19" opacity=".09"/>
<ellipse cx="115" cy="190.6" rx="2.04" ry="3.19" opacity=".056"/>
<ellipse cx="115" cy="192" rx="2.04" ry="3.19" opacity=".03"/>
<ellipse cx="115.1" cy="193.3" rx="2.04" ry="3.19" opacity=".014"/>
<ellipse cx="123.5" cy="182.7" rx="2.04" ry="3.19" opacity=".243"/>
<ellipse cx="123.8" cy="184" rx="2.04" ry="3.19" opacity=".309"/>
<ellipse cx="124" cy="185.3" rx="2.04" ry="3.19" opacity=".339"/>
<ellipse cx="124.3" cy="186.7" rx="2.04" ry="3.19" opacity=".324"/>
<ellipse cx="124.4" cy="188" rx="2.04" ry="3.19" opacity=".268"/>
<ellipse cx="124.6" cy="189.3" rx="2.04" ry="3.19" opacity=".192"/>
<ellipse cx="124.7" cy="190.6" rx="2.04" ry="3.19" opacity=".119"/>
<ellipse cx="124.8" cy="192" rx="2.04" ry="3.19" opacity=".064"/>
<ellipse cx="124.8" cy="193.3" rx="2.04" ry="3.19" opacity=".03"/>
<ellipse cx="137" cy="182.7" rx="2.04" ry="3.19" opacity=".029"/>
<ellipse cx="137.3" cy="184" rx="2.04" ry="3.19" opacity=".036"/>
<ellipse cx="137.6" cy="185.3" rx="2.04" ry="3.19" opacity=".04"/>
<ellipse cx="137.8" cy="186.7" rx="2.04" ry="3.19" opacity=".038"/>
<ellipse cx="138" cy="188" rx="2.04" ry="3.19" opacity=".031"/>
<ellipse cx="138.1" cy="189.3" rx="2.04" ry="3.19" opacity=".023"/>
<ellipse cx="138.2" cy="190.6" rx="2.04" ry="3.19" opacity=".014"/>
<ellipse cx="141.9" cy="182.7" rx="2.04" ry="3.19" opacity=".036"/>
<ellipse cx="142.2" cy="184" rx="2.04" ry="3.19" opacity=".045"/>
<ellipse cx="142.4" cy="185.3" rx="2.04" ry="3.19" opacity=".05"/>
<ellipse cx="142.6" cy="186.7" rx="2.04" ry="3.19" opacity=".048"/>
<ellipse cx="142.8" cy="188" rx="2.04" ry="3.19" opacity=".039"/>
<ellipse cx="143" cy="189.3" rx="2.04" ry="3.19" opacity=".028"/>
<ellipse cx="143.1" cy="190.6" rx="2.04" ry="3.19" opacity=".018"/>
<ellipse cx="149.6" cy="182.7" rx="2.04" ry="3.19" opacity=".025"/>
<ellipse cx="149.9" cy="184" rx="2.04" ry="3.19" opacity=".032"/>
<ellipse cx="150.2" cy="185.3" rx="2.04" ry="3.19" opacity=".035"/>
<ellipse cx="150.4" cy="186.7" rx="2.04" ry="3.19" opacity=".033"/>
<ellipse cx="150.6" cy="188" rx="2.04" ry="3.19" opacity=".028"/>
<ellipse cx="150.7" cy="189.3" rx="2.04" ry="3.19" opacity=".02"/>
<ellipse cx="150.8" cy="190.6" rx="2.04" ry="3.19" opacity=".012"/>
<ellipse cx="166.1" cy="184" rx="2.04" ry="3.19" opacity=".014"/>
<ellipse cx="166.4" cy="185.3" rx="2.04" ry="3.19" opacity=".015"/>
<ellipse cx="166.6" cy="186.7" rx="2.04" ry="3.19" opacity=".014"/>
<ellipse cx="174.4" cy="184" rx="2.04" ry="3.19" opacity=".014"/>
<ellipse cx="174.7" cy="185.3" rx="2.04" ry="3.19" opacity=".015"/>
<ellipse cx="174.9" cy="186.7" rx="2.04" ry="3.19" opacity=".014"/>
<ellipse cx="70.1" cy="177.5" rx="2.7" ry="6.6" opacity=".07"/>
<ellipse cx="70.1" cy="173" rx="2.7" ry="6.6" opacity=".04"/>
<ellipse cx="69.6" cy="182.5" rx="2.7" ry="2.88" opacity=".3"/>
<ellipse cx="84" cy="182.5" rx="2.7" ry="2.88" opacity=".09"/>
<ellipse cx="99.5" cy="182.5" rx="2.7" ry="2.88" opacity=".1"/>
<ellipse cx="121.9" cy="182.5" rx="2.7" ry="2.88" opacity=".14"/>
<ellipse cx="126.1" cy="182.5" rx="2.7" ry="2.88" opacity=".14"/>
<ellipse cx="51.8" cy="182.5" rx="2.7" ry="2.88" opacity=".06"/>
<ellipse cx="160.1" cy="182.5" rx="2.7" ry="2.88" opacity=".03"/>
<ellipse cx="171.2" cy="182.5" rx="2.7" ry="2.88" opacity=".025"/>
<ellipse cx="182.3" cy="182.5" rx="2.7" ry="2.88" opacity=".025"/>
<ellipse cx="193.4" cy="182.5" rx="2.7" ry="2.88" opacity=".02"/>
<ellipse cx="204.5" cy="182.5" rx="2.7" ry="2.88" opacity=".02"/>
<ellipse cx="52.2" cy="200.4" rx="2.04" ry="3.19" opacity=".075"/>
<ellipse cx="52.5" cy="201.7" rx="2.04" ry="3.19" opacity=".095"/>
<ellipse cx="52.8" cy="203" rx="2.04" ry="3.19" opacity=".104"/>
<ellipse cx="53" cy="204.4" rx="2.04" ry="3.19" opacity=".099"/>
<ellipse cx="53.2" cy="205.7" rx="2.04" ry="3.19" opacity=".082"/>
<ellipse cx="53.3" cy="207" rx="2.04" ry="3.19" opacity=".059"/>
<ellipse cx="53.5" cy="208.3" rx="2.04" ry="3.19" opacity=".037"/>
<ellipse cx="53.5" cy="209.7" rx="2.04" ry="3.19" opacity=".02"/>
<ellipse cx="56.5" cy="200.4" rx="2.04" ry="3.19" opacity=".041"/>
<ellipse cx="56.8" cy="201.7" rx="2.04" ry="3.19" opacity=".052"/>
<ellipse cx="57" cy="203" rx="2.04" ry="3.19" opacity=".057"/>
<ellipse cx="57.2" cy="204.4" rx="2.04" ry="3.19" opacity=".054"/>
<ellipse cx="57.4" cy="205.7" rx="2.04" ry="3.19" opacity=".045"/>
<ellipse cx="57.6" cy="207" rx="2.04" ry="3.19" opacity=".032"/>
<ellipse cx="57.7" cy="208.3" rx="2.04" ry="3.19" opacity=".02"/>
<ellipse cx="64.6" cy="200.4" rx="2.04" ry="3.19" opacity=".15"/>
<ellipse cx="64.9" cy="201.7" rx="2.04" ry="3.19" opacity=".191"/>
<ellipse cx="65.2" cy="203" rx="2.04" ry="3.19" opacity=".21"/>
<ellipse cx="65.4" cy="204.4" rx="2.04" ry="3.19" opacity=".2"/>
<ellipse cx="65.6" cy="205.7" rx="2.04" ry="3.19" opacity=".165"/>
<ellipse cx="65.7" cy="207" rx="2.04" ry="3.19" opacity=".118"/>
<ellipse cx="65.8" cy="208.3" rx="2.04" ry="3.19" opacity=".074"/>
<ellipse cx="65.9" cy="209.7" rx="2.04" ry="3.19" opacity=".04"/>
<ellipse cx="65.9" cy="211" rx="2.04" ry="3.19" opacity=".019"/>
<ellipse cx="74.7" cy="200.4" rx="1.98" ry="3.19" opacity=".486"/>
<ellipse cx="75" cy="201.7" rx="1.98" ry="3.19" opacity=".617"/>
<ellipse cx="75.3" cy="203" rx="1.98" ry="3.19" opacity=".679"/>
<ellipse cx="75.5" cy="204.4" rx="1.98" ry="3.19" opacity=".647"/>
<ellipse cx="75.7" cy="205.7" rx="1.98" ry="3.19" opacity=".535"/>
<ellipse cx="75.8" cy="207" rx="1.98" ry="3.19" opacity=".383"/>
<ellipse cx="75.9" cy="208.3" rx="1.98" ry="3.19" opacity=".238"/>
<ellipse cx="76" cy="209.7" rx="1.98" ry="3.19" opacity=".128"/>
<ellipse cx="76.1" cy="211" rx="1.98" ry="3.19" opacity=".06"/>
<ellipse cx="89.2" cy="200.4" rx="2.04" ry="3.19" opacity=".236"/>
<ellipse cx="89.5" cy="201.7" rx="2.04" ry="3.19" opacity=".299"/>
<ellipse cx="89.7" cy="203" rx="2.04" ry="3.19" opacity=".329"/>
<ellipse cx="90" cy="204.4" rx="2.04" ry="3.19" opacity=".314"/>
<ellipse cx="90.1" cy="205.7" rx="2.04" ry="3.19" opacity=".26"/>
<ellipse cx="90.3" cy="207" rx="2.04" ry="3.19" opacity=".186"/>
<ellipse cx="90.4" cy="208.3" rx="2.04" ry="3.19" opacity=".116"/>
<ellipse cx="90.5" cy="209.7" rx="2.04" ry="3.19" opacity=".062"/>
<ellipse cx="90.5" cy="211" rx="2.04" ry="3.19" opacity=".029"/>
<ellipse cx="108" cy="200.4" rx="2.04" ry="3.19" opacity=".079"/>
<ellipse cx="108.3" cy="201.7" rx="2.04" ry="3.19" opacity=".1"/>
<ellipse cx="108.5" cy="203" rx="2.04" ry="3.19" opacity=".11"/>
<ellipse cx="108.7" cy="204.4" rx="2.04" ry="3.19" opacity=".105"/>
<ellipse cx="108.9" cy="205.7" rx="2.04" ry="3.19" opacity=".087"/>
<ellipse cx="109.1" cy="207" rx="2.04" ry="3.19" opacity=".062"/>
<ellipse cx="109.2" cy="208.3" rx="2.04" ry="3.19" opacity=".039"/>
<ellipse cx="109.2" cy="209.7" rx="2.04" ry="3.19" opacity=".021"/>
<ellipse cx="114.2" cy="200.4" rx="2.04" ry="3.19" opacity=".114"/>
<ellipse cx="114.5" cy="201.7" rx="2.04" ry="3.19" opacity=".145"/>
<ellipse cx="114.7" cy="203" rx="2.04" ry="3.19" opacity=".16"/>
<ellipse cx="114.9" cy="204.4" rx="2.04" ry="3.19" opacity=".152"/>
<ellipse cx="115.1" cy="205.7" rx="2.04" ry="3.19" opacity=".126"/>
<ellipse cx="115.3" cy="207" rx="2.04" ry="3.19" opacity=".09"/>
<ellipse cx="115.4" cy="208.3" rx="2.04" ry="3.19" opacity=".056"/>
<ellipse cx="115.4" cy="209.7" rx="2.04" ry="3.19" opacity=".03"/>
<ellipse cx="115.5" cy="211" rx="2.04" ry="3.19" opacity=".014"/>
<ellipse cx="123.9" cy="200.4" rx="2.04" ry="3.19" opacity=".243"/>
<ellipse cx="124.2" cy="201.7" rx="2.04" ry="3.19" opacity=".309"/>
<ellipse cx="124.5" cy="203" rx="2.04" ry="3.19" opacity=".339"/>
<ellipse cx="124.7" cy="204.4" rx="2.04" ry="3.19" opacity=".324"/>
<ellipse cx="124.9" cy="205.7" rx="2.04" ry="3.19" opacity=".268"/>
<ellipse cx="125" cy="207" rx="2.04" ry="3.19" opacity=".192"/>
<ellipse cx="125.1" cy="208.3" rx="2.04" ry="3.19" opacity=".119"/>
<ellipse cx="125.2" cy="209.7" rx="2.04" ry="3.19" opacity=".064"/>
<ellipse cx="125.2" cy="211" rx="2.04" ry="3.19" opacity=".03"/>
<ellipse cx="137.5" cy="200.4" rx="2.04" ry="3.19" opacity=".029"/>
<ellipse cx="137.8" cy="201.7" rx="2.04" ry="3.19" opacity=".036"/>
<ellipse cx="138.1" cy="203" rx="2.04" ry="3.19" opacity=".04"/>
<ellipse cx="138.3" cy="204.4" rx="2.04" ry="3.19" opacity=".038"/>
<ellipse cx="138.5" cy="205.7" rx="2.04" ry="3.19" opacity=".031"/>
<ellipse cx="138.6" cy="207" rx="2.04" ry="3.19" opacity=".023"/>
<ellipse cx="138.7" cy="208.3" rx="2.04" ry="3.19" opacity=".014"/>
<ellipse cx="142.4" cy="200.4" rx="2.04" ry="3.19" opacity=".036"/>
<ellipse cx="142.7" cy="201.7" rx="2.04" ry="3.19" opacity=".045"/>
<ellipse cx="142.9" cy="203" rx="2.04" ry="3.19" opacity=".05"/>
<ellipse cx="143.2" cy="204.4" rx="2.04" ry="3.19" opacity=".048"/>
<ellipse cx="143.3" cy="205.7" rx="2.04" ry="3.19" opacity=".039"/>
<ellipse cx="143.5" cy="207" rx="2.04" ry="3.19" opacity=".028"/>
<ellipse cx="143.6" cy="208.3" rx="2.04" ry="3.19" opacity=".018"/>
<ellipse cx="150.2" cy="200.4" rx="2.04" ry="3.19" opacity=".025"/>
<ellipse cx="150.5" cy="201.7" rx="2.04" ry="3.19" opacity=".032"/>
<ellipse cx="150.7" cy="203" rx="2.04" ry="3.19" opacity=".035"/>
<ellipse cx="150.9" cy="204.4" rx="2.04" ry="3.19" opacity=".033"/>
<ellipse cx="151.1" cy="205.7" rx="2.04" ry="3.19" opacity=".028"/>
<ellipse cx="151.3" cy="207" rx="2.04" ry="3.19" opacity=".02"/>
<ellipse cx="151.4" cy="208.3" rx="2.04" ry="3.19" opacity=".012"/>
<ellipse cx="166.7" cy="201.7" rx="2.04" ry="3.19" opacity=".014"/>
<ellipse cx="167" cy="203" rx="2.04" ry="3.19" opacity=".015"/>
<ellipse cx="167.2" cy="204.4" rx="2.04" ry="3.19" opacity=".014"/>
<ellipse cx="175.1" cy="201.7" rx="2.04" ry="3.19" opacity=".014"/>
<ellipse cx="175.3" cy="203" rx="2.04" ry="3.19" opacity=".015"/>
<ellipse cx="175.6" cy="204.4" rx="2.04" ry="3.19" opacity=".014"/>
<ellipse cx="69.8" cy="200.2" rx="2.7" ry="2.65" opacity=".3"/>
<ellipse cx="84.3" cy="200.2" rx="2.7" ry="2.65" opacity=".09"/>
<ellipse cx="99.8" cy="200.2" rx="2.7" ry="2.65" opacity=".1"/>
<ellipse cx="122.3" cy="200.2" rx="2.7" ry="2.65" opacity=".14"/>
<ellipse cx="126.5" cy="200.2" rx="2.7" ry="2.65" opacity=".14"/>
<ellipse cx="52" cy="200.2" rx="2.7" ry="2.65" opacity=".06"/>
<ellipse cx="160.7" cy="200.2" rx="2.7" ry="2.65" opacity=".03"/>
<ellipse cx="171.8" cy="200.2" rx="2.7" ry="2.65" opacity=".025"/>
<ellipse cx="183" cy="200.2" rx="2.7" ry="2.65" opacity=".025"/>
<ellipse cx="194.1" cy="200.2" rx="2.7" ry="2.65" opacity=".02"/>
<ellipse cx="205.2" cy="200.2" rx="2.7" ry="2.65" opacity=".02"/>
<ellipse cx="52.4" cy="218.1" rx="2.04" ry="3.45" opacity=".075"/>
<ellipse cx="52.8" cy="219.6" rx="2.04" ry="3.45" opacity=".095"/>
<ellipse cx="53.1" cy="221" rx="2.04" ry="3.45" opacity=".101"/>
<ellipse cx="53.3" cy="222.4" rx="2.04" ry="3.45" opacity=".089"/>
<ellipse cx="53.5" cy="223.9" rx="2.04" ry="3.45" opacity=".066"/>
<ellipse cx="53.7" cy="225.3" rx="2.04" ry="3.45" opacity=".04"/>
<ellipse cx="53.8" cy="226.7" rx="2.04" ry="3.45" opacity=".021"/>
<ellipse cx="56.6" cy="218.1" rx="2.04" ry="3.45" opacity=".041"/>
<ellipse cx="57" cy="219.6" rx="2.04" ry="3.45" opacity=".052"/>
<ellipse cx="57.3" cy="221" rx="2.04" ry="3.45" opacity=".055"/>
<ellipse cx="57.6" cy="222.4" rx="2.04" ry="3.45" opacity=".049"/>
<ellipse cx="57.8" cy="223.9" rx="2.04" ry="3.45" opacity=".036"/>
<ellipse cx="57.9" cy="225.3" rx="2.04" ry="3.45" opacity=".022"/>
<ellipse cx="64.8" cy="218.1" rx="2.04" ry="3.45" opacity=".156"/>
<ellipse cx="65.2" cy="219.6" rx="2.04" ry="3.45" opacity=".198"/>
<ellipse cx="65.5" cy="221" rx="2.04" ry="3.45" opacity=".209"/>
<ellipse cx="65.7" cy="222.4" rx="2.04" ry="3.45" opacity=".185"/>
<ellipse cx="65.9" cy="223.9" rx="2.04" ry="3.45" opacity=".136"/>
<ellipse cx="66.1" cy="225.3" rx="2.04" ry="3.45" opacity=".084"/>
<ellipse cx="66.2" cy="226.7" rx="2.04" ry="3.45" opacity=".043"/>
<ellipse cx="66.3" cy="228.2" rx="2.04" ry="3.45" opacity=".018"/>
<ellipse cx="75" cy="218.1" rx="1.98" ry="3.45" opacity=".506"/>
<ellipse cx="75.3" cy="219.6" rx="1.98" ry="3.45" opacity=".641"/>
<ellipse cx="75.7" cy="221" rx="1.98" ry="3.45" opacity=".678"/>
<ellipse cx="75.9" cy="222.4" rx="1.98" ry="3.45" opacity=".598"/>
<ellipse cx="76.1" cy="223.9" rx="1.98" ry="3.45" opacity=".441"/>
<ellipse cx="76.3" cy="225.3" rx="1.98" ry="3.45" opacity=".271"/>
<ellipse cx="76.4" cy="226.7" rx="1.98" ry="3.45" opacity=".139"/>
<ellipse cx="76.4" cy="228.2" rx="1.98" ry="3.45" opacity=".06"/>
<ellipse cx="89.5" cy="218.1" rx="2.04" ry="3.45" opacity=".246"/>
<ellipse cx="89.9" cy="219.6" rx="2.04" ry="3.45" opacity=".311"/>
<ellipse cx="90.2" cy="221" rx="2.04" ry="3.45" opacity=".329"/>
<ellipse cx="90.4" cy="222.4" rx="2.04" ry="3.45" opacity=".29"/>
<ellipse cx="90.6" cy="223.9" rx="2.04" ry="3.45" opacity=".214"/>
<ellipse cx="90.8" cy="225.3" rx="2.04" ry="3.45" opacity=".132"/>
<ellipse cx="90.9" cy="226.7" rx="2.04" ry="3.45" opacity=".068"/>
<ellipse cx="90.9" cy="228.2" rx="2.04" ry="3.45" opacity=".029"/>
<ellipse cx="108.4" cy="218.1" rx="2.04" ry="3.45" opacity=".082"/>
<ellipse cx="108.7" cy="219.6" rx="2.04" ry="3.45" opacity=".104"/>
<ellipse cx="109" cy="221" rx="2.04" ry="3.45" opacity=".11"/>
<ellipse cx="109.3" cy="222.4" rx="2.04" ry="3.45" opacity=".097"/>
<ellipse cx="109.5" cy="223.9" rx="2.04" ry="3.45" opacity=".071"/>
<ellipse cx="109.6" cy="225.3" rx="2.04" ry="3.45" opacity=".044"/>
<ellipse cx="109.7" cy="226.7" rx="2.04" ry="3.45" opacity=".023"/>
<ellipse cx="114.6" cy="218.1" rx="2.04" ry="3.45" opacity=".119"/>
<ellipse cx="114.9" cy="219.6" rx="2.04" ry="3.45" opacity=".151"/>
<ellipse cx="115.2" cy="221" rx="2.04" ry="3.45" opacity=".159"/>
<ellipse cx="115.5" cy="222.4" rx="2.04" ry="3.45" opacity=".141"/>
<ellipse cx="115.7" cy="223.9" rx="2.04" ry="3.45" opacity=".104"/>
<ellipse cx="115.9" cy="225.3" rx="2.04" ry="3.45" opacity=".064"/>
<ellipse cx="116" cy="226.7" rx="2.04" ry="3.45" opacity=".033"/>
<ellipse cx="116" cy="228.2" rx="2.04" ry="3.45" opacity=".014"/>
<ellipse cx="124.4" cy="218.1" rx="2.04" ry="3.45" opacity=".253"/>
<ellipse cx="124.7" cy="219.6" rx="2.04" ry="3.45" opacity=".32"/>
<ellipse cx="125" cy="221" rx="2.04" ry="3.45" opacity=".339"/>
<ellipse cx="125.3" cy="222.4" rx="2.04" ry="3.45" opacity=".299"/>
<ellipse cx="125.5" cy="223.9" rx="2.04" ry="3.45" opacity=".22"/>
<ellipse cx="125.7" cy="225.3" rx="2.04" ry="3.45" opacity=".136"/>
<ellipse cx="125.8" cy="226.7" rx="2.04" ry="3.45" opacity=".07"/>
<ellipse cx="125.8" cy="228.2" rx="2.04" ry="3.45" opacity=".03"/>
<ellipse cx="138" cy="218.1" rx="2.04" ry="3.45" opacity=".03"/>
<ellipse cx="138.4" cy="219.6" rx="2.04" ry="3.45" opacity=".038"/>
<ellipse cx="138.7" cy="221" rx="2.04" ry="3.45" opacity=".04"/>
<ellipse cx="139" cy="222.4" rx="2.04" ry="3.45" opacity=".035"/>
<ellipse cx="139.2" cy="223.9" rx="2.04" ry="3.45" opacity=".026"/>
<ellipse cx="139.3" cy="225.3" rx="2.04" ry="3.45" opacity=".016"/>
<ellipse cx="142.9" cy="218.1" rx="2.04" ry="3.45" opacity=".037"/>
<ellipse cx="143.3" cy="219.6" rx="2.04" ry="3.45" opacity=".047"/>
<ellipse cx="143.6" cy="221" rx="2.04" ry="3.45" opacity=".05"/>
<ellipse cx="143.8" cy="222.4" rx="2.04" ry="3.45" opacity=".044"/>
<ellipse cx="144" cy="223.9" rx="2.04" ry="3.45" opacity=".032"/>
<ellipse cx="144.2" cy="225.3" rx="2.04" ry="3.45" opacity=".02"/>
<ellipse cx="150.7" cy="218.1" rx="2.04" ry="3.45" opacity=".026"/>
<ellipse cx="151.1" cy="219.6" rx="2.04" ry="3.45" opacity=".033"/>
<ellipse cx="151.4" cy="221" rx="2.04" ry="3.45" opacity=".035"/>
<ellipse cx="151.7" cy="222.4" rx="2.04" ry="3.45" opacity=".031"/>
<ellipse cx="151.9" cy="223.9" rx="2.04" ry="3.45" opacity=".023"/>
<ellipse cx="152" cy="225.3" rx="2.04" ry="3.45" opacity=".014"/>
<ellipse cx="167.4" cy="219.6" rx="2.04" ry="3.45" opacity=".014"/>
<ellipse cx="167.7" cy="221" rx="2.04" ry="3.45" opacity=".015"/>
<ellipse cx="168" cy="222.4" rx="2.04" ry="3.45" opacity=".013"/>
<ellipse cx="175.8" cy="219.6" rx="2.04" ry="3.45" opacity=".014"/>
<ellipse cx="176.1" cy="221" rx="2.04" ry="3.45" opacity=".015"/>
<ellipse cx="176.4" cy="222.4" rx="2.04" ry="3.45" opacity=".013"/>
<ellipse cx="70" cy="217.9" rx="2.7" ry="2.66" opacity=".3"/>
<ellipse cx="84.5" cy="217.9" rx="2.7" ry="2.66" opacity=".09"/>
<ellipse cx="100.2" cy="217.9" rx="2.7" ry="2.66" opacity=".1"/>
<ellipse cx="122.8" cy="217.9" rx="2.7" ry="2.66" opacity=".14"/>
<ellipse cx="127" cy="217.9" rx="2.7" ry="2.66" opacity=".14"/>
<ellipse cx="52.1" cy="217.9" rx="2.7" ry="2.66" opacity=".06"/>
<ellipse cx="161.3" cy="217.9" rx="2.7" ry="2.66" opacity=".03"/>
<ellipse cx="172.5" cy="217.9" rx="2.7" ry="2.66" opacity=".025"/>
<ellipse cx="183.7" cy="217.9" rx="2.7" ry="2.66" opacity=".025"/>
<ellipse cx="194.8" cy="217.9" rx="2.7" ry="2.66" opacity=".02"/>
<ellipse cx="206" cy="217.9" rx="2.7" ry="2.66" opacity=".02"/>
<ellipse cx="52.5" cy="234.5" rx="2.04" ry="3.24" opacity=".069"/>
<ellipse cx="52.9" cy="235.8" rx="2.04" ry="3.24" opacity=".089"/>
<ellipse cx="53.3" cy="237.2" rx="2.04" ry="3.24" opacity=".096"/>
<ellipse cx="53.6" cy="238.5" rx="2.04" ry="3.24" opacity=".086"/>
<ellipse cx="53.8" cy="239.9" rx="2.04" ry="3.24" opacity=".065"/>
<ellipse cx="54" cy="241.2" rx="2.04" ry="3.24" opacity=".041"/>
<ellipse cx="54.1" cy="242.6" rx="2.04" ry="3.24" opacity=".021"/>
<ellipse cx="56.8" cy="234.5" rx="2.04" ry="3.24" opacity=".038"/>
<ellipse cx="57.2" cy="235.8" rx="2.04" ry="3.24" opacity=".049"/>
<ellipse cx="57.5" cy="237.2" rx="2.04" ry="3.24" opacity=".052"/>
<ellipse cx="57.8" cy="238.5" rx="2.04" ry="3.24" opacity=".047"/>
<ellipse cx="58.1" cy="239.9" rx="2.04" ry="3.24" opacity=".035"/>
<ellipse cx="58.2" cy="241.2" rx="2.04" ry="3.24" opacity=".022"/>
<ellipse cx="65" cy="234.5" rx="2.04" ry="3.24" opacity=".151"/>
<ellipse cx="65.4" cy="235.8" rx="2.04" ry="3.24" opacity=".195"/>
<ellipse cx="65.7" cy="237.2" rx="2.04" ry="3.24" opacity=".21"/>
<ellipse cx="66" cy="238.5" rx="2.04" ry="3.24" opacity=".189"/>
<ellipse cx="66.3" cy="239.9" rx="2.04" ry="3.24" opacity=".142"/>
<ellipse cx="66.4" cy="241.2" rx="2.04" ry="3.24" opacity=".089"/>
<ellipse cx="66.6" cy="242.6" rx="2.04" ry="3.24" opacity=".046"/>
<ellipse cx="66.6" cy="243.9" rx="2.04" ry="3.24" opacity=".02"/>
<ellipse cx="75.2" cy="234.5" rx="1.98" ry="3.24" opacity=".489"/>
<ellipse cx="75.6" cy="235.8" rx="1.98" ry="3.24" opacity=".631"/>
<ellipse cx="75.9" cy="237.2" rx="1.98" ry="3.24" opacity=".68"/>
<ellipse cx="76.2" cy="238.5" rx="1.98" ry="3.24" opacity=".611"/>
<ellipse cx="76.5" cy="239.9" rx="1.98" ry="3.24" opacity=".459"/>
<ellipse cx="76.7" cy="241.2" rx="1.98" ry="3.24" opacity=".287"/>
<ellipse cx="76.8" cy="242.6" rx="1.98" ry="3.24" opacity=".15"/>
<ellipse cx="76.8" cy="243.9" rx="1.98" ry="3.24" opacity=".066"/>
<ellipse cx="89.8" cy="234.5" rx="2.04" ry="3.24" opacity=".237"/>
<ellipse cx="90.2" cy="235.8" rx="2.04" ry="3.24" opacity=".306"/>
<ellipse cx="90.5" cy="237.2" rx="2.04" ry="3.24" opacity=".33"/>
<ellipse cx="90.8" cy="238.5" rx="2.04" ry="3.24" opacity=".296"/>
<ellipse cx="91.1" cy="239.9" rx="2.04" ry="3.24" opacity=".223"/>
<ellipse cx="91.2" cy="241.2" rx="2.04" ry="3.24" opacity=".139"/>
<ellipse cx="91.3" cy="242.6" rx="2.04" ry="3.24" opacity=".073"/>
<ellipse cx="91.4" cy="243.9" rx="2.04" ry="3.24" opacity=".032"/>
<ellipse cx="108.7" cy="234.5" rx="2.04" ry="3.24" opacity=".079"/>
<ellipse cx="109.1" cy="235.8" rx="2.04" ry="3.24" opacity=".102"/>
<ellipse cx="109.5" cy="237.2" rx="2.04" ry="3.24" opacity=".11"/>
<ellipse cx="109.7" cy="238.5" rx="2.04" ry="3.24" opacity=".099"/>
<ellipse cx="110" cy="239.9" rx="2.04" ry="3.24" opacity=".074"/>
<ellipse cx="110.2" cy="241.2" rx="2.04" ry="3.24" opacity=".046"/>
<ellipse cx="110.3" cy="242.6" rx="2.04" ry="3.24" opacity=".024"/>
<ellipse cx="114.9" cy="234.5" rx="2.04" ry="3.24" opacity=".115"/>
<ellipse cx="115.4" cy="235.8" rx="2.04" ry="3.24" opacity=".148"/>
<ellipse cx="115.7" cy="237.2" rx="2.04" ry="3.24" opacity=".16"/>
<ellipse cx="116" cy="238.5" rx="2.04" ry="3.24" opacity=".144"/>
<ellipse cx="116.2" cy="239.9" rx="2.04" ry="3.24" opacity=".108"/>
<ellipse cx="116.4" cy="241.2" rx="2.04" ry="3.24" opacity=".068"/>
<ellipse cx="116.5" cy="242.6" rx="2.04" ry="3.24" opacity=".035"/>
<ellipse cx="116.6" cy="243.9" rx="2.04" ry="3.24" opacity=".015"/>
<ellipse cx="124.8" cy="234.5" rx="2.04" ry="3.24" opacity=".244"/>
<ellipse cx="125.2" cy="235.8" rx="2.04" ry="3.24" opacity=".315"/>
<ellipse cx="125.5" cy="237.2" rx="2.04" ry="3.24" opacity=".34"/>
<ellipse cx="125.8" cy="238.5" rx="2.04" ry="3.24" opacity=".305"/>
<ellipse cx="126.1" cy="239.9" rx="2.04" ry="3.24" opacity=".229"/>
<ellipse cx="126.2" cy="241.2" rx="2.04" ry="3.24" opacity=".144"/>
<ellipse cx="126.4" cy="242.6" rx="2.04" ry="3.24" opacity=".075"/>
<ellipse cx="126.4" cy="243.9" rx="2.04" ry="3.24" opacity=".033"/>
<ellipse cx="138.5" cy="234.5" rx="2.04" ry="3.24" opacity=".029"/>
<ellipse cx="138.9" cy="235.8" rx="2.04" ry="3.24" opacity=".037"/>
<ellipse cx="139.3" cy="237.2" rx="2.04" ry="3.24" opacity=".04"/>
<ellipse cx="139.5" cy="238.5" rx="2.04" ry="3.24" opacity=".036"/>
<ellipse cx="139.8" cy="239.9" rx="2.04" ry="3.24" opacity=".027"/>
<ellipse cx="140" cy="241.2" rx="2.04" ry="3.24" opacity=".017"/>
<ellipse cx="143.4" cy="234.5" rx="2.04" ry="3.24" opacity=".036"/>
<ellipse cx="143.8" cy="235.8" rx="2.04" ry="3.24" opacity=".046"/>
<ellipse cx="144.2" cy="237.2" rx="2.04" ry="3.24" opacity=".05"/>
<ellipse cx="144.5" cy="238.5" rx="2.04" ry="3.24" opacity=".045"/>
<ellipse cx="144.7" cy="239.9" rx="2.04" ry="3.24" opacity=".034"/>
<ellipse cx="144.9" cy="241.2" rx="2.04" ry="3.24" opacity=".021"/>
<ellipse cx="151.3" cy="234.5" rx="2.04" ry="3.24" opacity=".025"/>
<ellipse cx="151.7" cy="235.8" rx="2.04" ry="3.24" opacity=".032"/>
<ellipse cx="152" cy="237.2" rx="2.04" ry="3.24" opacity=".035"/>
<ellipse cx="152.3" cy="238.5" rx="2.04" ry="3.24" opacity=".031"/>
<ellipse cx="152.5" cy="239.9" rx="2.04" ry="3.24" opacity=".024"/>
<ellipse cx="152.7" cy="241.2" rx="2.04" ry="3.24" opacity=".015"/>
<ellipse cx="168.1" cy="235.8" rx="2.04" ry="3.24" opacity=".014"/>
<ellipse cx="168.4" cy="237.2" rx="2.04" ry="3.24" opacity=".015"/>
<ellipse cx="168.7" cy="238.5" rx="2.04" ry="3.24" opacity=".013"/>
<ellipse cx="176.5" cy="235.8" rx="2.04" ry="3.24" opacity=".014"/>
<ellipse cx="176.8" cy="237.2" rx="2.04" ry="3.24" opacity=".015"/>
<ellipse cx="177.1" cy="238.5" rx="2.04" ry="3.24" opacity=".013"/>
<ellipse cx="70.2" cy="234.3" rx="2.7" ry="2.46" opacity=".3"/>
<ellipse cx="84.8" cy="234.3" rx="2.7" ry="2.46" opacity=".09"/>
<ellipse cx="100.5" cy="234.3" rx="2.7" ry="2.46" opacity=".1"/>
<ellipse cx="123.2" cy="234.3" rx="2.7" ry="2.46" opacity=".14"/>
<ellipse cx="127.4" cy="234.3" rx="2.7" ry="2.46" opacity=".14"/>
<ellipse cx="52.3" cy="234.3" rx="2.7" ry="2.46" opacity=".06"/>
<ellipse cx="161.9" cy="234.3" rx="2.7" ry="2.46" opacity=".03"/>
<ellipse cx="173.1" cy="234.3" rx="2.7" ry="2.46" opacity=".025"/>
<ellipse cx="184.3" cy="234.3" rx="2.7" ry="2.46" opacity=".025"/>
<ellipse cx="195.5" cy="234.3" rx="2.7" ry="2.46" opacity=".02"/>
<ellipse cx="206.8" cy="234.3" rx="2.7" ry="2.46" opacity=".02"/>
<ellipse cx="52.7" cy="248.9" rx="2.04" ry="3.5" opacity=".065"/>
<ellipse cx="53.2" cy="250.4" rx="2.04" ry="3.5" opacity=".087"/>
<ellipse cx="53.6" cy="251.8" rx="2.04" ry="3.5" opacity=".091"/>
<ellipse cx="53.9" cy="253.3" rx="2.04" ry="3.5" opacity=".076"/>
<ellipse cx="54.2" cy="254.8" rx="2.04" ry="3.5" opacity=".05"/>
<ellipse cx="54.3" cy="256.2" rx="2.04" ry="3.5" opacity=".026"/>
<ellipse cx="56.9" cy="248.9" rx="2.04" ry="3.5" opacity=".035"/>
<ellipse cx="57.4" cy="250.4" rx="2.04" ry="3.5" opacity=".047"/>
<ellipse cx="57.9" cy="251.8" rx="2.04" ry="3.5" opacity=".05"/>
<ellipse cx="58.2" cy="253.3" rx="2.04" ry="3.5" opacity=".042"/>
<ellipse cx="58.4" cy="254.8" rx="2.04" ry="3.5" opacity=".027"/>
<ellipse cx="58.6" cy="256.2" rx="2.04" ry="3.5" opacity=".014"/>
<ellipse cx="65.2" cy="248.9" rx="2.04" ry="3.5" opacity=".148"/>
<ellipse cx="65.7" cy="250.4" rx="2.04" ry="3.5" opacity=".197"/>
<ellipse cx="66.1" cy="251.8" rx="2.04" ry="3.5" opacity=".208"/>
<ellipse cx="66.4" cy="253.3" rx="2.04" ry="3.5" opacity=".174"/>
<ellipse cx="66.7" cy="254.8" rx="2.04" ry="3.5" opacity=".114"/>
<ellipse cx="66.9" cy="256.2" rx="2.04" ry="3.5" opacity=".059"/>
<ellipse cx="66.9" cy="257.7" rx="2.04" ry="3.5" opacity=".024"/>
<ellipse cx="75.4" cy="248.9" rx="1.98" ry="3.5" opacity=".478"/>
<ellipse cx="75.9" cy="250.4" rx="1.98" ry="3.5" opacity=".639"/>
<ellipse cx="76.3" cy="251.8" rx="1.98" ry="3.5" opacity=".674"/>
<ellipse cx="76.7" cy="253.3" rx="1.98" ry="3.5" opacity=".562"/>
<ellipse cx="76.9" cy="254.8" rx="1.98" ry="3.5" opacity=".37"/>
<ellipse cx="77.1" cy="256.2" rx="1.98" ry="3.5" opacity=".192"/>
<ellipse cx="77.2" cy="257.7" rx="1.98" ry="3.5" opacity=".079"/>
<ellipse cx="90.1" cy="248.9" rx="2.04" ry="3.5" opacity=".232"/>
<ellipse cx="90.6" cy="250.4" rx="2.04" ry="3.5" opacity=".31"/>
<ellipse cx="91" cy="251.8" rx="2.04" ry="3.5" opacity=".327"/>
<ellipse cx="91.3" cy="253.3" rx="2.04" ry="3.5" opacity=".273"/>
<ellipse cx="91.6" cy="254.8" rx="2.04" ry="3.5" opacity=".18"/>
<ellipse cx="91.7" cy="256.2" rx="2.04" ry="3.5" opacity=".093"/>
<ellipse cx="91.8" cy="257.7" rx="2.04" ry="3.5" opacity=".038"/>
<ellipse cx="109.1" cy="248.9" rx="2.04" ry="3.5" opacity=".077"/>
<ellipse cx="109.6" cy="250.4" rx="2.04" ry="3.5" opacity=".103"/>
<ellipse cx="110" cy="251.8" rx="2.04" ry="3.5" opacity=".109"/>
<ellipse cx="110.3" cy="253.3" rx="2.04" ry="3.5" opacity=".091"/>
<ellipse cx="110.6" cy="254.8" rx="2.04" ry="3.5" opacity=".06"/>
<ellipse cx="110.7" cy="256.2" rx="2.04" ry="3.5" opacity=".031"/>
<ellipse cx="110.8" cy="257.7" rx="2.04" ry="3.5" opacity=".013"/>
<ellipse cx="115.3" cy="248.9" rx="2.04" ry="3.5" opacity=".112"/>
<ellipse cx="115.8" cy="250.4" rx="2.04" ry="3.5" opacity=".15"/>
<ellipse cx="116.3" cy="251.8" rx="2.04" ry="3.5" opacity=".159"/>
<ellipse cx="116.6" cy="253.3" rx="2.04" ry="3.5" opacity=".132"/>
<ellipse cx="116.8" cy="254.8" rx="2.04" ry="3.5" opacity=".087"/>
<ellipse cx="117" cy="256.2" rx="2.04" ry="3.5" opacity=".045"/>
<ellipse cx="117.1" cy="257.7" rx="2.04" ry="3.5" opacity=".019"/>
<ellipse cx="125.2" cy="248.9" rx="2.04" ry="3.5" opacity=".239"/>
<ellipse cx="125.7" cy="250.4" rx="2.04" ry="3.5" opacity=".319"/>
<ellipse cx="126.1" cy="251.8" rx="2.04" ry="3.5" opacity=".337"/>
<ellipse cx="126.5" cy="253.3" rx="2.04" ry="3.5" opacity=".281"/>
<ellipse cx="126.7" cy="254.8" rx="2.04" ry="3.5" opacity=".185"/>
<ellipse cx="126.9" cy="256.2" rx="2.04" ry="3.5" opacity=".096"/>
<ellipse cx="127" cy="257.7" rx="2.04" ry="3.5" opacity=".04"/>
<ellipse cx="139" cy="248.9" rx="2.04" ry="3.5" opacity=".028"/>
<ellipse cx="139.5" cy="250.4" rx="2.04" ry="3.5" opacity=".038"/>
<ellipse cx="139.9" cy="251.8" rx="2.04" ry="3.5" opacity=".04"/>
<ellipse cx="140.2" cy="253.3" rx="2.04" ry="3.5" opacity=".033"/>
<ellipse cx="140.5" cy="254.8" rx="2.04" ry="3.5" opacity=".022"/>
<ellipse cx="143.9" cy="248.9" rx="2.04" ry="3.5" opacity=".035"/>
<ellipse cx="144.4" cy="250.4" rx="2.04" ry="3.5" opacity=".047"/>
<ellipse cx="144.8" cy="251.8" rx="2.04" ry="3.5" opacity=".05"/>
<ellipse cx="145.2" cy="253.3" rx="2.04" ry="3.5" opacity=".041"/>
<ellipse cx="145.4" cy="254.8" rx="2.04" ry="3.5" opacity=".027"/>
<ellipse cx="145.6" cy="256.2" rx="2.04" ry="3.5" opacity=".014"/>
<ellipse cx="151.8" cy="248.9" rx="2.04" ry="3.5" opacity=".025"/>
<ellipse cx="152.3" cy="250.4" rx="2.04" ry="3.5" opacity=".033"/>
<ellipse cx="152.7" cy="251.8" rx="2.04" ry="3.5" opacity=".035"/>
<ellipse cx="153" cy="253.3" rx="2.04" ry="3.5" opacity=".029"/>
<ellipse cx="153.3" cy="254.8" rx="2.04" ry="3.5" opacity=".019"/>
<ellipse cx="168.8" cy="250.4" rx="2.04" ry="3.5" opacity=".014"/>
<ellipse cx="169.2" cy="251.8" rx="2.04" ry="3.5" opacity=".015"/>
<ellipse cx="169.5" cy="253.3" rx="2.04" ry="3.5" opacity=".012"/>
<ellipse cx="177.2" cy="250.4" rx="2.04" ry="3.5" opacity=".014"/>
<ellipse cx="177.6" cy="251.8" rx="2.04" ry="3.5" opacity=".015"/>
<ellipse cx="178" cy="253.3" rx="2.04" ry="3.5" opacity=".012"/>
<ellipse cx="70.4" cy="248.7" rx="2.7" ry="2.16" opacity=".288"/>
<ellipse cx="85" cy="248.7" rx="2.7" ry="2.16" opacity=".086"/>
<ellipse cx="100.8" cy="248.7" rx="2.7" ry="2.16" opacity=".096"/>
<ellipse cx="123.6" cy="248.7" rx="2.7" ry="2.16" opacity=".134"/>
<ellipse cx="127.8" cy="248.7" rx="2.7" ry="2.16" opacity=".134"/>
<ellipse cx="52.4" cy="248.7" rx="2.7" ry="2.16" opacity=".058"/>
<ellipse cx="162.4" cy="248.7" rx="2.7" ry="2.16" opacity=".029"/>
<ellipse cx="173.7" cy="248.7" rx="2.7" ry="2.16" opacity=".024"/>
<ellipse cx="185" cy="248.7" rx="2.7" ry="2.16" opacity=".024"/>
<ellipse cx="196.2" cy="248.7" rx="2.7" ry="2.16" opacity=".019"/>
<ellipse cx="207.5" cy="248.7" rx="2.7" ry="2.16" opacity=".019"/>
<ellipse cx="52.8" cy="261.7" rx="2.04" ry="3.31" opacity=".059"/>
<ellipse cx="53.3" cy="263.1" rx="2.04" ry="3.31" opacity=".081"/>
<ellipse cx="53.8" cy="264.5" rx="2.04" ry="3.31" opacity=".088"/>
<ellipse cx="54.1" cy="265.8" rx="2.04" ry="3.31" opacity=".076"/>
<ellipse cx="54.4" cy="267.2" rx="2.04" ry="3.31" opacity=".051"/>
<ellipse cx="54.6" cy="268.6" rx="2.04" ry="3.31" opacity=".028"/>
<ellipse cx="57.1" cy="261.7" rx="2.04" ry="3.31" opacity=".032"/>
<ellipse cx="57.6" cy="263.1" rx="2.04" ry="3.31" opacity=".044"/>
<ellipse cx="58.1" cy="264.5" rx="2.04" ry="3.31" opacity=".048"/>
<ellipse cx="58.4" cy="265.8" rx="2.04" ry="3.31" opacity=".041"/>
<ellipse cx="58.7" cy="267.2" rx="2.04" ry="3.31" opacity=".028"/>
<ellipse cx="58.9" cy="268.6" rx="2.04" ry="3.31" opacity=".015"/>
<ellipse cx="65.3" cy="261.7" rx="2.04" ry="3.31" opacity=".14"/>
<ellipse cx="65.9" cy="263.1" rx="2.04" ry="3.31" opacity=".193"/>
<ellipse cx="66.3" cy="264.5" rx="2.04" ry="3.31" opacity=".209"/>
<ellipse cx="66.7" cy="265.8" rx="2.04" ry="3.31" opacity=".18"/>
<ellipse cx="67" cy="267.2" rx="2.04" ry="3.31" opacity=".122"/>
<ellipse cx="67.2" cy="268.6" rx="2.04" ry="3.31" opacity=".065"/>
<ellipse cx="67.3" cy="270" rx="2.04" ry="3.31" opacity=".028"/>
<ellipse cx="75.6" cy="261.7" rx="1.98" ry="3.31" opacity=".454"/>
<ellipse cx="76.2" cy="263.1" rx="1.98" ry="3.31" opacity=".624"/>
<ellipse cx="76.6" cy="264.5" rx="1.98" ry="3.31" opacity=".678"/>
<ellipse cx="77" cy="265.8" rx="1.98" ry="3.31" opacity=".582"/>
<ellipse cx="77.3" cy="267.2" rx="1.98" ry="3.31" opacity=".395"/>
<ellipse cx="77.4" cy="268.6" rx="1.98" ry="3.31" opacity=".211"/>
<ellipse cx="77.5" cy="270" rx="1.98" ry="3.31" opacity=".089"/>
<ellipse cx="90.3" cy="261.7" rx="2.04" ry="3.31" opacity=".22"/>
<ellipse cx="90.9" cy="263.1" rx="2.04" ry="3.31" opacity=".303"/>
<ellipse cx="91.3" cy="264.5" rx="2.04" ry="3.31" opacity=".329"/>
<ellipse cx="91.7" cy="265.8" rx="2.04" ry="3.31" opacity=".283"/>
<ellipse cx="92" cy="267.2" rx="2.04" ry="3.31" opacity=".192"/>
<ellipse cx="92.1" cy="268.6" rx="2.04" ry="3.31" opacity=".103"/>
<ellipse cx="92.2" cy="270" rx="2.04" ry="3.31" opacity=".043"/>
<ellipse cx="109.4" cy="261.7" rx="2.04" ry="3.31" opacity=".073"/>
<ellipse cx="109.9" cy="263.1" rx="2.04" ry="3.31" opacity=".101"/>
<ellipse cx="110.4" cy="264.5" rx="2.04" ry="3.31" opacity=".11"/>
<ellipse cx="110.7" cy="265.8" rx="2.04" ry="3.31" opacity=".094"/>
<ellipse cx="111" cy="267.2" rx="2.04" ry="3.31" opacity=".064"/>
<ellipse cx="111.2" cy="268.6" rx="2.04" ry="3.31" opacity=".034"/>
<ellipse cx="111.3" cy="270" rx="2.04" ry="3.31" opacity=".014"/>
<ellipse cx="115.7" cy="261.7" rx="2.04" ry="3.31" opacity=".107"/>
<ellipse cx="116.2" cy="263.1" rx="2.04" ry="3.31" opacity=".147"/>
<ellipse cx="116.7" cy="264.5" rx="2.04" ry="3.31" opacity=".16"/>
<ellipse cx="117" cy="265.8" rx="2.04" ry="3.31" opacity=".137"/>
<ellipse cx="117.3" cy="267.2" rx="2.04" ry="3.31" opacity=".093"/>
<ellipse cx="117.5" cy="268.6" rx="2.04" ry="3.31" opacity=".05"/>
<ellipse cx="117.6" cy="270" rx="2.04" ry="3.31" opacity=".021"/>
<ellipse cx="125.6" cy="261.7" rx="2.04" ry="3.31" opacity=".227"/>
<ellipse cx="126.1" cy="263.1" rx="2.04" ry="3.31" opacity=".312"/>
<ellipse cx="126.6" cy="264.5" rx="2.04" ry="3.31" opacity=".339"/>
<ellipse cx="127" cy="265.8" rx="2.04" ry="3.31" opacity=".291"/>
<ellipse cx="127.2" cy="267.2" rx="2.04" ry="3.31" opacity=".197"/>
<ellipse cx="127.4" cy="268.6" rx="2.04" ry="3.31" opacity=".106"/>
<ellipse cx="127.5" cy="270" rx="2.04" ry="3.31" opacity=".045"/>
<ellipse cx="139.4" cy="261.7" rx="2.04" ry="3.31" opacity=".027"/>
<ellipse cx="139.9" cy="263.1" rx="2.04" ry="3.31" opacity=".037"/>
<ellipse cx="140.4" cy="264.5" rx="2.04" ry="3.31" opacity=".04"/>
<ellipse cx="140.8" cy="265.8" rx="2.04" ry="3.31" opacity=".034"/>
<ellipse cx="141" cy="267.2" rx="2.04" ry="3.31" opacity=".023"/>
<ellipse cx="141.2" cy="268.6" rx="2.04" ry="3.31" opacity=".012"/>
<ellipse cx="144.3" cy="261.7" rx="2.04" ry="3.31" opacity=".033"/>
<ellipse cx="144.9" cy="263.1" rx="2.04" ry="3.31" opacity=".046"/>
<ellipse cx="145.3" cy="264.5" rx="2.04" ry="3.31" opacity=".05"/>
<ellipse cx="145.7" cy="265.8" rx="2.04" ry="3.31" opacity=".043"/>
<ellipse cx="146" cy="267.2" rx="2.04" ry="3.31" opacity=".029"/>
<ellipse cx="146.2" cy="268.6" rx="2.04" ry="3.31" opacity=".016"/>
<ellipse cx="152.3" cy="261.7" rx="2.04" ry="3.31" opacity=".023"/>
<ellipse cx="152.8" cy="263.1" rx="2.04" ry="3.31" opacity=".032"/>
<ellipse cx="153.3" cy="264.5" rx="2.04" ry="3.31" opacity=".035"/>
<ellipse cx="153.6" cy="265.8" rx="2.04" ry="3.31" opacity=".03"/>
<ellipse cx="153.9" cy="267.2" rx="2.04" ry="3.31" opacity=".02"/>
<ellipse cx="169.3" cy="263.1" rx="2.04" ry="3.31" opacity=".014"/>
<ellipse cx="169.8" cy="264.5" rx="2.04" ry="3.31" opacity=".015"/>
<ellipse cx="170.1" cy="265.8" rx="2.04" ry="3.31" opacity=".013"/>
<ellipse cx="177.8" cy="263.1" rx="2.04" ry="3.31" opacity=".014"/>
<ellipse cx="178.3" cy="264.5" rx="2.04" ry="3.31" opacity=".015"/>
<ellipse cx="178.6" cy="265.8" rx="2.04" ry="3.31" opacity=".013"/>
<ellipse cx="70.6" cy="261.5" rx="2.7" ry="2.1" opacity=".256"/>
<ellipse cx="85.3" cy="261.5" rx="2.7" ry="2.1" opacity=".077"/>
<ellipse cx="101.1" cy="261.5" rx="2.7" ry="2.1" opacity=".085"/>
<ellipse cx="124" cy="261.5" rx="2.7" ry="2.1" opacity=".119"/>
<ellipse cx="128.2" cy="261.5" rx="2.7" ry="2.1" opacity=".119"/>
<ellipse cx="52.5" cy="261.5" rx="2.7" ry="2.1" opacity=".051"/>
<ellipse cx="163" cy="261.5" rx="2.7" ry="2.1" opacity=".026"/>
<ellipse cx="174.3" cy="261.5" rx="2.7" ry="2.1" opacity=".021"/>
<ellipse cx="185.6" cy="261.5" rx="2.7" ry="2.1" opacity=".021"/>
<ellipse cx="196.9" cy="261.5" rx="2.7" ry="2.1" opacity=".017"/>
<ellipse cx="208.2" cy="261.5" rx="2.7" ry="2.1" opacity=".017"/>
<ellipse cx="52.9" cy="273.5" rx="2.04" ry="3.37" opacity=".055"/>
<ellipse cx="53.6" cy="274.9" rx="2.04" ry="3.37" opacity=".079"/>
<ellipse cx="54.1" cy="276.3" rx="2.04" ry="3.37" opacity=".081"/>
<ellipse cx="54.5" cy="277.7" rx="2.04" ry="3.37" opacity=".061"/>
<ellipse cx="54.8" cy="279.1" rx="2.04" ry="3.37" opacity=".033"/>
<ellipse cx="55" cy="280.5" rx="2.04" ry="3.37" opacity=".013"/>
<ellipse cx="57.2" cy="273.5" rx="2.04" ry="3.37" opacity=".03"/>
<ellipse cx="57.9" cy="274.9" rx="2.04" ry="3.37" opacity=".043"/>
<ellipse cx="58.4" cy="276.3" rx="2.04" ry="3.37" opacity=".044"/>
<ellipse cx="58.9" cy="277.7" rx="2.04" ry="3.37" opacity=".033"/>
<ellipse cx="59.1" cy="279.1" rx="2.04" ry="3.37" opacity=".018"/>
<ellipse cx="65.5" cy="273.5" rx="2.04" ry="3.37" opacity=".14"/>
<ellipse cx="66.2" cy="274.9" rx="2.04" ry="3.37" opacity=".199"/>
<ellipse cx="66.7" cy="276.3" rx="2.04" ry="3.37" opacity=".204"/>
<ellipse cx="67.2" cy="277.7" rx="2.04" ry="3.37" opacity=".153"/>
<ellipse cx="67.4" cy="279.1" rx="2.04" ry="3.37" opacity=".083"/>
<ellipse cx="67.6" cy="280.5" rx="2.04" ry="3.37" opacity=".032"/>
<ellipse cx="75.8" cy="273.5" rx="1.98" ry="3.37" opacity=".453"/>
<ellipse cx="76.5" cy="274.9" rx="1.98" ry="3.37" opacity=".643"/>
<ellipse cx="77.1" cy="276.3" rx="1.98" ry="3.37" opacity=".662"/>
<ellipse cx="77.5" cy="277.7" rx="1.98" ry="3.37" opacity=".494"/>
<ellipse cx="77.8" cy="279.1" rx="1.98" ry="3.37" opacity=".268"/>
<ellipse cx="77.9" cy="280.5" rx="1.98" ry="3.37" opacity=".105"/>
<ellipse cx="90.6" cy="273.5" rx="2.04" ry="3.37" opacity=".22"/>
<ellipse cx="91.2" cy="274.9" rx="2.04" ry="3.37" opacity=".312"/>
<ellipse cx="91.8" cy="276.3" rx="2.04" ry="3.37" opacity=".321"/>
<ellipse cx="92.2" cy="277.7" rx="2.04" ry="3.37" opacity=".24"/>
<ellipse cx="92.5" cy="279.1" rx="2.04" ry="3.37" opacity=".13"/>
<ellipse cx="92.6" cy="280.5" rx="2.04" ry="3.37" opacity=".051"/>
<ellipse cx="109.7" cy="273.5" rx="2.04" ry="3.37" opacity=".073"/>
<ellipse cx="110.4" cy="274.9" rx="2.04" ry="3.37" opacity=".104"/>
<ellipse cx="110.9" cy="276.3" rx="2.04" ry="3.37" opacity=".107"/>
<ellipse cx="111.3" cy="277.7" rx="2.04" ry="3.37" opacity=".08"/>
<ellipse cx="111.6" cy="279.1" rx="2.04" ry="3.37" opacity=".043"/>
<ellipse cx="111.8" cy="280.5" rx="2.04" ry="3.37" opacity=".017"/>
<ellipse cx="116" cy="273.5" rx="2.04" ry="3.37" opacity=".107"/>
<ellipse cx="116.7" cy="274.9" rx="2.04" ry="3.37" opacity=".151"/>
<ellipse cx="117.3" cy="276.3" rx="2.04" ry="3.37" opacity=".156"/>
<ellipse cx="117.7" cy="277.7" rx="2.04" ry="3.37" opacity=".116"/>
<ellipse cx="117.9" cy="279.1" rx="2.04" ry="3.37" opacity=".063"/>
<ellipse cx="118.1" cy="280.5" rx="2.04" ry="3.37" opacity=".025"/>
<ellipse cx="126" cy="273.5" rx="2.04" ry="3.37" opacity=".226"/>
<ellipse cx="126.6" cy="274.9" rx="2.04" ry="3.37" opacity=".321"/>
<ellipse cx="127.2" cy="276.3" rx="2.04" ry="3.37" opacity=".331"/>
<ellipse cx="127.6" cy="277.7" rx="2.04" ry="3.37" opacity=".247"/>
<ellipse cx="127.9" cy="279.1" rx="2.04" ry="3.37" opacity=".134"/>
<ellipse cx="128" cy="280.5" rx="2.04" ry="3.37" opacity=".053"/>
<ellipse cx="139.8" cy="273.5" rx="2.04" ry="3.37" opacity=".027"/>
<ellipse cx="140.5" cy="274.9" rx="2.04" ry="3.37" opacity=".038"/>
<ellipse cx="141.1" cy="276.3" rx="2.04" ry="3.37" opacity=".039"/>
<ellipse cx="141.5" cy="277.7" rx="2.04" ry="3.37" opacity=".029"/>
<ellipse cx="141.8" cy="279.1" rx="2.04" ry="3.37" opacity=".016"/>
<ellipse cx="144.8" cy="273.5" rx="2.04" ry="3.37" opacity=".033"/>
<ellipse cx="145.5" cy="274.9" rx="2.04" ry="3.37" opacity=".047"/>
<ellipse cx="146" cy="276.3" rx="2.04" ry="3.37" opacity=".049"/>
<ellipse cx="146.4" cy="277.7" rx="2.04" ry="3.37" opacity=".036"/>
<ellipse cx="146.7" cy="279.1" rx="2.04" ry="3.37" opacity=".02"/>
<ellipse cx="152.7" cy="273.5" rx="2.04" ry="3.37" opacity=".023"/>
<ellipse cx="153.4" cy="274.9" rx="2.04" ry="3.37" opacity=".033"/>
<ellipse cx="154" cy="276.3" rx="2.04" ry="3.37" opacity=".034"/>
<ellipse cx="154.4" cy="277.7" rx="2.04" ry="3.37" opacity=".025"/>
<ellipse cx="154.7" cy="279.1" rx="2.04" ry="3.37" opacity=".014"/>
<ellipse cx="170" cy="274.9" rx="2.04" ry="3.37" opacity=".014"/>
<ellipse cx="170.5" cy="276.3" rx="2.04" ry="3.37" opacity=".015"/>
<ellipse cx="178.5" cy="274.9" rx="2.04" ry="3.37" opacity=".014"/>
<ellipse cx="179" cy="276.3" rx="2.04" ry="3.37" opacity=".015"/>
<ellipse cx="70.7" cy="273.3" rx="2.7" ry="2.1" opacity=".226"/>
<ellipse cx="85.5" cy="273.3" rx="2.7" ry="2.1" opacity=".068"/>
<ellipse cx="101.4" cy="273.3" rx="2.7" ry="2.1" opacity=".075"/>
<ellipse cx="124.3" cy="273.3" rx="2.7" ry="2.1" opacity=".105"/>
<ellipse cx="128.6" cy="273.3" rx="2.7" ry="2.1" opacity=".105"/>
<ellipse cx="52.6" cy="273.3" rx="2.7" ry="2.1" opacity=".045"/>
<ellipse cx="163.4" cy="273.3" rx="2.7" ry="2.1" opacity=".023"/>
<ellipse cx="174.8" cy="273.3" rx="2.7" ry="2.1" opacity=".019"/>
<ellipse cx="186.1" cy="273.3" rx="2.7" ry="2.1" opacity=".019"/>
<ellipse cx="197.4" cy="273.3" rx="2.7" ry="2.1" opacity=".015"/>
<ellipse cx="208.8" cy="273.3" rx="2.7" ry="2.1" opacity=".015"/>
<ellipse cx="53.1" cy="283.5" rx="2.04" ry="3.45" opacity=".059"/>
<ellipse cx="53.9" cy="285" rx="2.04" ry="3.45" opacity=".08"/>
<ellipse cx="54.5" cy="286.4" rx="2.04" ry="3.45" opacity=".068"/>
<ellipse cx="54.9" cy="287.9" rx="2.04" ry="3.45" opacity=".037"/>
<ellipse cx="55.2" cy="289.3" rx="2.04" ry="3.45" opacity=".013"/>
<ellipse cx="57.4" cy="283.5" rx="2.04" ry="3.45" opacity=".032"/>
<ellipse cx="58.2" cy="285" rx="2.04" ry="3.45" opacity=".044"/>
<ellipse cx="58.8" cy="286.4" rx="2.04" ry="3.45" opacity=".037"/>
<ellipse cx="59.3" cy="287.9" rx="2.04" ry="3.45" opacity=".02"/>
<ellipse cx="65.7" cy="283.5" rx="2.04" ry="3.45" opacity=".154"/>
<ellipse cx="66.5" cy="285" rx="2.04" ry="3.45" opacity=".209"/>
<ellipse cx="67.2" cy="286.4" rx="2.04" ry="3.45" opacity=".179"/>
<ellipse cx="67.6" cy="287.9" rx="2.04" ry="3.45" opacity=".096"/>
<ellipse cx="67.8" cy="289.3" rx="2.04" ry="3.45" opacity=".033"/>
<ellipse cx="76.1" cy="283.5" rx="1.98" ry="3.45" opacity=".498"/>
<ellipse cx="76.9" cy="285" rx="1.98" ry="3.45" opacity=".676"/>
<ellipse cx="77.5" cy="286.4" rx="1.98" ry="3.45" opacity=".578"/>
<ellipse cx="77.9" cy="287.9" rx="1.98" ry="3.45" opacity=".311"/>
<ellipse cx="78.2" cy="289.3" rx="1.98" ry="3.45" opacity=".106"/>
<ellipse cx="90.8" cy="283.5" rx="2.04" ry="3.45" opacity=".242"/>
<ellipse cx="91.7" cy="285" rx="2.04" ry="3.45" opacity=".328"/>
<ellipse cx="92.3" cy="286.4" rx="2.04" ry="3.45" opacity=".281"/>
<ellipse cx="92.7" cy="287.9" rx="2.04" ry="3.45" opacity=".151"/>
<ellipse cx="92.9" cy="289.3" rx="2.04" ry="3.45" opacity=".051"/>
<ellipse cx="110" cy="283.5" rx="2.04" ry="3.45" opacity=".081"/>
<ellipse cx="110.9" cy="285" rx="2.04" ry="3.45" opacity=".109"/>
<ellipse cx="111.5" cy="286.4" rx="2.04" ry="3.45" opacity=".094"/>
<ellipse cx="111.9" cy="287.9" rx="2.04" ry="3.45" opacity=".05"/>
<ellipse cx="112.1" cy="289.3" rx="2.04" ry="3.45" opacity=".017"/>
<ellipse cx="116.4" cy="283.5" rx="2.04" ry="3.45" opacity=".117"/>
<ellipse cx="117.2" cy="285" rx="2.04" ry="3.45" opacity=".159"/>
<ellipse cx="117.8" cy="286.4" rx="2.04" ry="3.45" opacity=".136"/>
<ellipse cx="118.2" cy="287.9" rx="2.04" ry="3.45" opacity=".073"/>
<ellipse cx="118.5" cy="289.3" rx="2.04" ry="3.45" opacity=".025"/>
<ellipse cx="126.3" cy="283.5" rx="2.04" ry="3.45" opacity=".249"/>
<ellipse cx="127.2" cy="285" rx="2.04" ry="3.45" opacity=".338"/>
<ellipse cx="127.8" cy="286.4" rx="2.04" ry="3.45" opacity=".289"/>
<ellipse cx="128.2" cy="287.9" rx="2.04" ry="3.45" opacity=".156"/>
<ellipse cx="128.4" cy="289.3" rx="2.04" ry="3.45" opacity=".053"/>
<ellipse cx="140.2" cy="283.5" rx="2.04" ry="3.45" opacity=".029"/>
<ellipse cx="141.1" cy="285" rx="2.04" ry="3.45" opacity=".04"/>
<ellipse cx="141.7" cy="286.4" rx="2.04" ry="3.45" opacity=".034"/>
<ellipse cx="142.1" cy="287.9" rx="2.04" ry="3.45" opacity=".018"/>
<ellipse cx="145.2" cy="283.5" rx="2.04" ry="3.45" opacity=".037"/>
<ellipse cx="146" cy="285" rx="2.04" ry="3.45" opacity=".05"/>
<ellipse cx="146.7" cy="286.4" rx="2.04" ry="3.45" opacity=".043"/>
<ellipse cx="147.1" cy="287.9" rx="2.04" ry="3.45" opacity=".023"/>
<ellipse cx="153.2" cy="283.5" rx="2.04" ry="3.45" opacity=".026"/>
<ellipse cx="154" cy="285" rx="2.04" ry="3.45" opacity=".035"/>
<ellipse cx="154.6" cy="286.4" rx="2.04" ry="3.45" opacity=".03"/>
<ellipse cx="155.1" cy="287.9" rx="2.04" ry="3.45" opacity=".016"/>
<ellipse cx="170.6" cy="285" rx="2.04" ry="3.45" opacity=".015"/>
<ellipse cx="171.3" cy="286.4" rx="2.04" ry="3.45" opacity=".013"/>
<ellipse cx="179.2" cy="285" rx="2.04" ry="3.45" opacity=".015"/>
<ellipse cx="179.8" cy="286.4" rx="2.04" ry="3.45" opacity=".013"/>
<ellipse cx="70.9" cy="283.3" rx="2.7" ry="2.1" opacity=".184"/>
<ellipse cx="85.7" cy="283.3" rx="2.7" ry="2.1" opacity=".055"/>
<ellipse cx="101.6" cy="283.3" rx="2.7" ry="2.1" opacity=".061"/>
<ellipse cx="124.6" cy="283.3" rx="2.7" ry="2.1" opacity=".086"/>
<ellipse cx="128.9" cy="283.3" rx="2.7" ry="2.1" opacity=".086"/>
<ellipse cx="52.7" cy="283.3" rx="2.7" ry="2.1" opacity=".037"/>
<ellipse cx="163.8" cy="283.3" rx="2.7" ry="2.1" opacity=".018"/>
<ellipse cx="175.2" cy="283.3" rx="2.7" ry="2.1" opacity=".015"/>
<ellipse cx="186.6" cy="283.3" rx="2.7" ry="2.1" opacity=".015"/>
<ellipse cx="197.9" cy="283.3" rx="2.7" ry="2.1" opacity=".012"/>
<ellipse cx="209.3" cy="283.3" rx="2.7" ry="2.1" opacity=".012"/>
<ellipse cx="53.3" cy="292.1" rx="2.04" ry="3.77" opacity=".06"/>
<ellipse cx="54.3" cy="293.7" rx="2.04" ry="3.77" opacity=".077"/>
<ellipse cx="55" cy="295.3" rx="2.04" ry="3.77" opacity=".048"/>
<ellipse cx="55.3" cy="296.9" rx="2.04" ry="3.77" opacity=".014"/>
<ellipse cx="57.6" cy="292.1" rx="2.04" ry="3.77" opacity=".033"/>
<ellipse cx="58.6" cy="293.7" rx="2.04" ry="3.77" opacity=".042"/>
<ellipse cx="59.3" cy="295.3" rx="2.04" ry="3.77" opacity=".026"/>
<ellipse cx="65.9" cy="292.1" rx="2.04" ry="3.77" opacity=".163"/>
<ellipse cx="67" cy="293.7" rx="2.04" ry="3.77" opacity=".208"/>
<ellipse cx="67.7" cy="295.3" rx="2.04" ry="3.77" opacity=".129"/>
<ellipse cx="68" cy="296.9" rx="2.04" ry="3.77" opacity=".039"/>
<ellipse cx="76.3" cy="292.1" rx="1.98" ry="3.77" opacity=".527"/>
<ellipse cx="77.4" cy="293.7" rx="1.98" ry="3.77" opacity=".674"/>
<ellipse cx="78" cy="295.3" rx="1.98" ry="3.77" opacity=".418"/>
<ellipse cx="78.4" cy="296.9" rx="1.98" ry="3.77" opacity=".126"/>
<ellipse cx="91.1" cy="292.1" rx="2.04" ry="3.77" opacity=".256"/>
<ellipse cx="92.2" cy="293.7" rx="2.04" ry="3.77" opacity=".327"/>
<ellipse cx="92.9" cy="295.3" rx="2.04" ry="3.77" opacity=".203"/>
<ellipse cx="93.2" cy="296.9" rx="2.04" ry="3.77" opacity=".061"/>
<ellipse cx="110.4" cy="292.1" rx="2.04" ry="3.77" opacity=".085"/>
<ellipse cx="111.4" cy="293.7" rx="2.04" ry="3.77" opacity=".109"/>
<ellipse cx="112.1" cy="295.3" rx="2.04" ry="3.77" opacity=".068"/>
<ellipse cx="112.5" cy="296.9" rx="2.04" ry="3.77" opacity=".02"/>
<ellipse cx="116.7" cy="292.1" rx="2.04" ry="3.77" opacity=".124"/>
<ellipse cx="117.8" cy="293.7" rx="2.04" ry="3.77" opacity=".159"/>
<ellipse cx="118.5" cy="295.3" rx="2.04" ry="3.77" opacity=".098"/>
<ellipse cx="118.8" cy="296.9" rx="2.04" ry="3.77" opacity=".03"/>
<ellipse cx="126.7" cy="292.1" rx="2.04" ry="3.77" opacity=".264"/>
<ellipse cx="127.8" cy="293.7" rx="2.04" ry="3.77" opacity=".337"/>
<ellipse cx="128.5" cy="295.3" rx="2.04" ry="3.77" opacity=".209"/>
<ellipse cx="128.8" cy="296.9" rx="2.04" ry="3.77" opacity=".063"/>
<ellipse cx="140.7" cy="292.1" rx="2.04" ry="3.77" opacity=".031"/>
<ellipse cx="141.7" cy="293.7" rx="2.04" ry="3.77" opacity=".04"/>
<ellipse cx="142.4" cy="295.3" rx="2.04" ry="3.77" opacity=".025"/>
<ellipse cx="145.6" cy="292.1" rx="2.04" ry="3.77" opacity=".039"/>
<ellipse cx="146.7" cy="293.7" rx="2.04" ry="3.77" opacity=".05"/>
<ellipse cx="147.4" cy="295.3" rx="2.04" ry="3.77" opacity=".031"/>
<ellipse cx="153.6" cy="292.1" rx="2.04" ry="3.77" opacity=".027"/>
<ellipse cx="154.7" cy="293.7" rx="2.04" ry="3.77" opacity=".035"/>
<ellipse cx="155.4" cy="295.3" rx="2.04" ry="3.77" opacity=".022"/>
<ellipse cx="171.3" cy="293.7" rx="2.04" ry="3.77" opacity=".015"/>
<ellipse cx="179.9" cy="293.7" rx="2.04" ry="3.77" opacity=".015"/>
<ellipse cx="71" cy="291.9" rx="2.7" ry="2.1" opacity=".162"/>
<ellipse cx="85.8" cy="291.9" rx="2.7" ry="2.1" opacity=".049"/>
<ellipse cx="101.8" cy="291.9" rx="2.7" ry="2.1" opacity=".054"/>
<ellipse cx="124.9" cy="291.9" rx="2.7" ry="2.1" opacity=".076"/>
<ellipse cx="129.1" cy="291.9" rx="2.7" ry="2.1" opacity=".076"/>
<ellipse cx="52.8" cy="291.9" rx="2.7" ry="2.1" opacity=".032"/>
<ellipse cx="164.2" cy="291.9" rx="2.7" ry="2.1" opacity=".016"/>
<ellipse cx="175.6" cy="291.9" rx="2.7" ry="2.1" opacity=".014"/>
<ellipse cx="187" cy="291.9" rx="2.7" ry="2.1" opacity=".014"/>
<ellipse cx="53.3" cy="299.3" rx="2.04" ry="3.16" opacity=".057"/>
<ellipse cx="54.4" cy="300.7" rx="2.04" ry="3.16" opacity=".073"/>
<ellipse cx="55.2" cy="302" rx="2.04" ry="3.16" opacity=".046"/>
<ellipse cx="55.5" cy="303.3" rx="2.04" ry="3.16" opacity=".014"/>
<ellipse cx="57.7" cy="299.3" rx="2.04" ry="3.16" opacity=".031"/>
<ellipse cx="58.8" cy="300.7" rx="2.04" ry="3.16" opacity=".04"/>
<ellipse cx="59.5" cy="302" rx="2.04" ry="3.16" opacity=".025"/>
<ellipse cx="66" cy="299.3" rx="2.04" ry="3.16" opacity=".162"/>
<ellipse cx="67.1" cy="300.7" rx="2.04" ry="3.16" opacity=".208"/>
<ellipse cx="67.9" cy="302" rx="2.04" ry="3.16" opacity=".13"/>
<ellipse cx="68.2" cy="303.3" rx="2.04" ry="3.16" opacity=".039"/>
<ellipse cx="76.4" cy="299.3" rx="1.98" ry="3.16" opacity=".526"/>
<ellipse cx="77.5" cy="300.7" rx="1.98" ry="3.16" opacity=".674"/>
<ellipse cx="78.3" cy="302" rx="1.98" ry="3.16" opacity=".419"/>
<ellipse cx="78.6" cy="303.3" rx="1.98" ry="3.16" opacity=".127"/>
<ellipse cx="91.3" cy="299.3" rx="2.04" ry="3.16" opacity=".255"/>
<ellipse cx="92.4" cy="300.7" rx="2.04" ry="3.16" opacity=".327"/>
<ellipse cx="93.1" cy="302" rx="2.04" ry="3.16" opacity=".204"/>
<ellipse cx="93.5" cy="303.3" rx="2.04" ry="3.16" opacity=".062"/>
<ellipse cx="110.6" cy="299.3" rx="2.04" ry="3.16" opacity=".085"/>
<ellipse cx="111.7" cy="300.7" rx="2.04" ry="3.16" opacity=".109"/>
<ellipse cx="112.4" cy="302" rx="2.04" ry="3.16" opacity=".068"/>
<ellipse cx="112.8" cy="303.3" rx="2.04" ry="3.16" opacity=".021"/>
<ellipse cx="116.9" cy="299.3" rx="2.04" ry="3.16" opacity=".124"/>
<ellipse cx="118" cy="300.7" rx="2.04" ry="3.16" opacity=".159"/>
<ellipse cx="118.8" cy="302" rx="2.04" ry="3.16" opacity=".099"/>
<ellipse cx="119.1" cy="303.3" rx="2.04" ry="3.16" opacity=".03"/>
<ellipse cx="126.9" cy="299.3" rx="2.04" ry="3.16" opacity=".263"/>
<ellipse cx="128.1" cy="300.7" rx="2.04" ry="3.16" opacity=".337"/>
<ellipse cx="128.8" cy="302" rx="2.04" ry="3.16" opacity=".21"/>
<ellipse cx="129.2" cy="303.3" rx="2.04" ry="3.16" opacity=".063"/>
<ellipse cx="140.9" cy="299.3" rx="2.04" ry="3.16" opacity=".031"/>
<ellipse cx="142" cy="300.7" rx="2.04" ry="3.16" opacity=".04"/>
<ellipse cx="142.8" cy="302" rx="2.04" ry="3.16" opacity=".025"/>
<ellipse cx="145.9" cy="299.3" rx="2.04" ry="3.16" opacity=".039"/>
<ellipse cx="147" cy="300.7" rx="2.04" ry="3.16" opacity=".05"/>
<ellipse cx="147.8" cy="302" rx="2.04" ry="3.16" opacity=".031"/>
<ellipse cx="153.9" cy="299.3" rx="2.04" ry="3.16" opacity=".027"/>
<ellipse cx="155" cy="300.7" rx="2.04" ry="3.16" opacity=".035"/>
<ellipse cx="155.7" cy="302" rx="2.04" ry="3.16" opacity=".022"/>
<ellipse cx="171.7" cy="300.7" rx="2.04" ry="3.16" opacity=".015"/>
<ellipse cx="180.3" cy="300.7" rx="2.04" ry="3.16" opacity=".015"/>
<ellipse cx="71.1" cy="299.2" rx="2.7" ry="2.1" opacity=".136"/>
<ellipse cx="86" cy="299.2" rx="2.7" ry="2.1" opacity=".041"/>
<ellipse cx="102" cy="299.2" rx="2.7" ry="2.1" opacity=".045"/>
<ellipse cx="125.1" cy="299.2" rx="2.7" ry="2.1" opacity=".063"/>
<ellipse cx="129.4" cy="299.2" rx="2.7" ry="2.1" opacity=".063"/>
<ellipse cx="52.8" cy="299.2" rx="2.7" ry="2.1" opacity=".027"/>
<ellipse cx="164.5" cy="299.2" rx="2.7" ry="2.1" opacity=".014"/>
<ellipse cx="53.6" cy="305.3" rx="2.04" ry="3.36" opacity=".06"/>
<ellipse cx="54.9" cy="306.7" rx="2.04" ry="3.36" opacity=".06"/>
<ellipse cx="55.6" cy="308.1" rx="2.04" ry="3.36" opacity=".017"/>
<ellipse cx="58" cy="305.3" rx="2.04" ry="3.36" opacity=".033"/>
<ellipse cx="59.3" cy="306.7" rx="2.04" ry="3.36" opacity=".033"/>
<ellipse cx="66.3" cy="305.3" rx="2.04" ry="3.36" opacity=".179"/>
<ellipse cx="67.7" cy="306.7" rx="2.04" ry="3.36" opacity=".179"/>
<ellipse cx="68.3" cy="308.1" rx="2.04" ry="3.36" opacity=".05"/>
<ellipse cx="76.8" cy="305.3" rx="1.98" ry="3.36" opacity=".578"/>
<ellipse cx="78.1" cy="306.7" rx="1.98" ry="3.36" opacity=".58"/>
<ellipse cx="78.8" cy="308.1" rx="1.98" ry="3.36" opacity=".161"/>
<ellipse cx="91.6" cy="305.3" rx="2.04" ry="3.36" opacity=".281"/>
<ellipse cx="93" cy="306.7" rx="2.04" ry="3.36" opacity=".282"/>
<ellipse cx="93.6" cy="308.1" rx="2.04" ry="3.36" opacity=".078"/>
<ellipse cx="110.9" cy="305.3" rx="2.04" ry="3.36" opacity=".094"/>
<ellipse cx="112.3" cy="306.7" rx="2.04" ry="3.36" opacity=".094"/>
<ellipse cx="112.9" cy="308.1" rx="2.04" ry="3.36" opacity=".026"/>
<ellipse cx="117.3" cy="305.3" rx="2.04" ry="3.36" opacity=".136"/>
<ellipse cx="118.7" cy="306.7" rx="2.04" ry="3.36" opacity=".137"/>
<ellipse cx="119.3" cy="308.1" rx="2.04" ry="3.36" opacity=".038"/>
<ellipse cx="127.4" cy="305.3" rx="2.04" ry="3.36" opacity=".289"/>
<ellipse cx="128.7" cy="306.7" rx="2.04" ry="3.36" opacity=".29"/>
<ellipse cx="129.4" cy="308.1" rx="2.04" ry="3.36" opacity=".081"/>
<ellipse cx="141.4" cy="305.3" rx="2.04" ry="3.36" opacity=".034"/>
<ellipse cx="142.7" cy="306.7" rx="2.04" ry="3.36" opacity=".034"/>
<ellipse cx="146.4" cy="305.3" rx="2.04" ry="3.36" opacity=".043"/>
<ellipse cx="147.7" cy="306.7" rx="2.04" ry="3.36" opacity=".043"/>
<ellipse cx="154.4" cy="305.3" rx="2.04" ry="3.36" opacity=".03"/>
<ellipse cx="155.7" cy="306.7" rx="2.04" ry="3.36" opacity=".03"/>
<ellipse cx="171.1" cy="305.3" rx="2.04" ry="3.36" opacity=".013"/>
<ellipse cx="172.4" cy="306.7" rx="2.04" ry="3.36" opacity=".013"/>
<ellipse cx="179.7" cy="305.3" rx="2.04" ry="3.36" opacity=".013"/>
<ellipse cx="181" cy="306.7" rx="2.04" ry="3.36" opacity=".013"/>
<ellipse cx="71.2" cy="305.1" rx="2.7" ry="2.1" opacity=".108"/>
<ellipse cx="86.1" cy="305.1" rx="2.7" ry="2.1" opacity=".032"/>
<ellipse cx="102.1" cy="305.1" rx="2.7" ry="2.1" opacity=".036"/>
<ellipse cx="125.3" cy="305.1" rx="2.7" ry="2.1" opacity=".05"/>
<ellipse cx="129.6" cy="305.1" rx="2.7" ry="2.1" opacity=".05"/>
<ellipse cx="52.9" cy="305.1" rx="2.7" ry="2.1" opacity=".022"/>
<ellipse cx="53.7" cy="309.8" rx="2.04" ry="2.91" opacity=".065"/>
<ellipse cx="55" cy="311" rx="2.04" ry="2.91" opacity=".054"/>
<ellipse cx="55.7" cy="312.2" rx="2.04" ry="2.91" opacity=".012"/>
<ellipse cx="58" cy="309.8" rx="2.04" ry="2.91" opacity=".035"/>
<ellipse cx="59.4" cy="311" rx="2.04" ry="2.91" opacity=".029"/>
<ellipse cx="66.4" cy="309.8" rx="2.04" ry="2.91" opacity=".193"/>
<ellipse cx="67.8" cy="311" rx="2.04" ry="2.91" opacity=".161"/>
<ellipse cx="68.4" cy="312.2" rx="2.04" ry="2.91" opacity=".037"/>
<ellipse cx="76.8" cy="309.8" rx="1.98" ry="2.91" opacity=".627"/>
<ellipse cx="78.2" cy="311" rx="1.98" ry="2.91" opacity=".521"/>
<ellipse cx="78.8" cy="312.2" rx="1.98" ry="2.91" opacity=".12"/>
<ellipse cx="91.7" cy="309.8" rx="2.04" ry="2.91" opacity=".304"/>
<ellipse cx="93.1" cy="311" rx="2.04" ry="2.91" opacity=".253"/>
<ellipse cx="93.7" cy="312.2" rx="2.04" ry="2.91" opacity=".058"/>
<ellipse cx="111.1" cy="309.8" rx="2.04" ry="2.91" opacity=".101"/>
<ellipse cx="112.4" cy="311" rx="2.04" ry="2.91" opacity=".084"/>
<ellipse cx="113.1" cy="312.2" rx="2.04" ry="2.91" opacity=".019"/>
<ellipse cx="117.5" cy="309.8" rx="2.04" ry="2.91" opacity=".147"/>
<ellipse cx="118.8" cy="311" rx="2.04" ry="2.91" opacity=".123"/>
<ellipse cx="119.5" cy="312.2" rx="2.04" ry="2.91" opacity=".028"/>
<ellipse cx="127.5" cy="309.8" rx="2.04" ry="2.91" opacity=".313"/>
<ellipse cx="128.9" cy="311" rx="2.04" ry="2.91" opacity=".261"/>
<ellipse cx="129.5" cy="312.2" rx="2.04" ry="2.91" opacity=".06"/>
<ellipse cx="141.5" cy="309.8" rx="2.04" ry="2.91" opacity=".037"/>
<ellipse cx="142.9" cy="311" rx="2.04" ry="2.91" opacity=".031"/>
<ellipse cx="146.6" cy="309.8" rx="2.04" ry="2.91" opacity=".046"/>
<ellipse cx="147.9" cy="311" rx="2.04" ry="2.91" opacity=".038"/>
<ellipse cx="154.6" cy="309.8" rx="2.04" ry="2.91" opacity=".032"/>
<ellipse cx="155.9" cy="311" rx="2.04" ry="2.91" opacity=".027"/>
<ellipse cx="171.3" cy="309.8" rx="2.04" ry="2.91" opacity=".014"/>
<ellipse cx="179.9" cy="309.8" rx="2.04" ry="2.91" opacity=".014"/>
<ellipse cx="71.3" cy="309.7" rx="2.7" ry="2.1" opacity=".08"/>
<ellipse cx="86.2" cy="309.7" rx="2.7" ry="2.1" opacity=".024"/>
<ellipse cx="102.2" cy="309.7" rx="2.7" ry="2.1" opacity=".027"/>
<ellipse cx="125.4" cy="309.7" rx="2.7" ry="2.1" opacity=".037"/>
<ellipse cx="129.7" cy="309.7" rx="2.7" ry="2.1" opacity=".037"/>
<ellipse cx="53" cy="309.7" rx="2.7" ry="2.1" opacity=".016"/>
<ellipse cx="54.6" cy="200" rx="2.4" ry="4.8" opacity=".05"/>
<ellipse cx="54.7" cy="202.5" rx="2.4" ry="4.8" opacity=".051"/>
<ellipse cx="54.7" cy="205" rx="2.4" ry="4.8" opacity=".052"/>
<ellipse cx="54.7" cy="207.5" rx="2.4" ry="4.8" opacity=".053"/>
<ellipse cx="54.7" cy="210" rx="2.4" ry="4.8" opacity=".054"/>
<ellipse cx="54.8" cy="212.5" rx="2.4" ry="4.8" opacity=".056"/>
<ellipse cx="54.8" cy="215" rx="2.4" ry="4.8" opacity=".057"/>
<ellipse cx="54.8" cy="217.5" rx="2.4" ry="4.8" opacity=".058"/>
<ellipse cx="54.9" cy="220" rx="2.4" ry="4.8" opacity=".059"/>
<ellipse cx="54.9" cy="222.5" rx="2.4" ry="4.8" opacity=".06"/>
<ellipse cx="54.9" cy="225" rx="2.4" ry="4.8" opacity=".061"/>
<ellipse cx="55" cy="227.5" rx="2.4" ry="4.8" opacity=".062"/>
<ellipse cx="55" cy="230" rx="2.4" ry="4.8" opacity=".063"/>
<ellipse cx="55" cy="232.5" rx="2.4" ry="4.8" opacity=".065"/>
<ellipse cx="55" cy="235" rx="2.4" ry="4.8" opacity=".066"/>
<ellipse cx="55.1" cy="237.5" rx="2.4" ry="4.8" opacity=".067"/>
<ellipse cx="55.1" cy="240" rx="2.4" ry="4.8" opacity=".068"/>
<ellipse cx="55.1" cy="242.5" rx="2.4" ry="4.8" opacity=".069"/>
<ellipse cx="55.2" cy="245" rx="2.4" ry="4.8" opacity=".07"/>
<ellipse cx="55.2" cy="247.5" rx="2.4" ry="4.8" opacity=".071"/>
<ellipse cx="55.2" cy="250" rx="2.4" ry="4.8" opacity=".072"/>
<ellipse cx="55.3" cy="252.5" rx="2.4" ry="4.8" opacity=".073"/>
<ellipse cx="55.3" cy="255" rx="2.4" ry="4.8" opacity=".075"/>
<ellipse cx="55.3" cy="257.5" rx="2.4" ry="4.8" opacity=".076"/>
<ellipse cx="55.4" cy="260" rx="2.4" ry="4.8" opacity=".077"/>
<ellipse cx="55.4" cy="262.5" rx="2.4" ry="4.8" opacity=".078"/>
<ellipse cx="55.5" cy="265" rx="2.4" ry="4.8" opacity=".079"/>
<ellipse cx="55.5" cy="267.5" rx="2.4" ry="4.8" opacity=".08"/>
<ellipse cx="55.5" cy="270" rx="2.4" ry="4.8" opacity=".081"/>
<ellipse cx="55.6" cy="272.5" rx="2.4" ry="4.8" opacity=".082"/>
<ellipse cx="55.6" cy="275" rx="2.4" ry="4.8" opacity=".083"/>
<ellipse cx="55.6" cy="277.5" rx="2.4" ry="4.8" opacity=".085"/>
<ellipse cx="55.7" cy="280" rx="2.4" ry="4.8" opacity=".086"/>
<ellipse cx="55.7" cy="282.5" rx="2.4" ry="4.8" opacity=".087"/>
<ellipse cx="55.8" cy="285" rx="2.4" ry="4.8" opacity=".088"/>
<ellipse cx="55.8" cy="287.5" rx="2.4" ry="4.8" opacity=".089"/>
<ellipse cx="55.8" cy="290" rx="2.4" ry="4.8" opacity=".09"/>
<ellipse cx="55.9" cy="292.5" rx="2.4" ry="4.8" opacity=".091"/>
<ellipse cx="55.9" cy="295" rx="2.4" ry="4.8" opacity=".092"/>
<ellipse cx="56" cy="297.5" rx="2.4" ry="4.8" opacity=".094"/>
<ellipse cx="56" cy="300" rx="2.4" ry="4.8" opacity=".095"/>
<ellipse cx="56" cy="302.5" rx="2.4" ry="4.8" opacity=".096"/>
<ellipse cx="56.1" cy="305" rx="2.4" ry="4.8" opacity=".097"/>
<ellipse cx="56.1" cy="307.5" rx="2.4" ry="4.8" opacity=".098"/>
<ellipse cx="56.2" cy="310" rx="2.4" ry="4.8" opacity=".099"/>
<ellipse cx="56.2" cy="312.5" rx="2.4" ry="4.8" opacity=".1"/>
</g>
<line x1="74.50" y1="12.0" x2="74.50" y2="312.6" stroke="#fff" stroke-opacity="0.55" stroke-width="1"/>
<line x1="102.00" y1="12.0" x2="102.00" y2="312.6" stroke="#fff" stroke-opacity="0.55" stroke-width="1"/>
<line x1="129.50" y1="12.0" x2="129.50" y2="312.6" stroke="#fff" stroke-opacity="0.55" stroke-width="1"/>
<line x1="157.00" y1="12.0" x2="157.00" y2="312.6" stroke="#fff" stroke-opacity="0.55" stroke-width="1"/>
<line x1="184.50" y1="12.0" x2="184.50" y2="312.6" stroke="#fff" stroke-opacity="0.55" stroke-width="1"/>
<line x1="212.00" y1="12.0" x2="212.00" y2="312.6" stroke="#fff" stroke-opacity="0.55" stroke-width="1"/>
<line x1="47.0" y1="79.57" x2="225.0" y2="79.57" stroke="#fff" stroke-opacity="0.55" stroke-width="1"/>
<line x1="47.0" y1="148.52" x2="225.0" y2="148.52" stroke="#fff" stroke-opacity="0.55" stroke-width="1"/>
<line x1="47.0" y1="217.47" x2="225.0" y2="217.47" stroke="#fff" stroke-opacity="0.55" stroke-width="1"/>
<line x1="47.0" y1="286.42" x2="225.0" y2="286.42" stroke="#fff" stroke-opacity="0.55" stroke-width="1"/>
<line x1="47.00" y1="313.6" x2="47.00" y2="315.6" stroke="#999" stroke-width="0.8"/>
<line x1="47.00" y1="9.0" x2="47.00" y2="11.0" stroke="#aaa" stroke-width="0.8"/>
<text x="42.80" y="324.3" font-size="8.4" font-weight="bold" fill="#222" textLength="8.4" lengthAdjust="spacingAndGlyphs">15</text>
<line x1="74.50" y1="313.6" x2="74.50" y2="315.6" stroke="#999" stroke-width="0.8"/>
<line x1="74.50" y1="9.0" x2="74.50" y2="11.0" stroke="#aaa" stroke-width="0.8"/>
<text x="70.30" y="324.3" font-size="8.4" font-weight="bold" fill="#222" textLength="8.4" lengthAdjust="spacingAndGlyphs">25</text>
<line x1="102.00" y1="313.6" x2="102.00" y2="315.6" stroke="#999" stroke-width="0.8"/>
<line x1="102.00" y1="9.0" x2="102.00" y2="11.0" stroke="#aaa" stroke-width="0.8"/>
<text x="97.80" y="324.3" font-size="8.4" font-weight="bold" fill="#222" textLength="8.4" lengthAdjust="spacingAndGlyphs">35</text>
<line x1="129.50" y1="313.6" x2="129.50" y2="315.6" stroke="#999" stroke-width="0.8"/>
<line x1="129.50" y1="9.0" x2="129.50" y2="11.0" stroke="#aaa" stroke-width="0.8"/>
<text x="125.30" y="324.3" font-size="8.4" font-weight="bold" fill="#222" textLength="8.4" lengthAdjust="spacingAndGlyphs">45</text>
<line x1="157.00" y1="313.6" x2="157.00" y2="315.6" stroke="#999" stroke-width="0.8"/>
<line x1="157.00" y1="9.0" x2="157.00" y2="11.0" stroke="#aaa" stroke-width="0.8"/>
<text x="152.80" y="324.3" font-size="8.4" font-weight="bold" fill="#222" textLength="8.4" lengthAdjust="spacingAndGlyphs">55</text>
<line x1="184.50" y1="313.6" x2="184.50" y2="315.6" stroke="#999" stroke-width="0.8"/>
<line x1="184.50" y1="9.0" x2="184.50" y2="11.0" stroke="#aaa" stroke-width="0.8"/>
<text x="180.30" y="324.3" font-size="8.4" font-weight="bold" fill="#222" textLength="8.4" lengthAdjust="spacingAndGlyphs">65</text>
<line x1="212.00" y1="313.6" x2="212.00" y2="315.6" stroke="#999" stroke-width="0.8"/>
<line x1="212.00" y1="9.0" x2="212.00" y2="11.0" stroke="#aaa" stroke-width="0.8"/>
<text x="207.80" y="324.3" font-size="8.4" font-weight="bold" fill="#222" textLength="8.4" lengthAdjust="spacingAndGlyphs">75</text>
<line x1="44.0" y1="12.00" x2="46.0" y2="12.00" stroke="#999" stroke-width="0.8"/>
<line x1="226.0" y1="12.00" x2="228.0" y2="12.00" stroke="#999" stroke-width="0.8"/>
<text x="38.60" y="14.70" font-size="8.3" font-weight="bold" fill="#222" textLength="2.6" lengthAdjust="spacingAndGlyphs">1</text>
<line x1="44.0" y1="79.57" x2="46.0" y2="79.57" stroke="#999" stroke-width="0.8"/>
<line x1="226.0" y1="79.57" x2="228.0" y2="79.57" stroke="#999" stroke-width="0.8"/>
<text x="32.80" y="82.27" font-size="8.3" font-weight="bold" fill="#222" textLength="8.4" lengthAdjust="spacingAndGlyphs">50</text>
<line x1="44.0" y1="148.52" x2="46.0" y2="148.52" stroke="#999" stroke-width="0.8"/>
<line x1="226.0" y1="148.52" x2="228.0" y2="148.52" stroke="#999" stroke-width="0.8"/>
<text x="28.40" y="151.22" font-size="8.3" font-weight="bold" fill="#222" textLength="12.8" lengthAdjust="spacingAndGlyphs">100</text>
<line x1="44.0" y1="217.47" x2="46.0" y2="217.47" stroke="#999" stroke-width="0.8"/>
<line x1="226.0" y1="217.47" x2="228.0" y2="217.47" stroke="#999" stroke-width="0.8"/>
<text x="28.40" y="220.17" font-size="8.3" font-weight="bold" fill="#222" textLength="12.8" lengthAdjust="spacingAndGlyphs">150</text>
<line x1="44.0" y1="286.42" x2="46.0" y2="286.42" stroke="#999" stroke-width="0.8"/>
<line x1="226.0" y1="286.42" x2="228.0" y2="286.42" stroke="#999" stroke-width="0.8"/>
<text x="28.40" y="289.12" font-size="8.3" font-weight="bold" fill="#222" textLength="12.8" lengthAdjust="spacingAndGlyphs">200</text>
<text x="-38" y="0" transform="translate(23.3,161.9) rotate(-90)" font-size="12" fill="#111" textLength="76" lengthAdjust="spacingAndGlyphs">Pattern number</text>
<text x="136.5" y="336.6" font-size="11" fill="#111" text-anchor="middle"><tspan font-style="italic" font-family="Liberation Serif">q</tspan>-value (nm<tspan font-size="7" dy="-4.5">−1</tspan><tspan dy="4.5">)</tspan></text>
<text x="14.8" y="12.5" font-size="15" font-weight="bold" fill="#111" textLength="11.9" lengthAdjust="spacingAndGlyphs">a)</text>
<defs><linearGradient id="cbg" x1="0" y1="1" x2="0" y2="0">
<stop offset="0.0000" stop-color="#3a4cc0"/>
<stop offset="0.0312" stop-color="#445acc"/>
<stop offset="0.0625" stop-color="#4d67d7"/>
<stop offset="0.0938" stop-color="#5774e0"/>
<stop offset="0.1250" stop-color="#6182ea"/>
<stop offset="0.1562" stop-color="#6c8ef0"/>
<stop offset="0.1875" stop-color="#779af6"/>
<stop offset="0.2188" stop-color="#82a4fa"/>
<stop offset="0.2500" stop-color="#8daffd"/>
<stop offset="0.2812" stop-color="#98b8fe"/>
<stop offset="0.3125" stop-color="#a3c1fe"/>
<stop offset="0.3438" stop-color="#aec8fb"/>
<stop offset="0.3750" stop-color="#b8cff8"/>
<stop offset="0.4062" stop-color="#c2d4f2"/>
<stop offset="0.4375" stop-color="#ccd8ed"/>
<stop offset="0.4688" stop-color="#d4dae4"/>
<stop offset="0.5000" stop-color="#dddcdb"/>
<stop offset="0.5312" stop-color="#e4d7d0"/>
<stop offset="0.5625" stop-color="#ecd2c4"/>
<stop offset="0.5938" stop-color="#f0cab8"/>
<stop offset="0.6250" stop-color="#f4c3ab"/>
<stop offset="0.6562" stop-color="#f6ba9e"/>
<stop offset="0.6875" stop-color="#f7b092"/>
<stop offset="0.7188" stop-color="#f5a486"/>
<stop offset="0.7500" stop-color="#f39879"/>
<stop offset="0.7812" stop-color="#ee8a6d"/>
<stop offset="0.8125" stop-color="#ea7d61"/>
<stop offset="0.8438" stop-color="#e36e56"/>
<stop offset="0.8750" stop-color="#dc5e4b"/>
<stop offset="0.9062" stop-color="#d24c41"/>
<stop offset="0.9375" stop-color="#c93b37"/>
<stop offset="0.9688" stop-color="#be1f2e"/>
<stop offset="1.0000" stop-color="#b30326"/>
</linearGradient></defs>
<rect x="239.5" y="12.0" width="14.5" height="300.6" fill="url(#cbg)"/>
<line x1="255.5" y1="312.60" x2="258.0" y2="312.60" stroke="#999" stroke-width="0.8"/>
<text x="260.0" y="315.60" font-size="8.6" fill="#1a1a1a" stroke="#1a1a1a" stroke-width="0.25" textLength="4.2" lengthAdjust="spacingAndGlyphs">0</text>
<line x1="255.5" y1="273.66" x2="258.0" y2="273.66" stroke="#999" stroke-width="0.8"/>
<text x="260.0" y="276.66" font-size="8.6" fill="#1a1a1a" stroke="#1a1a1a" stroke-width="0.25" textLength="12.8" lengthAdjust="spacingAndGlyphs">150</text>
<line x1="255.5" y1="234.72" x2="258.0" y2="234.72" stroke="#999" stroke-width="0.8"/>
<text x="260.0" y="237.72" font-size="8.6" fill="#1a1a1a" stroke="#1a1a1a" stroke-width="0.25" textLength="12.8" lengthAdjust="spacingAndGlyphs">300</text>
<line x1="255.5" y1="195.79" x2="258.0" y2="195.79" stroke="#999" stroke-width="0.8"/>
<text x="260.0" y="198.79" font-size="8.6" fill="#1a1a1a" stroke="#1a1a1a" stroke-width="0.25" textLength="12.8" lengthAdjust="spacingAndGlyphs">450</text>
<line x1="255.5" y1="156.85" x2="258.0" y2="156.85" stroke="#999" stroke-width="0.8"/>
<text x="260.0" y="159.85" font-size="8.6" fill="#1a1a1a" stroke="#1a1a1a" stroke-width="0.25" textLength="12.8" lengthAdjust="spacingAndGlyphs">600</text>
<line x1="255.5" y1="117.91" x2="258.0" y2="117.91" stroke="#999" stroke-width="0.8"/>
<text x="260.0" y="120.91" font-size="8.6" fill="#1a1a1a" stroke="#1a1a1a" stroke-width="0.25" textLength="12.8" lengthAdjust="spacingAndGlyphs">750</text>
<line x1="255.5" y1="78.97" x2="258.0" y2="78.97" stroke="#999" stroke-width="0.8"/>
<text x="260.0" y="81.97" font-size="8.6" fill="#1a1a1a" stroke="#1a1a1a" stroke-width="0.25" textLength="12.8" lengthAdjust="spacingAndGlyphs">900</text>
<line x1="255.5" y1="40.04" x2="258.0" y2="40.04" stroke="#999" stroke-width="0.8"/>
<text x="260.0" y="43.04" font-size="8.6" fill="#1a1a1a" stroke="#1a1a1a" stroke-width="0.25" textLength="17" lengthAdjust="spacingAndGlyphs">1050</text>
<rect x="327.6" y="10.9" width="288.6" height="134.4" fill="none" stroke="#444" stroke-width="1.25"/>
<text x="324.6" y="147.20" font-size="7.4" fill="#000" stroke="#000" stroke-width="0.18" text-anchor="end">0.70</text>
<text x="324.6" y="130.47" font-size="7.4" fill="#000" stroke="#000" stroke-width="0.18" text-anchor="end">0.75</text>
<text x="324.6" y="113.75" font-size="7.4" fill="#000" stroke="#000" stroke-width="0.18" text-anchor="end">0.80</text>
<text x="324.6" y="97.02" font-size="7.4" fill="#000" stroke="#000" stroke-width="0.18" text-anchor="end">0.85</text>
<text x="324.6" y="80.30" font-size="7.4" fill="#000" stroke="#000" stroke-width="0.18" text-anchor="end">0.90</text>
<text x="324.6" y="63.58" font-size="7.4" fill="#000" stroke="#000" stroke-width="0.18" text-anchor="end">0.95</text>
<text x="324.6" y="46.85" font-size="7.4" fill="#000" stroke="#000" stroke-width="0.18" text-anchor="end">1.00</text>
<text x="324.6" y="30.12" font-size="7.4" fill="#000" stroke="#000" stroke-width="0.18" text-anchor="end">1.05</text>
<text x="324.6" y="13.40" font-size="7.4" fill="#000" stroke="#000" stroke-width="0.18" text-anchor="end">1.10</text>
<text x="618.4000000000001" y="147.20" font-size="7.4" fill="#000" stroke="#000" stroke-width="0.18">0.0</text>
<text x="618.4000000000001" y="128.09" font-size="7.4" fill="#000" stroke="#000" stroke-width="0.18">0.1</text>
<text x="618.4000000000001" y="108.97" font-size="7.4" fill="#000" stroke="#000" stroke-width="0.18">0.2</text>
<text x="618.4000000000001" y="89.86" font-size="7.4" fill="#000" stroke="#000" stroke-width="0.18">0.3</text>
<text x="618.4000000000001" y="70.74" font-size="7.4" fill="#000" stroke="#000" stroke-width="0.18">0.4</text>
<text x="618.4000000000001" y="51.63" font-size="7.4" fill="#000" stroke="#000" stroke-width="0.18">0.5</text>
<text x="618.4000000000001" y="32.51" font-size="7.4" fill="#000" stroke="#000" stroke-width="0.18">0.6</text>
<text x="618.4000000000001" y="13.40" font-size="7.4" fill="#000" stroke="#000" stroke-width="0.18">0.7</text>
<text x="338.75" y="153.3" font-size="7.4" fill="#000" stroke="#000" stroke-width="0.18" text-anchor="middle">1</text>
<text x="360.94" y="153.3" font-size="7.4" fill="#000" stroke="#000" stroke-width="0.18" text-anchor="middle">2</text>
<text x="383.13" y="153.3" font-size="7.4" fill="#000" stroke="#000" stroke-width="0.18" text-anchor="middle">3</text>
<text x="405.32" y="153.3" font-size="7.4" fill="#000" stroke="#000" stroke-width="0.18" text-anchor="middle">4</text>
<text x="427.51" y="153.3" font-size="7.4" fill="#000" stroke="#000" stroke-width="0.18" text-anchor="middle">5</text>
<text x="449.70" y="153.3" font-size="7.4" fill="#000" stroke="#000" stroke-width="0.18" text-anchor="middle">6</text>
<text x="471.89" y="153.3" font-size="7.4" fill="#000" stroke="#000" stroke-width="0.18" text-anchor="middle">7</text>
<text x="494.08" y="153.3" font-size="7.4" fill="#000" stroke="#000" stroke-width="0.18" text-anchor="middle">8</text>
<text x="516.27" y="153.3" font-size="7.4" fill="#000" stroke="#000" stroke-width="0.18" text-anchor="middle">9</text>
<text x="538.46" y="153.3" font-size="7.4" fill="#000" stroke="#000" stroke-width="0.18" text-anchor="middle">10</text>
<text x="560.65" y="153.3" font-size="7.4" fill="#000" stroke="#000" stroke-width="0.18" text-anchor="middle">11</text>
<text x="582.84" y="153.3" font-size="7.4" fill="#000" stroke="#000" stroke-width="0.18" text-anchor="middle">12</text>
<text x="605.03" y="153.3" font-size="7.4" fill="#000" stroke="#000" stroke-width="0.18" text-anchor="middle">13</text>
<text x="471.6" y="163.9" font-size="8.33" fill="#000" stroke="#000" stroke-width="0.15" text-anchor="middle">number of basis patterns</text>
<text transform="translate(307.3,78.2) rotate(-90)" font-size="8.33" fill="#000" stroke="#000" stroke-width="0.15" text-anchor="middle">Average silhouette value</text>
<text transform="translate(639.2,78.2) rotate(-90)" font-size="8.33" fill="#000" stroke="#000" stroke-width="0.15" text-anchor="middle">Reconstruction</text>
<text x="294.6" y="13" font-size="15" font-weight="bold" fill="#111" textLength="11.9" lengthAdjust="spacingAndGlyphs">b)</text>
<rect x="555.9" y="32.0" width="10.2" height="107.6" fill="none" stroke="#a4a4a4" stroke-width="1.8"/>
<polyline points="338.75,44.25 360.94,44.25 383.13,87.40 405.32,44.25 427.51,112.15 449.70,81.38 471.89,84.39 494.08,66.33 516.27,127.87 538.46,58.97 560.65,44.25 582.84,89.07 605.03,96.43" fill="none" stroke="#f5a31a" stroke-width="1.6"/>
<polyline points="338.75,21.12 360.94,52.47 383.13,58.01 405.32,80.95 427.51,80.95 449.70,101.40 471.89,100.45 494.08,117.84 516.27,106.37 538.46,126.25 560.65,127.21 582.84,121.66 605.03,123.77" fill="none" stroke="#2a8a4c" stroke-width="1.6"/>
<circle cx="338.75" cy="44.25" r="2.3" fill="#f5a31a" stroke="#a86a08" stroke-width="0.75"/>
<circle cx="360.94" cy="44.25" r="2.3" fill="#f5a31a" stroke="#a86a08" stroke-width="0.75"/>
<circle cx="383.13" cy="87.40" r="2.3" fill="#f5a31a" stroke="#a86a08" stroke-width="0.75"/>
<circle cx="405.32" cy="44.25" r="2.3" fill="#f5a31a" stroke="#a86a08" stroke-width="0.75"/>
<circle cx="427.51" cy="112.15" r="2.3" fill="#f5a31a" stroke="#a86a08" stroke-width="0.75"/>
<circle cx="449.70" cy="81.38" r="2.3" fill="#f5a31a" stroke="#a86a08" stroke-width="0.75"/>
<circle cx="471.89" cy="84.39" r="2.3" fill="#f5a31a" stroke="#a86a08" stroke-width="0.75"/>
<circle cx="494.08" cy="66.33" r="2.3" fill="#f5a31a" stroke="#a86a08" stroke-width="0.75"/>
<circle cx="516.27" cy="127.87" r="2.3" fill="#f5a31a" stroke="#a86a08" stroke-width="0.75"/>
<circle cx="538.46" cy="58.97" r="2.3" fill="#f5a31a" stroke="#a86a08" stroke-width="0.75"/>
<circle cx="560.65" cy="44.25" r="2.3" fill="#f5a31a" stroke="#a86a08" stroke-width="0.75"/>
<circle cx="582.84" cy="89.07" r="2.3" fill="#f5a31a" stroke="#a86a08" stroke-width="0.75"/>
<circle cx="605.03" cy="96.43" r="2.3" fill="#f5a31a" stroke="#a86a08" stroke-width="0.75"/>
<rect x="336.55" y="18.92" width="4.4" height="4.4" fill="#2a8a4c" stroke="#184a2c" stroke-width="0.75"/>
<rect x="358.74" y="50.27" width="4.4" height="4.4" fill="#2a8a4c" stroke="#184a2c" stroke-width="0.75"/>
<rect x="380.93" y="55.81" width="4.4" height="4.4" fill="#2a8a4c" stroke="#184a2c" stroke-width="0.75"/>
<rect x="403.12" y="78.75" width="4.4" height="4.4" fill="#2a8a4c" stroke="#184a2c" stroke-width="0.75"/>
<rect x="425.31" y="78.75" width="4.4" height="4.4" fill="#2a8a4c" stroke="#184a2c" stroke-width="0.75"/>
<rect x="447.50" y="99.20" width="4.4" height="4.4" fill="#2a8a4c" stroke="#184a2c" stroke-width="0.75"/>
<rect x="469.69" y="98.25" width="4.4" height="4.4" fill="#2a8a4c" stroke="#184a2c" stroke-width="0.75"/>
<rect x="491.88" y="115.64" width="4.4" height="4.4" fill="#2a8a4c" stroke="#184a2c" stroke-width="0.75"/>
<rect x="514.07" y="104.17" width="4.4" height="4.4" fill="#2a8a4c" stroke="#184a2c" stroke-width="0.75"/>
<rect x="536.26" y="124.05" width="4.4" height="4.4" fill="#2a8a4c" stroke="#184a2c" stroke-width="0.75"/>
<rect x="558.45" y="125.01" width="4.4" height="4.4" fill="#2a8a4c" stroke="#184a2c" stroke-width="0.75"/>
<rect x="580.64" y="119.46" width="4.4" height="4.4" fill="#2a8a4c" stroke="#184a2c" stroke-width="0.75"/>
<rect x="602.83" y="121.57" width="4.4" height="4.4" fill="#2a8a4c" stroke="#184a2c" stroke-width="0.75"/>
<line x1="330.3" y1="124" x2="348.1" y2="124" stroke="#f5a31a" stroke-width="1.6"/>
<circle cx="339.3" cy="124" r="2.3" fill="#f5a31a" stroke="#a86a08" stroke-width="0.75"/>
<text x="354.2" y="127.4" font-size="8.35" fill="#000" stroke="#000" stroke-width="0.15">silhouette</text>
<line x1="330.3" y1="137.5" x2="348.1" y2="137.5" stroke="#2a8a4c" stroke-width="1.6"/>
<rect x="337.3" y="135.3" width="4.4" height="4.4" fill="#2a8a4c" stroke="#184a2c" stroke-width="0.75"/>
<text x="354.2" y="140.8" font-size="8.35" fill="#000" stroke="#000" stroke-width="0.15">reconstruction</text>
<text x="325.4" y="311.40" font-size="8.1" fill="#111" text-anchor="end" stroke="#111" stroke-width="0.3">0.0</text>
<text x="325.4" y="253.40" font-size="8.1" fill="#111" text-anchor="end" stroke="#111" stroke-width="0.3">0.5</text>
<text x="325.4" y="195.40" font-size="8.1" fill="#111" text-anchor="end" stroke="#111" stroke-width="0.3">1.0</text>
<text x="328.10" y="317.8" font-size="8.3" fill="#000" stroke="#000" stroke-width="0.18" text-anchor="middle">15</text>
<text x="361.51" y="317.8" font-size="8.3" fill="#000" stroke="#000" stroke-width="0.18" text-anchor="middle">20</text>
<text x="394.92" y="317.8" font-size="8.3" fill="#000" stroke="#000" stroke-width="0.18" text-anchor="middle">25</text>
<text x="428.33" y="317.8" font-size="8.3" fill="#000" stroke="#000" stroke-width="0.18" text-anchor="middle">30</text>
<text x="461.74" y="317.8" font-size="8.3" fill="#000" stroke="#000" stroke-width="0.18" text-anchor="middle">35</text>
<text x="495.16" y="317.8" font-size="8.3" fill="#000" stroke="#000" stroke-width="0.18" text-anchor="middle">40</text>
<text x="528.57" y="317.8" font-size="8.3" fill="#000" stroke="#000" stroke-width="0.18" text-anchor="middle">45</text>
<text x="561.98" y="317.8" font-size="8.3" fill="#000" stroke="#000" stroke-width="0.18" text-anchor="middle">50</text>
<text x="595.39" y="317.8" font-size="8.3" fill="#000" stroke="#000" stroke-width="0.18" text-anchor="middle">55</text>
<text x="628.80" y="317.8" font-size="8.3" fill="#000" stroke="#000" stroke-width="0.18" text-anchor="middle">60</text>
<text x="478.1" y="331.1" font-size="9.9" fill="#111" text-anchor="middle"><tspan font-style="italic" font-family="Liberation Serif">q</tspan>-value (nm<tspan font-size="6.5" dy="-4.2">−1</tspan><tspan dy="4.2">)</tspan></text>
<text transform="translate(310,245) rotate(-90)" font-size="11" fill="#111" text-anchor="middle">Intensity</text>
<text x="294.6" y="189.8" font-size="15" font-weight="bold" fill="#111" textLength="11.9" lengthAdjust="spacingAndGlyphs">c)</text>
<polyline points="328.10,308.50 328.57,308.50 329.04,308.50 329.50,308.50 329.97,308.50 330.44,308.50 330.91,308.50 331.37,308.50 331.84,308.50 332.31,308.50 332.78,308.50 333.25,308.50 333.71,308.49 334.18,308.48 334.65,308.44 335.12,308.37 335.58,308.22 336.05,307.94 336.52,307.44 336.99,306.63 337.46,305.41 337.92,303.69 338.39,301.46 338.86,298.84 339.33,296.04 339.79,293.40 340.26,291.32 340.73,290.13 341.20,290.05 341.66,291.09 342.13,293.06 342.60,295.65 343.07,298.44 343.54,301.11 344.00,303.39 344.47,305.17 344.94,306.43 345.41,307.23 345.87,307.63 346.34,307.69 346.81,307.44 347.28,306.86 347.75,305.91 348.21,304.57 348.68,302.88 349.15,300.92 349.62,298.90 350.08,297.07 350.55,295.72 351.02,295.08 351.49,295.26 351.96,296.22 352.42,297.81 352.89,299.76 353.36,301.78 353.83,303.65 354.29,305.21 354.76,306.40 355.23,307.25 355.70,307.79 356.17,308.13 356.63,308.32 357.10,308.41 357.57,308.46 358.04,308.48 358.50,308.49 358.97,308.50 359.44,308.50 359.91,308.50 360.38,308.50 360.84,308.50 361.31,308.50 361.78,308.50 362.25,308.50 362.71,308.50 363.18,308.49 363.65,308.46 364.12,308.41 364.58,308.29 365.05,308.04 365.52,307.55 365.99,306.66 366.46,305.13 366.92,302.72 367.39,299.17 367.86,294.37 368.33,288.40 368.79,281.63 369.26,274.76 369.73,268.70 370.20,264.40 370.67,262.59 371.13,263.61 371.60,267.26 372.07,272.91 372.54,279.64 373.00,286.52 373.47,292.78 373.94,297.93 374.41,301.83 374.88,304.54 375.34,306.29 375.81,307.35 376.28,307.93 376.75,308.24 377.21,308.39 377.68,308.45 378.15,308.48 378.62,308.49 379.09,308.50 379.55,308.50 380.02,308.50 380.49,308.50 380.96,308.50 381.42,308.50 381.89,308.50 382.36,308.50 382.83,308.50 383.30,308.50 383.76,308.50 384.23,308.50 384.70,308.50 385.17,308.50 385.63,308.50 386.10,308.50 386.57,308.50 387.04,308.49 387.50,308.47 387.97,308.41 388.44,308.28 388.91,307.98 389.38,307.34 389.84,306.10 390.31,303.84 390.78,299.99 391.25,293.89 391.71,284.95 392.18,272.83 392.65,257.74 393.12,240.65 393.59,223.31 394.05,208.00 394.52,197.13 394.99,192.56 395.46,195.10 395.92,204.28 396.39,218.48 396.86,235.35 397.33,252.49 397.80,267.92 398.26,280.40 398.73,289.51 399.20,295.46 399.67,298.86 400.13,300.47 400.60,301.04 401.07,301.16 401.54,301.26 402.01,301.58 402.47,302.21 402.94,303.09 403.41,304.12 403.88,305.17 404.34,306.12 404.81,306.90 405.28,307.49 405.75,307.90 406.22,308.17 406.68,308.33 407.15,308.41 407.62,308.46 408.09,308.48 408.55,308.49 409.02,308.50 409.49,308.50 409.96,308.50 410.42,308.50 410.89,308.50 411.36,308.50 411.83,308.50 412.30,308.50 412.76,308.50 413.23,308.50 413.70,308.50 414.17,308.50 414.63,308.50 415.10,308.50 415.57,308.50 416.04,308.50 416.51,308.50 416.97,308.50 417.44,308.50 417.91,308.50 418.38,308.50 418.84,308.50 419.31,308.50 419.78,308.50 420.25,308.50 420.72,308.50 421.18,308.50 421.65,308.50 422.12,308.49 422.59,308.47 423.05,308.42 423.52,308.31 423.99,308.07 424.46,307.59 424.93,306.70 425.39,305.15 425.86,302.64 426.33,298.88 426.80,293.67 427.26,287.02 427.73,279.28 428.20,271.14 428.67,263.64 429.14,257.89 429.60,254.87 430.07,255.11 430.54,258.57 431.01,264.63 431.47,272.29 431.94,280.43 432.41,288.05 432.88,294.51 433.35,299.51 433.81,303.07 434.28,305.42 434.75,306.86 435.22,307.68 435.68,308.11 436.15,308.33 436.62,308.43 437.09,308.47 437.55,308.49 438.02,308.50 438.49,308.50 438.96,308.50 439.43,308.50 439.89,308.50 440.36,308.50 440.83,308.50 441.30,308.50 441.76,308.50 442.23,308.50 442.70,308.50 443.17,308.50 443.64,308.50 444.10,308.50 444.57,308.50 445.04,308.50 445.51,308.50 445.97,308.50 446.44,308.50 446.91,308.50 447.38,308.50 447.85,308.50 448.31,308.50 448.78,308.50 449.25,308.50 449.72,308.50 450.18,308.50 450.65,308.50 451.12,308.50 451.59,308.50 452.06,308.50 452.52,308.50 452.99,308.49 453.46,308.48 453.93,308.45 454.39,308.40 454.86,308.32 455.33,308.18 455.80,307.96 456.27,307.65 456.73,307.25 457.20,306.76 457.67,306.24 458.14,305.74 458.60,305.33 459.07,305.08 459.54,305.03 460.01,305.20 460.47,305.54 460.94,306.02 461.41,306.54 461.88,307.05 462.35,307.49 462.81,307.84 463.28,308.09 463.75,308.26 464.22,308.37 464.68,308.43 465.15,308.47 465.62,308.49 466.09,308.49 466.56,308.50 467.02,308.50 467.49,308.49 467.96,308.49 468.43,308.47 468.89,308.43 469.36,308.35 469.83,308.19 470.30,307.90 470.77,307.42 471.23,306.68 471.70,305.62 472.17,304.21 472.64,302.51 473.10,300.63 473.57,298.79 474.04,297.25 474.51,296.26 474.98,295.98 475.44,296.47 475.91,297.65 476.38,299.30 476.85,301.17 477.31,303.02 477.78,304.65 478.25,305.96 478.72,306.92 479.19,307.58 479.65,308.00 480.12,308.24 480.59,308.37 481.06,308.44 481.52,308.47 481.99,308.48 482.46,308.48 482.93,308.46 483.39,308.40 483.86,308.27 484.33,308.02 484.80,307.52 485.27,306.65 485.73,305.21 486.20,303.01 486.67,299.88 487.14,295.79 487.60,290.89 488.07,285.59 488.54,280.49 489.01,276.33 489.48,273.79 489.94,273.33 490.41,275.01 490.88,278.55 491.35,283.33 491.81,288.64 492.28,293.77 492.75,298.24 493.22,301.79 493.69,304.37 494.15,306.12 494.62,307.21 495.09,307.84 495.56,308.18 496.02,308.36 496.49,308.44 496.96,308.48 497.43,308.49 497.90,308.50 498.36,308.50 498.83,308.50 499.30,308.50 499.77,308.50 500.23,308.50 500.70,308.50 501.17,308.50 501.64,308.50 502.11,308.50 502.57,308.50 503.04,308.50 503.51,308.50 503.98,308.50 504.44,308.50 504.91,308.50 505.38,308.49 505.85,308.47 506.31,308.43 506.78,308.34 507.25,308.12 507.72,307.68 508.19,306.83 508.65,305.30 509.12,302.76 509.59,298.83 510.06,293.18 510.52,285.71 510.99,276.64 511.46,266.67 511.93,256.91 512.40,248.72 512.86,243.43 513.33,241.96 513.80,244.58 514.27,250.82 514.73,259.60 515.20,269.56 515.67,279.37 516.14,288.02 516.61,294.98 517.07,300.12 517.54,303.61 518.01,305.83 518.48,307.13 518.94,307.84 519.41,308.20 519.88,308.37 520.35,308.45 520.82,308.48 521.28,308.49 521.75,308.50 522.22,308.50 522.69,308.50 523.15,308.50 523.62,308.50 524.09,308.50 524.56,308.50 525.03,308.50 525.49,308.50 525.96,308.50 526.43,308.50 526.90,308.50 527.36,308.50 527.83,308.50 528.30,308.50 528.77,308.50 529.23,308.50 529.70,308.50 530.17,308.50 530.64,308.50 531.11,308.50 531.57,308.50 532.04,308.50 532.51,308.50 532.98,308.50 533.44,308.50 533.91,308.50 534.38,308.50 534.85,308.50 535.32,308.50 535.78,308.50 536.25,308.50 536.72,308.50 537.19,308.50 537.65,308.50 538.12,308.50 538.59,308.50 539.06,308.49 539.53,308.49 539.99,308.47 540.46,308.44 540.93,308.37 541.40,308.26 541.86,308.08 542.33,307.80 542.80,307.39 543.27,306.87 543.74,306.24 544.20,305.56 544.67,304.91 545.14,304.37 545.61,304.05 546.07,303.99 546.54,304.20 547.01,304.66 547.48,305.27 547.95,305.95 548.41,306.61 548.88,307.18 549.35,307.64 549.82,307.97 550.28,308.19 550.75,308.33 551.22,308.39 551.69,308.41 552.15,308.38 552.62,308.28 553.09,308.10 553.56,307.79 554.03,307.31 554.49,306.63 554.96,305.74 555.43,304.68 555.90,303.53 556.36,302.42 556.83,301.52 557.30,300.97 557.77,300.86 558.24,301.23 558.70,302.00 559.17,303.04 559.64,304.19 560.11,305.30 560.57,306.27 561.04,307.04 561.51,307.60 561.98,307.98 562.45,308.22 562.91,308.36 563.38,308.43 563.85,308.47 564.32,308.49 564.78,308.49 565.25,308.50 565.72,308.50 566.19,308.50 566.66,308.50 567.12,308.50 567.59,308.50 568.06,308.50 568.53,308.50 568.99,308.50 569.46,308.49 569.93,308.49 570.40,308.47 570.87,308.44 571.33,308.37 571.80,308.26 572.27,308.08 572.74,307.80 573.20,307.39 573.67,306.87 574.14,306.24 574.61,305.56 575.07,304.91 575.54,304.37 576.01,304.05 576.48,303.99 576.95,304.20 577.41,304.66 577.88,305.27 578.35,305.95 578.82,306.61 579.28,307.18 579.75,307.64 580.22,307.97 580.69,308.19 581.16,308.33 581.62,308.42 582.09,308.46 582.56,308.48 583.03,308.49 583.49,308.50 583.96,308.50 584.43,308.50 584.90,308.50 585.37,308.50 585.83,308.50 586.30,308.50 586.77,308.50 587.24,308.50 587.70,308.50 588.17,308.50 588.64,308.50 589.11,308.50 589.58,308.50 590.04,308.50 590.51,308.50 590.98,308.50 591.45,308.50 591.91,308.50 592.38,308.50 592.85,308.50 593.32,308.50 593.79,308.50 594.25,308.50 594.72,308.50 595.19,308.50 595.66,308.50 596.12,308.50 596.59,308.50 597.06,308.50 597.53,308.50 597.99,308.50 598.46,308.50 598.93,308.50 599.40,308.50 599.87,308.50 600.33,308.50 600.80,308.50 601.27,308.50 601.74,308.50 602.20,308.50 602.67,308.50 603.14,308.50 603.61,308.50 604.08,308.50 604.54,308.50 605.01,308.50" fill="none" stroke="#d2143c" stroke-width="1.25" stroke-linejoin="round"/>
<polyline points="328.10,308.50 328.57,308.50 329.04,308.50 329.50,308.50 329.97,308.50 330.44,308.50 330.91,308.50 331.37,308.50 331.84,308.50 332.31,308.50 332.78,308.50 333.25,308.50 333.71,308.50 334.18,308.50 334.65,308.50 335.12,308.50 335.58,308.50 336.05,308.50 336.52,308.49 336.99,308.47 337.46,308.44 337.92,308.36 338.39,308.21 338.86,307.93 339.33,307.45 339.79,306.68 340.26,305.51 340.73,303.89 341.20,301.79 341.66,299.31 342.13,296.62 342.60,294.04 343.07,291.92 343.54,290.57 344.00,290.24 344.47,290.97 344.94,292.64 345.41,294.98 345.87,297.64 346.34,300.28 346.81,302.63 347.28,304.54 347.75,305.97 348.21,306.93 348.68,307.49 349.15,307.71 349.62,307.63 350.08,307.25 350.55,306.55 351.02,305.50 351.49,304.08 351.96,302.35 352.42,300.43 352.89,298.51 353.36,296.85 353.83,295.70 354.29,295.25 354.76,295.57 355.23,296.61 355.70,298.20 356.17,300.09 356.63,302.03 357.10,303.81 357.57,305.30 358.04,306.44 358.50,307.25 358.97,307.78 359.44,308.11 359.91,308.30 360.38,308.41 360.84,308.46 361.31,308.48 361.78,308.49 362.25,308.50 362.71,308.50 363.18,308.50 363.65,308.50 364.12,308.50 364.58,308.50 365.05,308.50 365.52,308.50 365.99,308.50 366.46,308.49 366.92,308.48 367.39,308.44 367.86,308.37 368.33,308.21 368.79,307.88 369.26,307.27 369.73,306.21 370.20,304.47 370.67,301.81 371.13,298.04 371.60,293.09 372.07,287.11 372.54,280.52 373.00,274.01 373.47,268.43 373.94,264.64 374.41,263.25 374.88,264.52 375.34,268.21 375.81,273.72 376.28,280.21 376.75,286.82 377.21,292.84 377.68,297.84 378.15,301.66 378.62,304.37 379.09,306.15 379.55,307.24 380.02,307.86 380.49,308.20 380.96,308.36 381.42,308.44 381.89,308.48 382.36,308.49 382.83,308.50 383.30,308.50 383.76,308.50 384.23,308.50 384.70,308.50 385.17,308.50 385.63,308.50 386.10,308.50 386.57,308.50 387.04,308.50 387.50,308.50 387.97,308.50 388.44,308.50 388.91,308.50 389.38,308.50 389.84,308.50 390.31,308.50 390.78,308.49 391.25,308.49 391.71,308.46 392.18,308.40 392.65,308.25 393.12,307.93 393.59,307.28 394.05,306.03 394.52,303.80 394.99,300.05 395.46,294.19 395.92,285.68 396.39,274.19 396.86,259.89 397.33,243.61 397.80,226.86 398.26,211.72 398.73,200.38 399.20,194.68 399.67,195.58 400.13,202.91 400.60,215.42 401.07,231.11 401.54,247.73 402.01,263.29 402.47,276.43 402.94,286.48 403.41,293.43 403.88,297.72 404.34,299.99 404.81,300.95 405.28,301.23 405.75,301.29 406.22,301.46 406.68,301.89 407.15,302.59 407.62,303.50 408.09,304.51 408.55,305.50 409.02,306.37 409.49,307.08 409.96,307.60 410.42,307.97 410.89,308.20 411.36,308.34 411.83,308.42 412.30,308.46 412.76,308.48 413.23,308.49 413.70,308.50 414.17,308.50 414.63,308.50 415.10,308.50 415.57,308.50 416.04,308.50 416.51,308.50 416.97,308.50 417.44,308.50 417.91,308.50 418.38,308.50 418.84,308.50 419.31,308.50 419.78,308.50 420.25,308.50 420.72,308.50 421.18,308.50 421.65,308.50 422.12,308.50 422.59,308.50 423.05,308.50 423.52,308.50 423.99,308.50 424.46,308.50 424.93,308.50 425.39,308.50 425.86,308.50 426.33,308.50 426.80,308.49 427.26,308.48 427.73,308.46 428.20,308.40 428.67,308.28 429.14,308.01 429.60,307.50 430.07,306.57 430.54,304.99 431.01,302.49 431.47,298.80 431.94,293.74 432.41,287.33 432.88,279.90 433.35,272.09 433.81,264.81 434.28,259.10 434.75,255.87 435.22,255.66 435.68,258.51 436.15,263.94 436.62,271.06 437.09,278.86 437.55,286.39 438.02,292.96 438.49,298.20 438.96,302.07 439.43,304.72 439.89,306.40 440.36,307.41 440.83,307.96 441.30,308.25 441.76,308.39 442.23,308.45 442.70,308.48 443.17,308.49 443.64,308.50 444.10,308.50 444.57,308.50 445.04,308.50 445.51,308.50 445.97,308.50 446.44,308.50 446.91,308.50 447.38,308.50 447.85,308.50 448.31,308.50 448.78,308.50 449.25,308.50 449.72,308.50 450.18,308.50 450.65,308.50 451.12,308.50 451.59,308.50 452.06,308.50 452.52,308.50 452.99,308.50 453.46,308.50 453.93,308.50 454.39,308.50 454.86,308.50 455.33,308.50 455.80,308.50 456.27,308.50 456.73,308.50 457.20,308.50 457.67,308.50 458.14,308.50 458.60,308.49 459.07,308.48 459.54,308.47 460.01,308.43 460.47,308.37 460.94,308.26 461.41,308.10 461.88,307.85 462.35,307.52 462.81,307.10 463.28,306.61 463.75,306.11 464.22,305.65 464.68,305.29 465.15,305.10 465.62,305.10 466.09,305.30 466.56,305.66 467.02,306.12 467.49,306.63 467.96,307.11 468.43,307.53 468.89,307.86 469.36,308.10 469.83,308.27 470.30,308.37 470.77,308.43 471.23,308.47 471.70,308.48 472.17,308.49 472.64,308.50 473.10,308.50 473.57,308.50 474.04,308.49 474.51,308.48 474.98,308.44 475.44,308.38 475.91,308.25 476.38,308.03 476.85,307.65 477.31,307.04 477.78,306.16 478.25,304.96 478.72,303.45 479.19,301.71 479.65,299.89 480.12,298.22 480.59,296.94 481.06,296.25 481.52,296.26 481.99,296.97 482.46,298.28 482.93,299.95 483.39,301.77 483.86,303.50 484.33,305.00 484.80,306.20 485.27,307.07 485.73,307.66 486.20,308.04 486.67,308.26 487.14,308.38 487.60,308.45 488.07,308.47 488.54,308.48 489.01,308.48 489.48,308.46 489.94,308.41 490.41,308.30 490.88,308.07 491.35,307.64 491.81,306.88 492.28,305.63 492.75,303.70 493.22,300.93 493.69,297.25 494.15,292.76 494.62,287.74 495.09,282.69 495.56,278.27 496.02,275.13 496.49,273.79 496.96,274.48 497.43,277.08 497.90,281.15 498.36,286.07 498.83,291.17 499.30,295.87 499.77,299.84 500.23,302.90 500.70,305.08 501.17,306.54 501.64,307.44 502.11,307.96 502.57,308.24 503.04,308.38 503.51,308.45 503.98,308.48 504.44,308.49 504.91,308.50 505.38,308.50 505.85,308.50 506.31,308.50 506.78,308.50 507.25,308.50 507.72,308.50 508.19,308.50 508.65,308.50 509.12,308.50 509.59,308.50 510.06,308.50 510.52,308.50 510.99,308.50 511.46,308.50 511.93,308.50 512.40,308.49 512.86,308.48 513.33,308.45 513.80,308.38 514.27,308.23 514.73,307.91 515.20,307.29 515.67,306.17 516.14,304.25 516.61,301.20 517.07,296.69 517.54,290.50 518.01,282.65 518.48,273.50 518.94,263.86 519.41,254.83 519.88,247.71 520.35,243.61 520.82,243.23 521.28,246.63 521.75,253.24 522.22,261.98 522.69,271.60 523.15,280.92 523.62,289.08 524.09,295.61 524.56,300.44 525.03,303.75 525.49,305.86 525.96,307.12 526.43,307.82 526.90,308.18 527.36,308.36 527.83,308.44 528.30,308.48 528.77,308.49 529.23,308.50 529.70,308.50 530.17,308.50 530.64,308.50 531.11,308.50 531.57,308.50 532.04,308.50 532.51,308.50 532.98,308.50 533.44,308.50 533.91,308.50 534.38,308.50 534.85,308.50 535.32,308.50 535.78,308.50 536.25,308.50 536.72,308.50 537.19,308.50 537.65,308.50 538.12,308.50 538.59,308.50 539.06,308.50 539.53,308.50 539.99,308.50 540.46,308.50 540.93,308.50 541.40,308.50 541.86,308.50 542.33,308.50 542.80,308.50 543.27,308.50 543.74,308.50 544.20,308.50 544.67,308.50 545.14,308.50 545.61,308.50 546.07,308.50 546.54,308.50 547.01,308.50 547.48,308.49 547.95,308.48 548.41,308.45 548.88,308.40 549.35,308.30 549.82,308.15 550.28,307.91 550.75,307.57 551.22,307.11 551.69,306.54 552.15,305.90 552.62,305.25 553.09,304.67 553.56,304.25 554.03,304.05 554.49,304.12 554.96,304.43 555.43,304.94 555.90,305.56 556.36,306.21 556.83,306.83 557.30,307.34 557.77,307.75 558.24,308.04 558.70,308.23 559.17,308.34 559.64,308.40 560.11,308.41 560.57,308.37 561.04,308.27 561.51,308.09 561.98,307.78 562.45,307.32 562.91,306.67 563.38,305.82 563.85,304.81 564.32,303.70 564.78,302.63 565.25,301.73 565.72,301.14 566.19,300.96 566.66,301.22 567.12,301.88 567.59,302.83 568.06,303.92 568.53,305.01 568.99,306.00 569.46,306.81 569.93,307.42 570.40,307.85 570.87,308.13 571.33,308.31 571.80,308.40 572.27,308.45 572.74,308.48 573.20,308.49 573.67,308.50 574.14,308.50 574.61,308.50 575.07,308.50 575.54,308.50 576.01,308.50 576.48,308.50 576.95,308.50 577.41,308.50 577.88,308.50 578.35,308.49 578.82,308.49 579.28,308.47 579.75,308.44 580.22,308.37 580.69,308.26 581.16,308.08 581.62,307.81 582.09,307.43 582.56,306.93 583.03,306.34 583.49,305.69 583.96,305.05 584.43,304.51 584.90,304.16 585.37,304.04 585.83,304.19 586.30,304.57 586.77,305.13 587.24,305.77 587.70,306.42 588.17,307.01 588.64,307.49 589.11,307.85 589.58,308.11 590.04,308.28 590.51,308.38 590.98,308.44 591.45,308.47 591.91,308.49 592.38,308.49 592.85,308.50 593.32,308.50 593.79,308.50 594.25,308.50 594.72,308.50 595.19,308.50 595.66,308.50 596.12,308.50 596.59,308.50 597.06,308.50 597.53,308.50 597.99,308.50 598.46,308.50 598.93,308.50 599.40,308.50 599.87,308.50 600.33,308.50 600.80,308.50 601.27,308.50 601.74,308.50 602.20,308.50 602.67,308.50 603.14,308.50 603.61,308.50 604.08,308.50 604.54,308.50 605.01,308.50" fill="none" stroke="#8a1a40" stroke-width="1.25" stroke-linejoin="round"/>
<polyline points="328.10,308.50 328.57,308.50 329.04,308.50 329.50,308.50 329.97,308.50 330.44,308.50 330.91,308.50 331.37,308.50 331.84,308.50 332.31,308.50 332.78,308.50 333.25,308.50 333.71,308.50 334.18,308.50 334.65,308.50 335.12,308.50 335.58,308.50 336.05,308.50 336.52,308.50 336.99,308.50 337.46,308.49 337.92,308.49 338.39,308.47 338.86,308.42 339.33,308.34 339.79,308.17 340.26,307.86 340.73,307.35 341.20,306.53 341.66,305.31 342.13,303.65 342.60,301.52 343.07,299.03 343.54,296.37 344.00,293.85 344.47,291.79 344.94,290.52 345.41,290.25 345.87,291.01 346.34,292.69 346.81,295.01 347.28,297.64 347.75,300.25 348.21,302.58 348.68,304.48 349.15,305.91 349.62,306.88 350.08,307.46 350.55,307.70 351.02,307.65 351.49,307.31 351.96,306.65 352.42,305.65 352.89,304.30 353.36,302.63 353.83,300.75 354.29,298.84 354.76,297.13 355.23,295.88 355.70,295.28 356.17,295.43 356.63,296.31 357.10,297.77 357.57,299.59 358.04,301.51 358.50,303.33 358.97,304.89 359.44,306.12 359.91,307.02 360.38,307.63 360.84,308.02 361.31,308.25 361.78,308.38 362.25,308.44 362.71,308.47 363.18,308.49 363.65,308.50 364.12,308.50 364.58,308.50 365.05,308.50 365.52,308.50 365.99,308.50 366.46,308.50 366.92,308.50 367.39,308.50 367.86,308.50 368.33,308.49 368.79,308.47 369.26,308.42 369.73,308.31 370.20,308.09 370.67,307.67 371.13,306.91 371.60,305.63 372.07,303.59 372.54,300.57 373.00,296.43 373.47,291.15 373.94,284.98 374.41,278.40 374.88,272.16 375.34,267.10 375.81,263.98 376.28,263.34 376.75,265.26 377.21,269.44 377.68,275.20 378.15,281.71 378.62,288.16 379.09,293.93 379.55,298.65 380.02,302.22 380.49,304.72 380.96,306.35 381.42,307.35 381.89,307.92 382.36,308.22 382.83,308.37 383.30,308.45 383.76,308.48 384.23,308.49 384.70,308.50 385.17,308.50 385.63,308.50 386.10,308.50 386.57,308.50 387.04,308.50 387.50,308.50 387.97,308.50 388.44,308.50 388.91,308.50 389.38,308.50 389.84,308.50 390.31,308.50 390.78,308.50 391.25,308.50 391.71,308.50 392.18,308.50 392.65,308.50 393.12,308.49 393.59,308.47 394.05,308.41 394.52,308.29 394.99,308.02 395.46,307.46 395.92,306.38 396.39,304.44 396.86,301.15 397.33,295.94 397.80,288.26 398.26,277.72 398.73,264.34 399.20,248.71 399.67,232.10 400.13,216.38 400.60,203.69 401.07,195.96 401.54,194.47 402.01,199.46 402.47,210.08 402.94,224.61 403.41,240.92 403.88,256.95 404.34,271.08 404.81,282.39 405.28,290.62 405.75,296.00 406.22,299.10 406.68,300.60 407.15,301.14 407.62,301.26 408.09,301.35 408.55,301.62 409.02,302.17 409.49,302.97 409.96,303.93 410.42,304.93 410.89,305.87 411.36,306.67 411.83,307.30 412.30,307.75 412.76,308.06 413.23,308.26 413.70,308.37 414.17,308.44 414.63,308.47 415.10,308.49 415.57,308.49 416.04,308.50 416.51,308.50 416.97,308.50 417.44,308.50 417.91,308.50 418.38,308.50 418.84,308.50 419.31,308.50 419.78,308.50 420.25,308.50 420.72,308.50 421.18,308.50 421.65,308.50 422.12,308.50 422.59,308.50 423.05,308.50 423.52,308.50 423.99,308.50 424.46,308.50 424.93,308.50 425.39,308.50 425.86,308.50 426.33,308.50 426.80,308.50 427.26,308.50 427.73,308.50 428.20,308.50 428.67,308.50 429.14,308.49 429.60,308.49 430.07,308.46 430.54,308.41 431.01,308.29 431.47,308.05 431.94,307.59 432.41,306.73 432.88,305.28 433.35,302.97 433.81,299.54 434.28,294.79 434.75,288.70 435.22,281.52 435.68,273.81 436.15,266.41 436.62,260.31 437.09,256.43 437.55,255.41 438.02,257.42 438.49,262.13 438.96,268.77 439.43,276.39 439.89,284.00 440.36,290.86 440.83,296.52 441.30,300.82 441.76,303.85 442.23,305.85 442.70,307.07 443.17,307.77 443.64,308.15 444.10,308.34 444.57,308.43 445.04,308.47 445.51,308.49 445.97,308.50 446.44,308.50 446.91,308.50 447.38,308.50 447.85,308.50 448.31,308.50 448.78,308.50 449.25,308.50 449.72,308.50 450.18,308.50 450.65,308.50 451.12,308.50 451.59,308.50 452.06,308.50 452.52,308.50 452.99,308.50 453.46,308.50 453.93,308.50 454.39,308.50 454.86,308.50 455.33,308.50 455.80,308.50 456.27,308.50 456.73,308.50 457.20,308.50 457.67,308.50 458.14,308.50 458.60,308.50 459.07,308.50 459.54,308.50 460.01,308.50 460.47,308.50 460.94,308.50 461.41,308.49 461.88,308.48 462.35,308.46 462.81,308.43 463.28,308.36 463.75,308.25 464.22,308.08 464.68,307.84 465.15,307.50 465.62,307.09 466.09,306.61 466.56,306.11 467.02,305.65 467.49,305.30 467.96,305.10 468.43,305.09 468.89,305.28 469.36,305.63 469.83,306.09 470.30,306.58 470.77,307.06 471.23,307.48 471.70,307.82 472.17,308.07 472.64,308.25 473.10,308.36 473.57,308.42 474.04,308.46 474.51,308.48 474.98,308.49 475.44,308.50 475.91,308.50 476.38,308.50 476.85,308.49 477.31,308.48 477.78,308.46 478.25,308.40 478.72,308.30 479.19,308.11 479.65,307.79 480.12,307.28 480.59,306.51 481.06,305.43 481.52,304.04 481.99,302.40 482.46,300.61 482.93,298.87 483.39,297.42 483.86,296.46 484.33,296.16 484.80,296.57 485.27,297.61 485.73,299.12 486.20,300.87 486.67,302.65 487.14,304.27 487.60,305.61 488.07,306.64 488.54,307.37 489.01,307.85 489.48,308.15 489.94,308.32 490.41,308.41 490.88,308.46 491.35,308.48 491.81,308.49 492.28,308.48 492.75,308.45 493.22,308.38 493.69,308.24 494.15,307.96 494.62,307.46 495.09,306.58 495.56,305.18 496.02,303.06 496.49,300.09 496.96,296.25 497.43,291.65 497.90,286.63 498.36,281.72 498.83,277.55 499.30,274.75 499.77,273.76 500.23,274.77 500.70,277.59 501.17,281.77 501.64,286.69 502.11,291.71 502.57,296.30 503.04,300.13 503.51,303.09 503.98,305.19 504.44,306.60 504.91,307.46 505.38,307.97 505.85,308.24 506.31,308.38 506.78,308.45 507.25,308.48 507.72,308.49 508.19,308.50 508.65,308.50 509.12,308.50 509.59,308.50 510.06,308.50 510.52,308.50 510.99,308.50 511.46,308.50 511.93,308.50 512.40,308.50 512.86,308.50 513.33,308.50 513.80,308.50 514.27,308.50 514.73,308.50 515.20,308.50 515.67,308.49 516.14,308.49 516.61,308.46 517.07,308.41 517.54,308.28 518.01,308.03 518.48,307.52 518.94,306.59 519.41,304.98 519.88,302.38 520.35,298.45 520.82,292.94 521.28,285.76 521.75,277.13 522.22,267.67 522.69,258.36 523.15,250.39 523.62,244.95 524.09,242.92 524.56,244.64 525.03,249.81 525.49,257.61 525.96,266.86 526.43,276.35 526.90,285.07 527.36,292.39 527.83,298.05 528.30,302.10 528.77,304.80 529.23,306.48 529.70,307.46 530.17,308.00 530.64,308.27 531.11,308.40 531.57,308.46 532.04,308.48 532.51,308.49 532.98,308.50 533.44,308.50 533.91,308.50 534.38,308.50 534.85,308.50 535.32,308.50 535.78,308.50 536.25,308.50 536.72,308.50 537.19,308.50 537.65,308.50 538.12,308.50 538.59,308.50 539.06,308.50 539.53,308.50 539.99,308.50 540.46,308.50 540.93,308.50 541.40,308.50 541.86,308.50 542.33,308.50 542.80,308.50 543.27,308.50 543.74,308.50 544.20,308.50 544.67,308.50 545.14,308.50 545.61,308.50 546.07,308.50 546.54,308.50 547.01,308.50 547.48,308.50 547.95,308.50 548.41,308.50 548.88,308.50 549.35,308.50 549.82,308.50 550.28,308.50 550.75,308.50 551.22,308.49 551.69,308.48 552.15,308.45 552.62,308.41 553.09,308.32 553.56,308.18 554.03,307.97 554.49,307.65 554.96,307.22 555.43,306.68 555.90,306.06 556.36,305.41 556.83,304.81 557.30,304.35 557.77,304.08 558.24,304.07 558.70,304.31 559.17,304.75 559.64,305.34 560.11,305.99 560.57,306.61 561.04,307.16 561.51,307.61 561.98,307.94 562.45,308.16 562.91,308.30 563.38,308.38 563.85,308.41 564.32,308.40 564.78,308.33 565.25,308.19 565.72,307.95 566.19,307.57 566.66,307.03 567.12,306.29 567.59,305.37 568.06,304.31 568.53,303.22 568.99,302.21 569.46,301.44 569.93,301.01 570.40,301.01 570.87,301.43 571.33,302.21 571.80,303.21 572.27,304.30 572.74,305.36 573.20,306.28 573.67,307.02 574.14,307.57 574.61,307.95 575.07,308.19 575.54,308.34 576.01,308.42 576.48,308.46 576.95,308.48 577.41,308.49 577.88,308.50 578.35,308.50 578.82,308.50 579.28,308.50 579.75,308.50 580.22,308.50 580.69,308.50 581.16,308.50 581.62,308.50 582.09,308.50 582.56,308.49 583.03,308.49 583.49,308.47 583.96,308.43 584.43,308.37 584.90,308.26 585.37,308.08 585.83,307.81 586.30,307.43 586.77,306.94 587.24,306.36 587.70,305.71 588.17,305.08 588.64,304.54 589.11,304.18 589.58,304.04 590.04,304.17 590.51,304.52 590.98,305.05 591.45,305.68 591.91,306.33 592.38,306.92 592.85,307.41 593.32,307.80 593.79,308.07 594.25,308.25 594.72,308.36 595.19,308.43 595.66,308.47 596.12,308.48 596.59,308.49 597.06,308.50 597.53,308.50 597.99,308.50 598.46,308.50 598.93,308.50 599.40,308.50 599.87,308.50 600.33,308.50 600.80,308.50 601.27,308.50 601.74,308.50 602.20,308.50 602.67,308.50 603.14,308.50 603.61,308.50 604.08,308.50 604.54,308.50 605.01,308.50" fill="none" stroke="#3a24e0" stroke-width="1.25" stroke-linejoin="round"/>
<rect x="328.2" y="180.9" width="300.59999999999997" height="127.6" fill="none" stroke="#333" stroke-opacity="0.8" stroke-width="1.25"/>
<text x="0" y="357.6" font-size="10" fill="#222">1.  Al-HAP particles and ho chrononio (hi Lisas an Heel emonths of shahoxaorahelliste all  Al-HAP particles and chlos anaviewle o T h  l el  Cllb</text>
</svg>
</body></html>
